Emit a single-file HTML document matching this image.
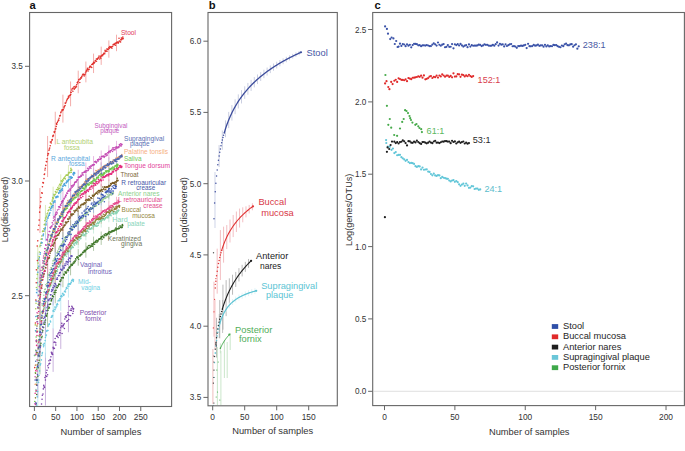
<!DOCTYPE html>
<html><head><meta charset="utf-8"><style>
html,body{margin:0;padding:0;background:#fff;width:685px;height:451px;overflow:hidden}
svg{display:block;font-family:"Liberation Sans",sans-serif}
</style></head><body><svg width="685" height="451" viewBox="0 0 685 451" font-family='"Liberation Sans", sans-serif'><rect width="685" height="451" fill="#fff"/><line x1="39.93" y1="329.31" x2="39.93" y2="374.31" stroke="#9eba94" stroke-width="0.8"/><line x1="47.59" y1="297.1" x2="47.59" y2="327.27" stroke="#9eba94" stroke-width="0.8"/><line x1="55.25" y1="279.31" x2="55.25" y2="303.31" stroke="#9eba94" stroke-width="0.8"/><line x1="62.91" y1="266.78" x2="62.91" y2="287.3" stroke="#9eba94" stroke-width="0.8"/><line x1="70.57" y1="257.08" x2="70.57" y2="275.3" stroke="#9eba94" stroke-width="0.8"/><line x1="78.23" y1="249.15" x2="78.23" y2="265.71" stroke="#9eba94" stroke-width="0.8"/><line x1="85.89" y1="242.45" x2="85.89" y2="257.72" stroke="#9eba94" stroke-width="0.8"/><line x1="93.54" y1="236.64" x2="93.54" y2="250.89" stroke="#9eba94" stroke-width="0.8"/><line x1="101.2" y1="231.5" x2="101.2" y2="244.91" stroke="#9eba94" stroke-width="0.8"/><line x1="108.86" y1="226.91" x2="108.86" y2="239.61" stroke="#9eba94" stroke-width="0.8"/><line x1="116.52" y1="222.75" x2="116.52" y2="234.84" stroke="#9eba94" stroke-width="0.8"/><line x1="45.46" y1="352.57" x2="45.46" y2="405.5" stroke="#bc9fd4" stroke-width="0.8"/><line x1="53.12" y1="328.42" x2="53.12" y2="371.87" stroke="#bc9fd4" stroke-width="0.8"/><line x1="60.78" y1="312.33" x2="60.78" y2="348.93" stroke="#bc9fd4" stroke-width="0.8"/><line x1="68.44" y1="300.02" x2="68.44" y2="332.24" stroke="#bc9fd4" stroke-width="0.8"/><line x1="37.8" y1="363.37" x2="37.8" y2="405.5" stroke="#b6e5f0" stroke-width="0.8"/><line x1="45.46" y1="316.53" x2="45.46" y2="357.72" stroke="#b6e5f0" stroke-width="0.8"/><line x1="53.12" y1="297.31" x2="53.12" y2="328.97" stroke="#b6e5f0" stroke-width="0.8"/><line x1="60.78" y1="284.16" x2="60.78" y2="310.83" stroke="#b6e5f0" stroke-width="0.8"/><line x1="68.44" y1="274.14" x2="68.44" y2="297.61" stroke="#b6e5f0" stroke-width="0.8"/><line x1="37.8" y1="342.71" x2="37.8" y2="397.71" stroke="#b4aadc" stroke-width="0.8"/><line x1="45.46" y1="292.33" x2="45.46" y2="335.47" stroke="#b4aadc" stroke-width="0.8"/><line x1="53.12" y1="272.18" x2="53.12" y2="305.35" stroke="#b4aadc" stroke-width="0.8"/><line x1="60.78" y1="258.41" x2="60.78" y2="286.35" stroke="#b4aadc" stroke-width="0.8"/><line x1="68.44" y1="247.91" x2="68.44" y2="272.51" stroke="#b4aadc" stroke-width="0.8"/><line x1="39.93" y1="311.99" x2="39.93" y2="356.99" stroke="#c2e8d8" stroke-width="0.8"/><line x1="47.59" y1="279.77" x2="47.59" y2="309.94" stroke="#c2e8d8" stroke-width="0.8"/><line x1="55.25" y1="261.98" x2="55.25" y2="285.98" stroke="#c2e8d8" stroke-width="0.8"/><line x1="62.91" y1="249.45" x2="62.91" y2="269.97" stroke="#c2e8d8" stroke-width="0.8"/><line x1="70.57" y1="239.75" x2="70.57" y2="257.97" stroke="#c2e8d8" stroke-width="0.8"/><line x1="78.23" y1="231.83" x2="78.23" y2="248.38" stroke="#c2e8d8" stroke-width="0.8"/><line x1="85.89" y1="225.12" x2="85.89" y2="240.39" stroke="#c2e8d8" stroke-width="0.8"/><line x1="93.54" y1="219.31" x2="93.54" y2="233.56" stroke="#c2e8d8" stroke-width="0.8"/><line x1="101.2" y1="214.18" x2="101.2" y2="227.58" stroke="#c2e8d8" stroke-width="0.8"/><line x1="108.86" y1="209.58" x2="108.86" y2="222.28" stroke="#c2e8d8" stroke-width="0.8"/><line x1="116.52" y1="205.42" x2="116.52" y2="217.51" stroke="#c2e8d8" stroke-width="0.8"/><line x1="39.93" y1="310.19" x2="39.93" y2="355.19" stroke="#c6be9a" stroke-width="0.8"/><line x1="47.59" y1="276.93" x2="47.59" y2="307.68" stroke="#c6be9a" stroke-width="0.8"/><line x1="55.25" y1="258.8" x2="55.25" y2="283.25" stroke="#c6be9a" stroke-width="0.8"/><line x1="62.91" y1="246.03" x2="62.91" y2="266.94" stroke="#c6be9a" stroke-width="0.8"/><line x1="70.57" y1="236.14" x2="70.57" y2="254.71" stroke="#c6be9a" stroke-width="0.8"/><line x1="78.23" y1="228.07" x2="78.23" y2="244.94" stroke="#c6be9a" stroke-width="0.8"/><line x1="85.89" y1="221.24" x2="85.89" y2="236.8" stroke="#c6be9a" stroke-width="0.8"/><line x1="93.54" y1="215.31" x2="93.54" y2="229.84" stroke="#c6be9a" stroke-width="0.8"/><line x1="101.2" y1="210.08" x2="101.2" y2="223.75" stroke="#c6be9a" stroke-width="0.8"/><line x1="108.86" y1="205.4" x2="108.86" y2="218.34" stroke="#c6be9a" stroke-width="0.8"/><line x1="116.52" y1="201.16" x2="116.52" y2="213.48" stroke="#c6be9a" stroke-width="0.8"/><line x1="39.93" y1="309.5" x2="39.93" y2="354.5" stroke="#f2a2c4" stroke-width="0.8"/><line x1="47.59" y1="274.68" x2="47.59" y2="306.29" stroke="#f2a2c4" stroke-width="0.8"/><line x1="55.25" y1="256.04" x2="55.25" y2="281.18" stroke="#f2a2c4" stroke-width="0.8"/><line x1="62.91" y1="242.91" x2="62.91" y2="264.42" stroke="#f2a2c4" stroke-width="0.8"/><line x1="70.57" y1="232.75" x2="70.57" y2="251.84" stroke="#f2a2c4" stroke-width="0.8"/><line x1="78.23" y1="224.45" x2="78.23" y2="241.79" stroke="#f2a2c4" stroke-width="0.8"/><line x1="85.89" y1="217.43" x2="85.89" y2="233.43" stroke="#f2a2c4" stroke-width="0.8"/><line x1="93.54" y1="211.34" x2="93.54" y2="226.27" stroke="#f2a2c4" stroke-width="0.8"/><line x1="101.2" y1="205.96" x2="101.2" y2="220.01" stroke="#f2a2c4" stroke-width="0.8"/><line x1="108.86" y1="201.15" x2="108.86" y2="214.45" stroke="#f2a2c4" stroke-width="0.8"/><line x1="116.52" y1="196.79" x2="116.52" y2="209.46" stroke="#f2a2c4" stroke-width="0.8"/><line x1="39.93" y1="299.66" x2="39.93" y2="344.66" stroke="#cee6cc" stroke-width="0.8"/><line x1="47.59" y1="263.8" x2="47.59" y2="295.98" stroke="#cee6cc" stroke-width="0.8"/><line x1="55.25" y1="244.82" x2="55.25" y2="270.42" stroke="#cee6cc" stroke-width="0.8"/><line x1="62.91" y1="231.46" x2="62.91" y2="253.35" stroke="#cee6cc" stroke-width="0.8"/><line x1="70.57" y1="221.11" x2="70.57" y2="240.55" stroke="#cee6cc" stroke-width="0.8"/><line x1="78.23" y1="212.66" x2="78.23" y2="230.31" stroke="#cee6cc" stroke-width="0.8"/><line x1="85.89" y1="205.51" x2="85.89" y2="221.8" stroke="#cee6cc" stroke-width="0.8"/><line x1="93.54" y1="199.31" x2="93.54" y2="214.51" stroke="#cee6cc" stroke-width="0.8"/><line x1="101.2" y1="193.83" x2="101.2" y2="208.13" stroke="#cee6cc" stroke-width="0.8"/><line x1="108.86" y1="188.93" x2="108.86" y2="202.48" stroke="#cee6cc" stroke-width="0.8"/><line x1="39.93" y1="311.44" x2="39.93" y2="356.44" stroke="#9cacda" stroke-width="0.8"/><line x1="47.59" y1="268.28" x2="47.59" y2="304.49" stroke="#9cacda" stroke-width="0.8"/><line x1="55.25" y1="246.93" x2="55.25" y2="275.73" stroke="#9cacda" stroke-width="0.8"/><line x1="62.91" y1="231.9" x2="62.91" y2="256.53" stroke="#9cacda" stroke-width="0.8"/><line x1="70.57" y1="220.26" x2="70.57" y2="242.12" stroke="#9cacda" stroke-width="0.8"/><line x1="78.23" y1="210.75" x2="78.23" y2="230.61" stroke="#9cacda" stroke-width="0.8"/><line x1="85.89" y1="202.7" x2="85.89" y2="221.03" stroke="#9cacda" stroke-width="0.8"/><line x1="93.54" y1="195.73" x2="93.54" y2="212.83" stroke="#9cacda" stroke-width="0.8"/><line x1="101.2" y1="189.57" x2="101.2" y2="205.66" stroke="#9cacda" stroke-width="0.8"/><line x1="108.86" y1="184.05" x2="108.86" y2="199.29" stroke="#9cacda" stroke-width="0.8"/><line x1="39.93" y1="276.24" x2="39.93" y2="320.62" stroke="#bcae92" stroke-width="0.8"/><line x1="47.59" y1="246.32" x2="47.59" y2="275.06" stroke="#bcae92" stroke-width="0.8"/><line x1="55.25" y1="229.38" x2="55.25" y2="252.23" stroke="#bcae92" stroke-width="0.8"/><line x1="62.91" y1="217.44" x2="62.91" y2="236.99" stroke="#bcae92" stroke-width="0.8"/><line x1="70.57" y1="208.21" x2="70.57" y2="225.56" stroke="#bcae92" stroke-width="0.8"/><line x1="78.23" y1="200.66" x2="78.23" y2="216.42" stroke="#bcae92" stroke-width="0.8"/><line x1="85.89" y1="194.27" x2="85.89" y2="208.82" stroke="#bcae92" stroke-width="0.8"/><line x1="93.54" y1="188.74" x2="93.54" y2="202.31" stroke="#bcae92" stroke-width="0.8"/><line x1="101.2" y1="183.85" x2="101.2" y2="196.62" stroke="#bcae92" stroke-width="0.8"/><line x1="108.86" y1="179.47" x2="108.86" y2="191.57" stroke="#bcae92" stroke-width="0.8"/><line x1="116.52" y1="175.51" x2="116.52" y2="187.03" stroke="#bcae92" stroke-width="0.8"/><line x1="39.93" y1="277.06" x2="39.93" y2="322.06" stroke="#f294be" stroke-width="0.8"/><line x1="47.59" y1="241.71" x2="47.59" y2="273.61" stroke="#f294be" stroke-width="0.8"/><line x1="55.25" y1="222.91" x2="55.25" y2="248.28" stroke="#f294be" stroke-width="0.8"/><line x1="62.91" y1="209.66" x2="62.91" y2="231.36" stroke="#f294be" stroke-width="0.8"/><line x1="70.57" y1="199.41" x2="70.57" y2="218.67" stroke="#f294be" stroke-width="0.8"/><line x1="78.23" y1="191.03" x2="78.23" y2="208.53" stroke="#f294be" stroke-width="0.8"/><line x1="85.89" y1="183.94" x2="85.89" y2="200.09" stroke="#f294be" stroke-width="0.8"/><line x1="93.54" y1="177.8" x2="93.54" y2="192.86" stroke="#f294be" stroke-width="0.8"/><line x1="101.2" y1="172.37" x2="101.2" y2="186.55" stroke="#f294be" stroke-width="0.8"/><line x1="108.86" y1="167.51" x2="108.86" y2="180.94" stroke="#f294be" stroke-width="0.8"/><line x1="116.52" y1="163.12" x2="116.52" y2="175.9" stroke="#f294be" stroke-width="0.8"/><line x1="39.93" y1="263.97" x2="39.93" y2="308.97" stroke="#b6e2a4" stroke-width="0.8"/><line x1="47.59" y1="232.79" x2="47.59" y2="262.39" stroke="#b6e2a4" stroke-width="0.8"/><line x1="55.25" y1="215.34" x2="55.25" y2="238.88" stroke="#b6e2a4" stroke-width="0.8"/><line x1="62.91" y1="203.05" x2="62.91" y2="223.18" stroke="#b6e2a4" stroke-width="0.8"/><line x1="70.57" y1="193.53" x2="70.57" y2="211.41" stroke="#b6e2a4" stroke-width="0.8"/><line x1="78.23" y1="185.76" x2="78.23" y2="202" stroke="#b6e2a4" stroke-width="0.8"/><line x1="85.89" y1="179.18" x2="85.89" y2="194.17" stroke="#b6e2a4" stroke-width="0.8"/><line x1="93.54" y1="173.48" x2="93.54" y2="187.46" stroke="#b6e2a4" stroke-width="0.8"/><line x1="101.2" y1="168.45" x2="101.2" y2="181.6" stroke="#b6e2a4" stroke-width="0.8"/><line x1="108.86" y1="163.94" x2="108.86" y2="176.4" stroke="#b6e2a4" stroke-width="0.8"/><line x1="116.52" y1="159.86" x2="116.52" y2="171.72" stroke="#b6e2a4" stroke-width="0.8"/><line x1="39.93" y1="269.05" x2="39.93" y2="314.05" stroke="#fad4bc" stroke-width="0.8"/><line x1="47.59" y1="232.67" x2="47.59" y2="265.14" stroke="#fad4bc" stroke-width="0.8"/><line x1="55.25" y1="213.52" x2="55.25" y2="239.35" stroke="#fad4bc" stroke-width="0.8"/><line x1="62.91" y1="200.04" x2="62.91" y2="222.13" stroke="#fad4bc" stroke-width="0.8"/><line x1="70.57" y1="189.6" x2="70.57" y2="209.21" stroke="#fad4bc" stroke-width="0.8"/><line x1="78.23" y1="181.07" x2="78.23" y2="198.88" stroke="#fad4bc" stroke-width="0.8"/><line x1="85.89" y1="173.86" x2="85.89" y2="190.29" stroke="#fad4bc" stroke-width="0.8"/><line x1="93.54" y1="167.6" x2="93.54" y2="182.94" stroke="#fad4bc" stroke-width="0.8"/><line x1="101.2" y1="162.08" x2="101.2" y2="176.51" stroke="#fad4bc" stroke-width="0.8"/><line x1="108.86" y1="157.13" x2="108.86" y2="170.8" stroke="#fad4bc" stroke-width="0.8"/><line x1="116.52" y1="152.65" x2="116.52" y2="165.67" stroke="#fad4bc" stroke-width="0.8"/><line x1="39.93" y1="269.45" x2="39.93" y2="314.45" stroke="#a6b2d8" stroke-width="0.8"/><line x1="47.59" y1="233.07" x2="47.59" y2="265.54" stroke="#a6b2d8" stroke-width="0.8"/><line x1="55.25" y1="213.92" x2="55.25" y2="239.75" stroke="#a6b2d8" stroke-width="0.8"/><line x1="62.91" y1="200.44" x2="62.91" y2="222.53" stroke="#a6b2d8" stroke-width="0.8"/><line x1="70.57" y1="190" x2="70.57" y2="209.61" stroke="#a6b2d8" stroke-width="0.8"/><line x1="78.23" y1="181.47" x2="78.23" y2="199.28" stroke="#a6b2d8" stroke-width="0.8"/><line x1="85.89" y1="174.26" x2="85.89" y2="190.69" stroke="#a6b2d8" stroke-width="0.8"/><line x1="93.54" y1="168" x2="93.54" y2="183.34" stroke="#a6b2d8" stroke-width="0.8"/><line x1="101.2" y1="162.48" x2="101.2" y2="176.91" stroke="#a6b2d8" stroke-width="0.8"/><line x1="108.86" y1="157.53" x2="108.86" y2="171.2" stroke="#a6b2d8" stroke-width="0.8"/><line x1="116.52" y1="153.05" x2="116.52" y2="166.07" stroke="#a6b2d8" stroke-width="0.8"/><line x1="39.93" y1="259.75" x2="39.93" y2="304.75" stroke="#e2a6da" stroke-width="0.8"/><line x1="47.59" y1="222.32" x2="47.59" y2="255.37" stroke="#e2a6da" stroke-width="0.8"/><line x1="55.25" y1="202.84" x2="55.25" y2="229.12" stroke="#e2a6da" stroke-width="0.8"/><line x1="62.91" y1="189.11" x2="62.91" y2="211.59" stroke="#e2a6da" stroke-width="0.8"/><line x1="70.57" y1="178.49" x2="70.57" y2="198.45" stroke="#e2a6da" stroke-width="0.8"/><line x1="78.23" y1="169.81" x2="78.23" y2="187.94" stroke="#e2a6da" stroke-width="0.8"/><line x1="85.89" y1="162.47" x2="85.89" y2="179.2" stroke="#e2a6da" stroke-width="0.8"/><line x1="93.54" y1="156.1" x2="93.54" y2="171.71" stroke="#e2a6da" stroke-width="0.8"/><line x1="101.2" y1="150.48" x2="101.2" y2="165.17" stroke="#e2a6da" stroke-width="0.8"/><line x1="108.86" y1="145.45" x2="108.86" y2="159.36" stroke="#e2a6da" stroke-width="0.8"/><line x1="116.52" y1="140.89" x2="116.52" y2="154.13" stroke="#e2a6da" stroke-width="0.8"/><line x1="37.8" y1="252.45" x2="37.8" y2="297.45" stroke="#a4d0ee" stroke-width="0.8"/><line x1="45.46" y1="211.42" x2="45.46" y2="241.23" stroke="#a4d0ee" stroke-width="0.8"/><line x1="53.12" y1="193.16" x2="53.12" y2="216.08" stroke="#a4d0ee" stroke-width="0.8"/><line x1="60.78" y1="180.82" x2="60.78" y2="200.12" stroke="#a4d0ee" stroke-width="0.8"/><line x1="68.44" y1="171.46" x2="68.44" y2="188.45" stroke="#a4d0ee" stroke-width="0.8"/><line x1="37.8" y1="245.96" x2="37.8" y2="290.96" stroke="#d4e6aa" stroke-width="0.8"/><line x1="45.46" y1="204.93" x2="45.46" y2="234.74" stroke="#d4e6aa" stroke-width="0.8"/><line x1="53.12" y1="186.67" x2="53.12" y2="209.58" stroke="#d4e6aa" stroke-width="0.8"/><line x1="60.78" y1="174.33" x2="60.78" y2="193.63" stroke="#d4e6aa" stroke-width="0.8"/><line x1="68.44" y1="164.96" x2="68.44" y2="181.96" stroke="#d4e6aa" stroke-width="0.8"/><line x1="39.93" y1="187.99" x2="39.93" y2="232.99" stroke="#f09896" stroke-width="0.8"/><line x1="47.59" y1="135.97" x2="47.59" y2="177.07" stroke="#f09896" stroke-width="0.8"/><line x1="55.25" y1="111.74" x2="55.25" y2="144.43" stroke="#f09896" stroke-width="0.8"/><line x1="62.91" y1="94.68" x2="62.91" y2="122.63" stroke="#f09896" stroke-width="0.8"/><line x1="70.57" y1="81.47" x2="70.57" y2="106.29" stroke="#f09896" stroke-width="0.8"/><line x1="78.23" y1="70.68" x2="78.23" y2="93.22" stroke="#f09896" stroke-width="0.8"/><line x1="85.89" y1="61.55" x2="85.89" y2="82.35" stroke="#f09896" stroke-width="0.8"/><line x1="93.54" y1="53.63" x2="93.54" y2="73.04" stroke="#f09896" stroke-width="0.8"/><line x1="101.2" y1="46.64" x2="101.2" y2="64.9" stroke="#f09896" stroke-width="0.8"/><line x1="108.86" y1="40.38" x2="108.86" y2="57.68" stroke="#f09896" stroke-width="0.8"/><line x1="116.52" y1="34.71" x2="116.52" y2="51.18" stroke="#f09896" stroke-width="0.8"/><line x1="219.1" y1="145.04" x2="219.1" y2="167.04" stroke="#b4bad4" stroke-width="0.7"/><line x1="222.3" y1="130.51" x2="222.3" y2="149.73" stroke="#b4bad4" stroke-width="0.7"/><line x1="225.5" y1="120.37" x2="225.5" y2="137.24" stroke="#b4bad4" stroke-width="0.7"/><line x1="228.7" y1="111.91" x2="228.7" y2="128.11" stroke="#b4bad4" stroke-width="0.7"/><line x1="231.9" y1="105.05" x2="231.9" y2="120.58" stroke="#b4bad4" stroke-width="0.7"/><line x1="235.1" y1="99.3" x2="235.1" y2="114.15" stroke="#b4bad4" stroke-width="0.7"/><line x1="238.3" y1="94.39" x2="238.3" y2="108.49" stroke="#b4bad4" stroke-width="0.7"/><line x1="241.5" y1="90.11" x2="241.5" y2="103.46" stroke="#b4bad4" stroke-width="0.7"/><line x1="244.7" y1="86.31" x2="244.7" y2="98.91" stroke="#b4bad4" stroke-width="0.7"/><line x1="247.9" y1="82.91" x2="247.9" y2="94.76" stroke="#b4bad4" stroke-width="0.7"/><line x1="251.1" y1="79.83" x2="251.1" y2="90.93" stroke="#b4bad4" stroke-width="0.7"/><line x1="254.3" y1="77.03" x2="254.3" y2="87.38" stroke="#b4bad4" stroke-width="0.7"/><line x1="257.5" y1="74.47" x2="257.5" y2="84.07" stroke="#b4bad4" stroke-width="0.7"/><line x1="260.7" y1="72.07" x2="260.7" y2="80.98" stroke="#b4bad4" stroke-width="0.7"/><line x1="263.9" y1="69.73" x2="263.9" y2="78.2" stroke="#b4bad4" stroke-width="0.7"/><line x1="267.1" y1="67.53" x2="267.1" y2="75.58" stroke="#b4bad4" stroke-width="0.7"/><line x1="270.3" y1="65.48" x2="270.3" y2="73.09" stroke="#b4bad4" stroke-width="0.7"/><line x1="273.5" y1="63.55" x2="273.5" y2="70.72" stroke="#b4bad4" stroke-width="0.7"/><line x1="276.7" y1="61.72" x2="276.7" y2="68.46" stroke="#b4bad4" stroke-width="0.7"/><line x1="279.9" y1="60" x2="279.9" y2="66.3" stroke="#b4bad4" stroke-width="0.7"/><line x1="283.1" y1="58.36" x2="283.1" y2="64.23" stroke="#b4bad4" stroke-width="0.7"/><line x1="286.3" y1="56.81" x2="286.3" y2="62.25" stroke="#b4bad4" stroke-width="0.7"/><line x1="289.5" y1="55.33" x2="289.5" y2="60.33" stroke="#b4bad4" stroke-width="0.7"/><line x1="292.7" y1="53.85" x2="292.7" y2="58.57" stroke="#b4bad4" stroke-width="0.7"/><line x1="295.9" y1="52.42" x2="295.9" y2="56.87" stroke="#b4bad4" stroke-width="0.7"/><line x1="299.1" y1="51.06" x2="299.1" y2="55.22" stroke="#b4bad4" stroke-width="0.7"/><line x1="215" y1="172" x2="215" y2="228" stroke="#b9c2de" stroke-width="0.7"/><line x1="213.98" y1="281.68" x2="213.98" y2="336.68" stroke="#eea2a8" stroke-width="0.7"/><line x1="217.18" y1="248.65" x2="217.18" y2="293.65" stroke="#eea2a8" stroke-width="0.7"/><line x1="220.38" y1="230.02" x2="220.38" y2="280.02" stroke="#eea2a8" stroke-width="0.7"/><line x1="223.58" y1="226.67" x2="223.58" y2="262.67" stroke="#eea2a8" stroke-width="0.7"/><line x1="226.78" y1="225.05" x2="226.78" y2="249.05" stroke="#eea2a8" stroke-width="0.7"/><line x1="229.98" y1="219.52" x2="229.98" y2="242.52" stroke="#eea2a8" stroke-width="0.7"/><line x1="233.18" y1="215.04" x2="233.18" y2="237.04" stroke="#eea2a8" stroke-width="0.7"/><line x1="236.38" y1="211.53" x2="236.38" y2="232.03" stroke="#eea2a8" stroke-width="0.7"/><line x1="239.58" y1="208.58" x2="239.58" y2="227.58" stroke="#eea2a8" stroke-width="0.7"/><line x1="242.78" y1="207.3" x2="242.78" y2="222.3" stroke="#eea2a8" stroke-width="0.7"/><line x1="245.98" y1="206.36" x2="245.98" y2="217.36" stroke="#eea2a8" stroke-width="0.7"/><line x1="249.18" y1="204.94" x2="249.18" y2="213.44" stroke="#eea2a8" stroke-width="0.7"/><line x1="252.38" y1="203.26" x2="252.38" y2="210.26" stroke="#eea2a8" stroke-width="0.7"/><line x1="216.54" y1="317.82" x2="216.54" y2="357.54" stroke="#9c9c9c" stroke-width="0.7"/><line x1="219.74" y1="300.07" x2="219.74" y2="338.36" stroke="#9c9c9c" stroke-width="0.7"/><line x1="222.94" y1="284.67" x2="222.94" y2="329.67" stroke="#9c9c9c" stroke-width="0.7"/><line x1="226.14" y1="280.12" x2="226.14" y2="316.12" stroke="#9c9c9c" stroke-width="0.7"/><line x1="229.34" y1="278.34" x2="229.34" y2="303.34" stroke="#9c9c9c" stroke-width="0.7"/><line x1="232.54" y1="274.73" x2="232.54" y2="294.73" stroke="#9c9c9c" stroke-width="0.7"/><line x1="235.74" y1="271.95" x2="235.74" y2="286.95" stroke="#9c9c9c" stroke-width="0.7"/><line x1="238.94" y1="268.13" x2="238.94" y2="281.46" stroke="#9c9c9c" stroke-width="0.7"/><line x1="242.14" y1="264.8" x2="242.14" y2="276.46" stroke="#9c9c9c" stroke-width="0.7"/><line x1="245.34" y1="261.86" x2="245.34" y2="271.86" stroke="#9c9c9c" stroke-width="0.7"/><line x1="248.54" y1="258.96" x2="248.54" y2="267.85" stroke="#9c9c9c" stroke-width="0.7"/><line x1="216.54" y1="337.4" x2="216.54" y2="343.4" stroke="#d2eef4" stroke-width="0.7"/><line x1="219.74" y1="320.88" x2="219.74" y2="326.88" stroke="#d2eef4" stroke-width="0.7"/><line x1="222.94" y1="312.04" x2="222.94" y2="318.04" stroke="#d2eef4" stroke-width="0.7"/><line x1="226.14" y1="306.29" x2="226.14" y2="312.29" stroke="#d2eef4" stroke-width="0.7"/><line x1="229.34" y1="302.16" x2="229.34" y2="308.16" stroke="#d2eef4" stroke-width="0.7"/><line x1="232.54" y1="299.01" x2="232.54" y2="305.01" stroke="#d2eef4" stroke-width="0.7"/><line x1="235.74" y1="296.52" x2="235.74" y2="302.52" stroke="#d2eef4" stroke-width="0.7"/><line x1="238.94" y1="294.48" x2="238.94" y2="300.48" stroke="#d2eef4" stroke-width="0.7"/><line x1="242.14" y1="292.79" x2="242.14" y2="298.79" stroke="#d2eef4" stroke-width="0.7"/><line x1="245.34" y1="291.36" x2="245.34" y2="297.36" stroke="#d2eef4" stroke-width="0.7"/><line x1="248.54" y1="290.13" x2="248.54" y2="296.13" stroke="#d2eef4" stroke-width="0.7"/><line x1="251.74" y1="289.06" x2="251.74" y2="295.06" stroke="#d2eef4" stroke-width="0.7"/><line x1="254.94" y1="288.13" x2="254.94" y2="294.13" stroke="#d2eef4" stroke-width="0.7"/><line x1="220.38" y1="343.32" x2="220.38" y2="353.32" stroke="#bde0bd" stroke-width="0.7"/><line x1="217.4" y1="347" x2="217.4" y2="405" stroke="#bde0bd" stroke-width="0.8"/><line x1="220.9" y1="351" x2="220.9" y2="405" stroke="#bde0bd" stroke-width="0.8"/><line x1="224.4" y1="340" x2="224.4" y2="378" stroke="#bde0bd" stroke-width="0.8"/><line x1="227.2" y1="342" x2="227.2" y2="378" stroke="#bde0bd" stroke-width="0.8"/><line x1="230.2" y1="333" x2="230.2" y2="350" stroke="#bde0bd" stroke-width="0.8"/><line x1="215" y1="300" x2="215" y2="349" stroke="#f3b0b0" stroke-width="0.7"/><line x1="212.9" y1="349" x2="212.9" y2="404" stroke="#e8a0a0" stroke-width="0.7"/><line x1="219.3" y1="314" x2="219.3" y2="338" stroke="#a8a8a8" stroke-width="0.7"/><line x1="222.6" y1="300" x2="222.6" y2="333" stroke="#a8a8a8" stroke-width="0.7"/><line x1="373.7" y1="391.3" x2="682.9" y2="391.3" stroke="#d8d8d8" stroke-width="0.8"/><circle cx="36.1" cy="403.78" r="0.78" fill="#3e7628"/><circle cx="36.65" cy="394.54" r="0.78" fill="#3e7628"/><circle cx="36.71" cy="385.32" r="0.78" fill="#3e7628"/><circle cx="37.06" cy="380.14" r="0.78" fill="#3e7628"/><circle cx="37.84" cy="376.14" r="0.78" fill="#3e7628"/><circle cx="38.24" cy="367.8" r="0.78" fill="#3e7628"/><circle cx="38.62" cy="362.82" r="0.78" fill="#3e7628"/><circle cx="39.09" cy="360.17" r="0.78" fill="#3e7628"/><circle cx="39.38" cy="355.99" r="0.78" fill="#3e7628"/><circle cx="39.7" cy="351.96" r="0.78" fill="#3e7628"/><circle cx="40.33" cy="347.11" r="0.78" fill="#3e7628"/><circle cx="40.64" cy="345.25" r="0.78" fill="#3e7628"/><circle cx="40.96" cy="343.3" r="0.78" fill="#3e7628"/><circle cx="41.71" cy="337.76" r="0.78" fill="#3e7628"/><circle cx="42.05" cy="336.36" r="0.78" fill="#3e7628"/><circle cx="42.55" cy="331.99" r="0.78" fill="#3e7628"/><circle cx="42.76" cy="330.48" r="0.78" fill="#3e7628"/><circle cx="43.24" cy="327.56" r="0.78" fill="#3e7628"/><circle cx="43.61" cy="327.52" r="0.78" fill="#3e7628"/><circle cx="44.05" cy="324.18" r="0.78" fill="#3e7628"/><circle cx="44.64" cy="324.2" r="0.78" fill="#3e7628"/><circle cx="44.92" cy="322.19" r="0.78" fill="#3e7628"/><circle cx="45.52" cy="319.97" r="0.78" fill="#3e7628"/><circle cx="45.94" cy="315.39" r="0.78" fill="#3e7628"/><circle cx="46.62" cy="316.17" r="0.78" fill="#3e7628"/><circle cx="46.53" cy="315.17" r="0.78" fill="#3e7628"/><circle cx="47.3" cy="313.82" r="0.78" fill="#3e7628"/><circle cx="47.58" cy="310.35" r="0.78" fill="#3e7628"/><circle cx="48.01" cy="310.17" r="0.78" fill="#3e7628"/><circle cx="48.22" cy="308.17" r="0.78" fill="#3e7628"/><circle cx="48.8" cy="307.02" r="0.78" fill="#3e7628"/><circle cx="49.4" cy="307.89" r="0.78" fill="#3e7628"/><circle cx="49.71" cy="304.42" r="0.78" fill="#3e7628"/><circle cx="50.16" cy="304.08" r="0.78" fill="#3e7628"/><circle cx="50.53" cy="303.92" r="0.78" fill="#3e7628"/><circle cx="51.17" cy="301.04" r="0.78" fill="#3e7628"/><circle cx="51.42" cy="300.43" r="0.78" fill="#3e7628"/><circle cx="51.52" cy="299.56" r="0.78" fill="#3e7628"/><circle cx="52.17" cy="298.41" r="0.78" fill="#3e7628"/><circle cx="52.4" cy="295.88" r="0.78" fill="#3e7628"/><circle cx="52.63" cy="296.3" r="0.78" fill="#3e7628"/><circle cx="53.47" cy="296.72" r="0.78" fill="#3e7628"/><circle cx="54.17" cy="292.46" r="0.78" fill="#3e7628"/><circle cx="54.41" cy="294.16" r="0.78" fill="#3e7628"/><circle cx="54.65" cy="292.38" r="0.78" fill="#3e7628"/><circle cx="55.11" cy="290.6" r="0.78" fill="#3e7628"/><circle cx="55.84" cy="292.59" r="0.78" fill="#3e7628"/><circle cx="56.12" cy="290.32" r="0.78" fill="#3e7628"/><circle cx="56.53" cy="287.28" r="0.78" fill="#3e7628"/><circle cx="56.94" cy="287.81" r="0.78" fill="#3e7628"/><circle cx="57.38" cy="287.5" r="0.78" fill="#3e7628"/><circle cx="57.92" cy="285.83" r="0.78" fill="#3e7628"/><circle cx="58.31" cy="285.96" r="0.78" fill="#3e7628"/><circle cx="58.69" cy="284.34" r="0.78" fill="#3e7628"/><circle cx="58.92" cy="284.34" r="0.78" fill="#3e7628"/><circle cx="59.58" cy="284.38" r="0.78" fill="#3e7628"/><circle cx="59.83" cy="281.35" r="0.78" fill="#3e7628"/><circle cx="60.52" cy="281.53" r="0.78" fill="#3e7628"/><circle cx="60.59" cy="280.08" r="0.78" fill="#3e7628"/><circle cx="61.19" cy="279.98" r="0.78" fill="#3e7628"/><circle cx="61.63" cy="277.87" r="0.78" fill="#3e7628"/><circle cx="61.86" cy="277.81" r="0.78" fill="#3e7628"/><circle cx="62.74" cy="277.52" r="0.78" fill="#3e7628"/><circle cx="63.13" cy="277.99" r="0.78" fill="#3e7628"/><circle cx="63.26" cy="277.57" r="0.78" fill="#3e7628"/><circle cx="63.88" cy="274.31" r="0.78" fill="#3e7628"/><circle cx="64.24" cy="274.21" r="0.78" fill="#3e7628"/><circle cx="64.22" cy="275.07" r="0.78" fill="#3e7628"/><circle cx="65.07" cy="271.68" r="0.78" fill="#3e7628"/><circle cx="65.45" cy="272.65" r="0.78" fill="#3e7628"/><circle cx="65.9" cy="272.41" r="0.78" fill="#3e7628"/><circle cx="66.15" cy="273.2" r="0.78" fill="#3e7628"/><circle cx="66.7" cy="272.01" r="0.78" fill="#3e7628"/><circle cx="67.14" cy="270.36" r="0.78" fill="#3e7628"/><circle cx="67.77" cy="269.73" r="0.78" fill="#3e7628"/><circle cx="68.06" cy="269.27" r="0.78" fill="#3e7628"/><circle cx="68.44" cy="270.52" r="0.78" fill="#3e7628"/><circle cx="69.09" cy="267.95" r="0.78" fill="#3e7628"/><circle cx="69.21" cy="267.51" r="0.78" fill="#3e7628"/><circle cx="69.66" cy="267.63" r="0.78" fill="#3e7628"/><circle cx="69.87" cy="266.6" r="0.78" fill="#3e7628"/><circle cx="70.8" cy="265.99" r="0.78" fill="#3e7628"/><circle cx="71.14" cy="264.52" r="0.78" fill="#3e7628"/><circle cx="71.56" cy="265.12" r="0.78" fill="#3e7628"/><circle cx="71.94" cy="264.16" r="0.78" fill="#3e7628"/><circle cx="72.29" cy="265.27" r="0.78" fill="#3e7628"/><circle cx="72.73" cy="264.24" r="0.78" fill="#3e7628"/><circle cx="73.08" cy="263.05" r="0.78" fill="#3e7628"/><circle cx="73.52" cy="263.25" r="0.78" fill="#3e7628"/><circle cx="73.98" cy="261.74" r="0.78" fill="#3e7628"/><circle cx="74.62" cy="262.66" r="0.78" fill="#3e7628"/><circle cx="74.91" cy="261.11" r="0.78" fill="#3e7628"/><circle cx="75.24" cy="261.22" r="0.78" fill="#3e7628"/><circle cx="75.59" cy="258.87" r="0.78" fill="#3e7628"/><circle cx="76" cy="260.05" r="0.78" fill="#3e7628"/><circle cx="76.76" cy="257.54" r="0.78" fill="#3e7628"/><circle cx="77.03" cy="256.74" r="0.78" fill="#3e7628"/><circle cx="77.39" cy="258.02" r="0.78" fill="#3e7628"/><circle cx="77.75" cy="256.98" r="0.78" fill="#3e7628"/><circle cx="78.06" cy="257.59" r="0.78" fill="#3e7628"/><circle cx="78.64" cy="259.22" r="0.78" fill="#3e7628"/><circle cx="79.21" cy="255.73" r="0.78" fill="#3e7628"/><circle cx="79.44" cy="255.5" r="0.78" fill="#3e7628"/><circle cx="79.89" cy="255.9" r="0.78" fill="#3e7628"/><circle cx="80.32" cy="255.76" r="0.78" fill="#3e7628"/><circle cx="80.8" cy="254.67" r="0.78" fill="#3e7628"/><circle cx="80.97" cy="254.23" r="0.78" fill="#3e7628"/><circle cx="81.6" cy="254.71" r="0.78" fill="#3e7628"/><circle cx="81.93" cy="254.12" r="0.78" fill="#3e7628"/><circle cx="82.61" cy="252.19" r="0.78" fill="#3e7628"/><circle cx="82.79" cy="252.72" r="0.78" fill="#3e7628"/><circle cx="83.42" cy="252.44" r="0.78" fill="#3e7628"/><circle cx="83.99" cy="250.97" r="0.78" fill="#3e7628"/><circle cx="84.14" cy="251.87" r="0.78" fill="#3e7628"/><circle cx="84.52" cy="250.39" r="0.78" fill="#3e7628"/><circle cx="85.06" cy="251.8" r="0.78" fill="#3e7628"/><circle cx="85.46" cy="250.65" r="0.78" fill="#3e7628"/><circle cx="85.74" cy="250.17" r="0.78" fill="#3e7628"/><circle cx="86.38" cy="249.13" r="0.78" fill="#3e7628"/><circle cx="87.04" cy="249.22" r="0.78" fill="#3e7628"/><circle cx="87.12" cy="247.02" r="0.78" fill="#3e7628"/><circle cx="87.56" cy="247.5" r="0.78" fill="#3e7628"/><circle cx="87.86" cy="248.59" r="0.78" fill="#3e7628"/><circle cx="88.49" cy="245.81" r="0.78" fill="#3e7628"/><circle cx="88.68" cy="248.34" r="0.78" fill="#3e7628"/><circle cx="89.12" cy="245.47" r="0.78" fill="#3e7628"/><circle cx="89.91" cy="247.55" r="0.78" fill="#3e7628"/><circle cx="90" cy="245.64" r="0.78" fill="#3e7628"/><circle cx="90.73" cy="246.87" r="0.78" fill="#3e7628"/><circle cx="91.22" cy="245.9" r="0.78" fill="#3e7628"/><circle cx="91.46" cy="243.95" r="0.78" fill="#3e7628"/><circle cx="91.93" cy="246.3" r="0.78" fill="#3e7628"/><circle cx="92.56" cy="246.15" r="0.78" fill="#3e7628"/><circle cx="92.66" cy="244.36" r="0.78" fill="#3e7628"/><circle cx="93.03" cy="243.83" r="0.78" fill="#3e7628"/><circle cx="93.34" cy="243.61" r="0.78" fill="#3e7628"/><circle cx="93.98" cy="242.5" r="0.78" fill="#3e7628"/><circle cx="94.62" cy="244.16" r="0.78" fill="#3e7628"/><circle cx="94.96" cy="242.27" r="0.78" fill="#3e7628"/><circle cx="95.11" cy="242.42" r="0.78" fill="#3e7628"/><circle cx="95.54" cy="241.39" r="0.78" fill="#3e7628"/><circle cx="96.02" cy="241.23" r="0.78" fill="#3e7628"/><circle cx="96.57" cy="240.3" r="0.78" fill="#3e7628"/><circle cx="96.92" cy="242.41" r="0.78" fill="#3e7628"/><circle cx="97.41" cy="240.75" r="0.78" fill="#3e7628"/><circle cx="97.84" cy="241.51" r="0.78" fill="#3e7628"/><circle cx="98.18" cy="240.3" r="0.78" fill="#3e7628"/><circle cx="98.64" cy="239.32" r="0.78" fill="#3e7628"/><circle cx="99.11" cy="239.37" r="0.78" fill="#3e7628"/><circle cx="99.49" cy="238.85" r="0.78" fill="#3e7628"/><circle cx="100" cy="239.09" r="0.78" fill="#3e7628"/><circle cx="100.63" cy="238.44" r="0.78" fill="#3e7628"/><circle cx="100.87" cy="238.21" r="0.78" fill="#3e7628"/><circle cx="101.21" cy="236.9" r="0.78" fill="#3e7628"/><circle cx="101.38" cy="237.15" r="0.78" fill="#3e7628"/><circle cx="102.11" cy="239.2" r="0.78" fill="#3e7628"/><circle cx="102.19" cy="236.71" r="0.78" fill="#3e7628"/><circle cx="102.69" cy="236.06" r="0.78" fill="#3e7628"/><circle cx="103.46" cy="237.1" r="0.78" fill="#3e7628"/><circle cx="103.86" cy="237.83" r="0.78" fill="#3e7628"/><circle cx="104.16" cy="234.84" r="0.78" fill="#3e7628"/><circle cx="104.35" cy="235.74" r="0.78" fill="#3e7628"/><circle cx="104.98" cy="235.07" r="0.78" fill="#3e7628"/><circle cx="105.36" cy="233.73" r="0.78" fill="#3e7628"/><circle cx="105.98" cy="235.81" r="0.78" fill="#3e7628"/><circle cx="106.65" cy="234.83" r="0.78" fill="#3e7628"/><circle cx="106.77" cy="234.65" r="0.78" fill="#3e7628"/><circle cx="107.04" cy="233.6" r="0.78" fill="#3e7628"/><circle cx="107.41" cy="234.47" r="0.78" fill="#3e7628"/><circle cx="108" cy="233.28" r="0.78" fill="#3e7628"/><circle cx="108.41" cy="233.38" r="0.78" fill="#3e7628"/><circle cx="108.69" cy="232.22" r="0.78" fill="#3e7628"/><circle cx="109.31" cy="231.86" r="0.78" fill="#3e7628"/><circle cx="109.54" cy="233.99" r="0.78" fill="#3e7628"/><circle cx="110.31" cy="232.01" r="0.78" fill="#3e7628"/><circle cx="110.72" cy="232.5" r="0.78" fill="#3e7628"/><circle cx="111.15" cy="231.94" r="0.78" fill="#3e7628"/><circle cx="111.34" cy="231.31" r="0.78" fill="#3e7628"/><circle cx="111.92" cy="230.99" r="0.78" fill="#3e7628"/><circle cx="112.25" cy="231.81" r="0.78" fill="#3e7628"/><circle cx="112.63" cy="230.69" r="0.78" fill="#3e7628"/><circle cx="113.07" cy="230.58" r="0.78" fill="#3e7628"/><circle cx="113.35" cy="230.5" r="0.78" fill="#3e7628"/><circle cx="113.75" cy="231.33" r="0.78" fill="#3e7628"/><circle cx="114.51" cy="230.62" r="0.78" fill="#3e7628"/><circle cx="114.79" cy="230.1" r="0.78" fill="#3e7628"/><circle cx="115.28" cy="228.98" r="0.78" fill="#3e7628"/><circle cx="115.82" cy="227.98" r="0.78" fill="#3e7628"/><circle cx="115.84" cy="229.91" r="0.78" fill="#3e7628"/><circle cx="116.4" cy="229.69" r="0.78" fill="#3e7628"/><circle cx="116.97" cy="228.43" r="0.78" fill="#3e7628"/><circle cx="117.43" cy="228.83" r="0.78" fill="#3e7628"/><circle cx="117.74" cy="228.82" r="0.78" fill="#3e7628"/><circle cx="118.38" cy="228.63" r="0.78" fill="#3e7628"/><circle cx="118.68" cy="228.48" r="0.78" fill="#3e7628"/><circle cx="118.89" cy="226.97" r="0.78" fill="#3e7628"/><circle cx="119.36" cy="228.57" r="0.78" fill="#3e7628"/><circle cx="120.05" cy="225.79" r="0.78" fill="#3e7628"/><circle cx="120.42" cy="227.51" r="0.78" fill="#3e7628"/><circle cx="120.49" cy="226.95" r="0.78" fill="#3e7628"/><circle cx="121.4" cy="227.07" r="0.78" fill="#3e7628"/><circle cx="121.72" cy="227.78" r="0.78" fill="#3e7628"/><circle cx="122.25" cy="227.19" r="0.78" fill="#3e7628"/><circle cx="122.42" cy="224.54" r="0.78" fill="#3e7628"/><circle cx="122.42" cy="225.6" r="1.1" fill="#3e7628"/><circle cx="41.52" cy="404.08" r="0.78" fill="#7a3fa8"/><circle cx="42.05" cy="399.22" r="0.78" fill="#7a3fa8"/><circle cx="42.33" cy="395.2" r="0.78" fill="#7a3fa8"/><circle cx="43" cy="394" r="0.78" fill="#7a3fa8"/><circle cx="43.32" cy="388.88" r="0.78" fill="#7a3fa8"/><circle cx="43.8" cy="385.4" r="0.78" fill="#7a3fa8"/><circle cx="44.16" cy="386.89" r="0.78" fill="#7a3fa8"/><circle cx="44.5" cy="387.46" r="0.78" fill="#7a3fa8"/><circle cx="44.9" cy="377.41" r="0.78" fill="#7a3fa8"/><circle cx="45.43" cy="380.08" r="0.78" fill="#7a3fa8"/><circle cx="45.81" cy="375.86" r="0.78" fill="#7a3fa8"/><circle cx="46.35" cy="372.76" r="0.78" fill="#7a3fa8"/><circle cx="46.74" cy="376.55" r="0.78" fill="#7a3fa8"/><circle cx="46.96" cy="370.3" r="0.78" fill="#7a3fa8"/><circle cx="47.6" cy="374.77" r="0.78" fill="#7a3fa8"/><circle cx="47.81" cy="365.82" r="0.78" fill="#7a3fa8"/><circle cx="48.35" cy="367.72" r="0.78" fill="#7a3fa8"/><circle cx="48.82" cy="364.1" r="0.78" fill="#7a3fa8"/><circle cx="48.98" cy="360.82" r="0.78" fill="#7a3fa8"/><circle cx="49.73" cy="363.38" r="0.78" fill="#7a3fa8"/><circle cx="50.17" cy="359.52" r="0.78" fill="#7a3fa8"/><circle cx="50.55" cy="360.34" r="0.78" fill="#7a3fa8"/><circle cx="50.93" cy="356.86" r="0.78" fill="#7a3fa8"/><circle cx="51.36" cy="352.23" r="0.78" fill="#7a3fa8"/><circle cx="51.7" cy="353.85" r="0.78" fill="#7a3fa8"/><circle cx="52.23" cy="352.95" r="0.78" fill="#7a3fa8"/><circle cx="52.61" cy="354.38" r="0.78" fill="#7a3fa8"/><circle cx="53.14" cy="347.38" r="0.78" fill="#7a3fa8"/><circle cx="53.37" cy="348.74" r="0.78" fill="#7a3fa8"/><circle cx="54.01" cy="342.37" r="0.78" fill="#7a3fa8"/><circle cx="54.42" cy="348.37" r="0.78" fill="#7a3fa8"/><circle cx="54.8" cy="341.91" r="0.78" fill="#7a3fa8"/><circle cx="55.18" cy="338.55" r="0.78" fill="#7a3fa8"/><circle cx="55.76" cy="342.69" r="0.78" fill="#7a3fa8"/><circle cx="55.85" cy="345.08" r="0.78" fill="#7a3fa8"/><circle cx="56.6" cy="336.04" r="0.78" fill="#7a3fa8"/><circle cx="56.99" cy="336.28" r="0.78" fill="#7a3fa8"/><circle cx="57.42" cy="336.25" r="0.78" fill="#7a3fa8"/><circle cx="57.86" cy="334.05" r="0.78" fill="#7a3fa8"/><circle cx="58.13" cy="337.56" r="0.78" fill="#7a3fa8"/><circle cx="58.61" cy="332.99" r="0.78" fill="#7a3fa8"/><circle cx="59.17" cy="332.27" r="0.78" fill="#7a3fa8"/><circle cx="59.57" cy="335.2" r="0.78" fill="#7a3fa8"/><circle cx="59.96" cy="330.24" r="0.78" fill="#7a3fa8"/><circle cx="60.13" cy="332.85" r="0.78" fill="#7a3fa8"/><circle cx="60.86" cy="327.74" r="0.78" fill="#7a3fa8"/><circle cx="61.38" cy="326.11" r="0.78" fill="#7a3fa8"/><circle cx="61.78" cy="323.36" r="0.78" fill="#7a3fa8"/><circle cx="62.09" cy="333.47" r="0.78" fill="#7a3fa8"/><circle cx="62.25" cy="326.12" r="0.78" fill="#7a3fa8"/><circle cx="63.05" cy="326.94" r="0.78" fill="#7a3fa8"/><circle cx="63.31" cy="325.28" r="0.78" fill="#7a3fa8"/><circle cx="63.38" cy="325.02" r="0.78" fill="#7a3fa8"/><circle cx="64.24" cy="323.87" r="0.78" fill="#7a3fa8"/><circle cx="64.39" cy="328.56" r="0.78" fill="#7a3fa8"/><circle cx="64.84" cy="319.06" r="0.78" fill="#7a3fa8"/><circle cx="65.37" cy="316.74" r="0.78" fill="#7a3fa8"/><circle cx="66.08" cy="317.58" r="0.78" fill="#7a3fa8"/><circle cx="66.26" cy="315.87" r="0.78" fill="#7a3fa8"/><circle cx="66.78" cy="321.25" r="0.78" fill="#7a3fa8"/><circle cx="67.43" cy="320.72" r="0.78" fill="#7a3fa8"/><circle cx="67.83" cy="314.74" r="0.78" fill="#7a3fa8"/><circle cx="68" cy="312.76" r="0.78" fill="#7a3fa8"/><circle cx="68.4" cy="315.09" r="0.78" fill="#7a3fa8"/><circle cx="68.68" cy="319.5" r="0.78" fill="#7a3fa8"/><circle cx="69.19" cy="306.46" r="0.78" fill="#7a3fa8"/><circle cx="69.78" cy="315.58" r="0.78" fill="#7a3fa8"/><circle cx="70.2" cy="310.2" r="0.78" fill="#7a3fa8"/><circle cx="70.58" cy="315.72" r="0.78" fill="#7a3fa8"/><circle cx="71.14" cy="308.86" r="0.78" fill="#7a3fa8"/><circle cx="71.3" cy="310.52" r="0.78" fill="#7a3fa8"/><circle cx="71.84" cy="306.31" r="0.78" fill="#7a3fa8"/><circle cx="72.38" cy="307.21" r="0.78" fill="#7a3fa8"/><circle cx="72.78" cy="313.47" r="0.78" fill="#7a3fa8"/><circle cx="73.28" cy="311.19" r="0.78" fill="#7a3fa8"/><circle cx="73.28" cy="308.8" r="1.1" fill="#7a3fa8"/><circle cx="36.71" cy="405.17" r="0.78" fill="#6ccbe0"/><circle cx="37.22" cy="396.86" r="0.78" fill="#6ccbe0"/><circle cx="37.75" cy="391.46" r="0.78" fill="#6ccbe0"/><circle cx="38.61" cy="382.39" r="0.78" fill="#6ccbe0"/><circle cx="38.8" cy="380.05" r="0.78" fill="#6ccbe0"/><circle cx="39.06" cy="375.3" r="0.78" fill="#6ccbe0"/><circle cx="39.61" cy="370.9" r="0.78" fill="#6ccbe0"/><circle cx="40.24" cy="364.92" r="0.78" fill="#6ccbe0"/><circle cx="40.32" cy="364.8" r="0.78" fill="#6ccbe0"/><circle cx="40.73" cy="363.69" r="0.78" fill="#6ccbe0"/><circle cx="41.39" cy="359.89" r="0.78" fill="#6ccbe0"/><circle cx="41.71" cy="355.54" r="0.78" fill="#6ccbe0"/><circle cx="42.16" cy="353.87" r="0.78" fill="#6ccbe0"/><circle cx="42.41" cy="352.62" r="0.78" fill="#6ccbe0"/><circle cx="43.2" cy="344.79" r="0.78" fill="#6ccbe0"/><circle cx="43.59" cy="346.67" r="0.78" fill="#6ccbe0"/><circle cx="43.85" cy="345.58" r="0.78" fill="#6ccbe0"/><circle cx="44.29" cy="343.76" r="0.78" fill="#6ccbe0"/><circle cx="44.31" cy="343.35" r="0.78" fill="#6ccbe0"/><circle cx="45.13" cy="340.62" r="0.78" fill="#6ccbe0"/><circle cx="45.43" cy="337.59" r="0.78" fill="#6ccbe0"/><circle cx="45.95" cy="335.85" r="0.78" fill="#6ccbe0"/><circle cx="46.42" cy="334.91" r="0.78" fill="#6ccbe0"/><circle cx="46.69" cy="331.36" r="0.78" fill="#6ccbe0"/><circle cx="46.91" cy="330.54" r="0.78" fill="#6ccbe0"/><circle cx="47.65" cy="330.42" r="0.78" fill="#6ccbe0"/><circle cx="47.9" cy="330.48" r="0.78" fill="#6ccbe0"/><circle cx="48.39" cy="326.03" r="0.78" fill="#6ccbe0"/><circle cx="48.78" cy="324.82" r="0.78" fill="#6ccbe0"/><circle cx="49.24" cy="323.85" r="0.78" fill="#6ccbe0"/><circle cx="49.37" cy="324.19" r="0.78" fill="#6ccbe0"/><circle cx="50.33" cy="321" r="0.78" fill="#6ccbe0"/><circle cx="50.61" cy="321.89" r="0.78" fill="#6ccbe0"/><circle cx="51.16" cy="317.28" r="0.78" fill="#6ccbe0"/><circle cx="51.72" cy="317.22" r="0.78" fill="#6ccbe0"/><circle cx="51.85" cy="316.08" r="0.78" fill="#6ccbe0"/><circle cx="52" cy="316.35" r="0.78" fill="#6ccbe0"/><circle cx="52.56" cy="315.63" r="0.78" fill="#6ccbe0"/><circle cx="52.94" cy="311.06" r="0.78" fill="#6ccbe0"/><circle cx="53.47" cy="310.86" r="0.78" fill="#6ccbe0"/><circle cx="53.98" cy="311.57" r="0.78" fill="#6ccbe0"/><circle cx="54.1" cy="309.23" r="0.78" fill="#6ccbe0"/><circle cx="54.88" cy="307.1" r="0.78" fill="#6ccbe0"/><circle cx="55.02" cy="309.64" r="0.78" fill="#6ccbe0"/><circle cx="55.72" cy="307.98" r="0.78" fill="#6ccbe0"/><circle cx="56.08" cy="307.07" r="0.78" fill="#6ccbe0"/><circle cx="56.48" cy="304.88" r="0.78" fill="#6ccbe0"/><circle cx="56.94" cy="306.03" r="0.78" fill="#6ccbe0"/><circle cx="57.3" cy="303.48" r="0.78" fill="#6ccbe0"/><circle cx="57.71" cy="304.43" r="0.78" fill="#6ccbe0"/><circle cx="57.98" cy="300.92" r="0.78" fill="#6ccbe0"/><circle cx="58.65" cy="300.2" r="0.78" fill="#6ccbe0"/><circle cx="59.36" cy="300.81" r="0.78" fill="#6ccbe0"/><circle cx="59.8" cy="298.83" r="0.78" fill="#6ccbe0"/><circle cx="60.13" cy="299.89" r="0.78" fill="#6ccbe0"/><circle cx="60.46" cy="298.58" r="0.78" fill="#6ccbe0"/><circle cx="60.68" cy="296.28" r="0.78" fill="#6ccbe0"/><circle cx="61.42" cy="296.86" r="0.78" fill="#6ccbe0"/><circle cx="61.62" cy="295.59" r="0.78" fill="#6ccbe0"/><circle cx="62.05" cy="296.54" r="0.78" fill="#6ccbe0"/><circle cx="62.44" cy="293.82" r="0.78" fill="#6ccbe0"/><circle cx="62.92" cy="293.39" r="0.78" fill="#6ccbe0"/><circle cx="63.27" cy="294.86" r="0.78" fill="#6ccbe0"/><circle cx="63.75" cy="295.53" r="0.78" fill="#6ccbe0"/><circle cx="64.02" cy="294.56" r="0.78" fill="#6ccbe0"/><circle cx="64.55" cy="291.4" r="0.78" fill="#6ccbe0"/><circle cx="65.38" cy="290.96" r="0.78" fill="#6ccbe0"/><circle cx="65.45" cy="292.03" r="0.78" fill="#6ccbe0"/><circle cx="65.85" cy="289.27" r="0.78" fill="#6ccbe0"/><circle cx="66.39" cy="287.56" r="0.78" fill="#6ccbe0"/><circle cx="66.84" cy="288.36" r="0.78" fill="#6ccbe0"/><circle cx="67" cy="288.2" r="0.78" fill="#6ccbe0"/><circle cx="67.56" cy="285.97" r="0.78" fill="#6ccbe0"/><circle cx="68.15" cy="284.34" r="0.78" fill="#6ccbe0"/><circle cx="68.48" cy="284.04" r="0.78" fill="#6ccbe0"/><circle cx="68.88" cy="286.16" r="0.78" fill="#6ccbe0"/><circle cx="69.52" cy="283.78" r="0.78" fill="#6ccbe0"/><circle cx="69.61" cy="284.02" r="0.78" fill="#6ccbe0"/><circle cx="70.15" cy="283.92" r="0.78" fill="#6ccbe0"/><circle cx="70.49" cy="283.9" r="0.78" fill="#6ccbe0"/><circle cx="71.22" cy="282.15" r="0.78" fill="#6ccbe0"/><circle cx="71.13" cy="282.68" r="0.78" fill="#6ccbe0"/><circle cx="71.74" cy="280.4" r="0.78" fill="#6ccbe0"/><circle cx="72.19" cy="280.56" r="0.78" fill="#6ccbe0"/><circle cx="72.79" cy="279.21" r="0.78" fill="#6ccbe0"/><circle cx="73.21" cy="281.43" r="0.78" fill="#6ccbe0"/><circle cx="73.21" cy="280" r="1.1" fill="#6ccbe0"/><circle cx="35.84" cy="402.6" r="0.78" fill="#6a55b8"/><circle cx="36.49" cy="391.12" r="0.78" fill="#6a55b8"/><circle cx="36.96" cy="385.15" r="0.78" fill="#6a55b8"/><circle cx="37.39" cy="374.61" r="0.78" fill="#6a55b8"/><circle cx="38" cy="365.88" r="0.78" fill="#6a55b8"/><circle cx="38.28" cy="363.83" r="0.78" fill="#6a55b8"/><circle cx="38.78" cy="356.57" r="0.78" fill="#6a55b8"/><circle cx="38.92" cy="353.73" r="0.78" fill="#6a55b8"/><circle cx="39.64" cy="351.55" r="0.78" fill="#6a55b8"/><circle cx="40.25" cy="347.6" r="0.78" fill="#6a55b8"/><circle cx="40.47" cy="346.44" r="0.78" fill="#6a55b8"/><circle cx="40.82" cy="339.81" r="0.78" fill="#6a55b8"/><circle cx="41.23" cy="334.3" r="0.78" fill="#6a55b8"/><circle cx="41.9" cy="332.83" r="0.78" fill="#6a55b8"/><circle cx="41.92" cy="329.82" r="0.78" fill="#6a55b8"/><circle cx="42.47" cy="326.72" r="0.78" fill="#6a55b8"/><circle cx="42.98" cy="327.2" r="0.78" fill="#6a55b8"/><circle cx="43.45" cy="322.98" r="0.78" fill="#6a55b8"/><circle cx="43.7" cy="318.45" r="0.78" fill="#6a55b8"/><circle cx="44.23" cy="320.96" r="0.78" fill="#6a55b8"/><circle cx="44.57" cy="317.53" r="0.78" fill="#6a55b8"/><circle cx="45.06" cy="316.38" r="0.78" fill="#6a55b8"/><circle cx="45.44" cy="314.08" r="0.78" fill="#6a55b8"/><circle cx="45.72" cy="313.16" r="0.78" fill="#6a55b8"/><circle cx="46.31" cy="310.42" r="0.78" fill="#6a55b8"/><circle cx="46.87" cy="310.74" r="0.78" fill="#6a55b8"/><circle cx="47.02" cy="307.77" r="0.78" fill="#6a55b8"/><circle cx="47.55" cy="306.14" r="0.78" fill="#6a55b8"/><circle cx="48.12" cy="304.65" r="0.78" fill="#6a55b8"/><circle cx="48.28" cy="300.13" r="0.78" fill="#6a55b8"/><circle cx="48.89" cy="300.82" r="0.78" fill="#6a55b8"/><circle cx="49.13" cy="299.28" r="0.78" fill="#6a55b8"/><circle cx="49.89" cy="298.69" r="0.78" fill="#6a55b8"/><circle cx="50.49" cy="294.86" r="0.78" fill="#6a55b8"/><circle cx="50.87" cy="298.39" r="0.78" fill="#6a55b8"/><circle cx="50.96" cy="294.7" r="0.78" fill="#6a55b8"/><circle cx="51.53" cy="291.39" r="0.78" fill="#6a55b8"/><circle cx="51.86" cy="289.42" r="0.78" fill="#6a55b8"/><circle cx="52.29" cy="290.54" r="0.78" fill="#6a55b8"/><circle cx="52.93" cy="289.72" r="0.78" fill="#6a55b8"/><circle cx="52.92" cy="287.63" r="0.78" fill="#6a55b8"/><circle cx="53.71" cy="287.84" r="0.78" fill="#6a55b8"/><circle cx="53.97" cy="285.64" r="0.78" fill="#6a55b8"/><circle cx="54.61" cy="286.48" r="0.78" fill="#6a55b8"/><circle cx="54.85" cy="283.48" r="0.78" fill="#6a55b8"/><circle cx="55.15" cy="283.57" r="0.78" fill="#6a55b8"/><circle cx="55.72" cy="284.18" r="0.78" fill="#6a55b8"/><circle cx="56.21" cy="285.7" r="0.78" fill="#6a55b8"/><circle cx="56.53" cy="279.23" r="0.78" fill="#6a55b8"/><circle cx="57.02" cy="279.16" r="0.78" fill="#6a55b8"/><circle cx="57.3" cy="277.69" r="0.78" fill="#6a55b8"/><circle cx="57.48" cy="279.31" r="0.78" fill="#6a55b8"/><circle cx="58.36" cy="275.49" r="0.78" fill="#6a55b8"/><circle cx="58.76" cy="275.66" r="0.78" fill="#6a55b8"/><circle cx="59.1" cy="275.52" r="0.78" fill="#6a55b8"/><circle cx="59.51" cy="273.26" r="0.78" fill="#6a55b8"/><circle cx="60.09" cy="272.49" r="0.78" fill="#6a55b8"/><circle cx="60.29" cy="272.44" r="0.78" fill="#6a55b8"/><circle cx="60.68" cy="269.2" r="0.78" fill="#6a55b8"/><circle cx="61.18" cy="269.43" r="0.78" fill="#6a55b8"/><circle cx="61.81" cy="270.24" r="0.78" fill="#6a55b8"/><circle cx="61.85" cy="270.35" r="0.78" fill="#6a55b8"/><circle cx="62.66" cy="269.12" r="0.78" fill="#6a55b8"/><circle cx="62.81" cy="266.01" r="0.78" fill="#6a55b8"/><circle cx="63.17" cy="267.27" r="0.78" fill="#6a55b8"/><circle cx="63.95" cy="268.47" r="0.78" fill="#6a55b8"/><circle cx="64.17" cy="267.42" r="0.78" fill="#6a55b8"/><circle cx="64.42" cy="265.79" r="0.78" fill="#6a55b8"/><circle cx="64.98" cy="263.91" r="0.78" fill="#6a55b8"/><circle cx="65.6" cy="265.52" r="0.78" fill="#6a55b8"/><circle cx="66.07" cy="263.07" r="0.78" fill="#6a55b8"/><circle cx="66.25" cy="261.55" r="0.78" fill="#6a55b8"/><circle cx="66.8" cy="261.46" r="0.78" fill="#6a55b8"/><circle cx="67.27" cy="264.18" r="0.78" fill="#6a55b8"/><circle cx="67.49" cy="261.74" r="0.78" fill="#6a55b8"/><circle cx="68.07" cy="262.53" r="0.78" fill="#6a55b8"/><circle cx="68.44" cy="259.5" r="0.78" fill="#6a55b8"/><circle cx="68.79" cy="261" r="0.78" fill="#6a55b8"/><circle cx="69.22" cy="258.14" r="0.78" fill="#6a55b8"/><circle cx="69.73" cy="258.22" r="0.78" fill="#6a55b8"/><circle cx="70.15" cy="261.54" r="0.78" fill="#6a55b8"/><circle cx="70.48" cy="258.44" r="0.78" fill="#6a55b8"/><circle cx="70.93" cy="256.02" r="0.78" fill="#6a55b8"/><circle cx="71.59" cy="256.08" r="0.78" fill="#6a55b8"/><circle cx="71.59" cy="256.2" r="1.1" fill="#6a55b8"/><circle cx="35.68" cy="403.99" r="0.78" fill="#86d2b0"/><circle cx="35.96" cy="389.41" r="0.78" fill="#86d2b0"/><circle cx="36.52" cy="382.3" r="0.78" fill="#86d2b0"/><circle cx="36.97" cy="368.28" r="0.78" fill="#86d2b0"/><circle cx="37.73" cy="364.08" r="0.78" fill="#86d2b0"/><circle cx="37.68" cy="356.11" r="0.78" fill="#86d2b0"/><circle cx="38.21" cy="354.19" r="0.78" fill="#86d2b0"/><circle cx="38.63" cy="349.07" r="0.78" fill="#86d2b0"/><circle cx="39.15" cy="339.16" r="0.78" fill="#86d2b0"/><circle cx="39.66" cy="336.71" r="0.78" fill="#86d2b0"/><circle cx="39.86" cy="335.44" r="0.78" fill="#86d2b0"/><circle cx="40.23" cy="332.23" r="0.78" fill="#86d2b0"/><circle cx="40.54" cy="328.99" r="0.78" fill="#86d2b0"/><circle cx="41.07" cy="324.92" r="0.78" fill="#86d2b0"/><circle cx="41.71" cy="322.87" r="0.78" fill="#86d2b0"/><circle cx="42.07" cy="320.52" r="0.78" fill="#86d2b0"/><circle cx="42.33" cy="317.08" r="0.78" fill="#86d2b0"/><circle cx="42.85" cy="316.19" r="0.78" fill="#86d2b0"/><circle cx="43.34" cy="309.69" r="0.78" fill="#86d2b0"/><circle cx="43.84" cy="311.31" r="0.78" fill="#86d2b0"/><circle cx="44.1" cy="307.15" r="0.78" fill="#86d2b0"/><circle cx="44.57" cy="307.74" r="0.78" fill="#86d2b0"/><circle cx="44.76" cy="304.38" r="0.78" fill="#86d2b0"/><circle cx="45.29" cy="301.78" r="0.78" fill="#86d2b0"/><circle cx="46.13" cy="301.62" r="0.78" fill="#86d2b0"/><circle cx="45.99" cy="298.38" r="0.78" fill="#86d2b0"/><circle cx="46.69" cy="296.79" r="0.78" fill="#86d2b0"/><circle cx="47.2" cy="294.46" r="0.78" fill="#86d2b0"/><circle cx="47.53" cy="294.82" r="0.78" fill="#86d2b0"/><circle cx="47.89" cy="294" r="0.78" fill="#86d2b0"/><circle cx="48.43" cy="293.22" r="0.78" fill="#86d2b0"/><circle cx="48.87" cy="290.48" r="0.78" fill="#86d2b0"/><circle cx="49.28" cy="290.55" r="0.78" fill="#86d2b0"/><circle cx="49.44" cy="288.06" r="0.78" fill="#86d2b0"/><circle cx="50.12" cy="286.68" r="0.78" fill="#86d2b0"/><circle cx="50.44" cy="286.24" r="0.78" fill="#86d2b0"/><circle cx="50.91" cy="285.61" r="0.78" fill="#86d2b0"/><circle cx="51.45" cy="282.84" r="0.78" fill="#86d2b0"/><circle cx="51.94" cy="281.83" r="0.78" fill="#86d2b0"/><circle cx="52.41" cy="280.83" r="0.78" fill="#86d2b0"/><circle cx="52.62" cy="280.03" r="0.78" fill="#86d2b0"/><circle cx="53.26" cy="277.87" r="0.78" fill="#86d2b0"/><circle cx="53.72" cy="279.02" r="0.78" fill="#86d2b0"/><circle cx="54.14" cy="276.41" r="0.78" fill="#86d2b0"/><circle cx="54.61" cy="276.4" r="0.78" fill="#86d2b0"/><circle cx="54.8" cy="274" r="0.78" fill="#86d2b0"/><circle cx="55.22" cy="274.38" r="0.78" fill="#86d2b0"/><circle cx="55.8" cy="273.49" r="0.78" fill="#86d2b0"/><circle cx="55.9" cy="271.69" r="0.78" fill="#86d2b0"/><circle cx="56.56" cy="273.49" r="0.78" fill="#86d2b0"/><circle cx="56.87" cy="270.81" r="0.78" fill="#86d2b0"/><circle cx="57.32" cy="271.49" r="0.78" fill="#86d2b0"/><circle cx="57.54" cy="269.75" r="0.78" fill="#86d2b0"/><circle cx="58.09" cy="267.17" r="0.78" fill="#86d2b0"/><circle cx="58.65" cy="266.67" r="0.78" fill="#86d2b0"/><circle cx="59.21" cy="266.76" r="0.78" fill="#86d2b0"/><circle cx="59.65" cy="265.58" r="0.78" fill="#86d2b0"/><circle cx="59.92" cy="264.8" r="0.78" fill="#86d2b0"/><circle cx="60.33" cy="263.68" r="0.78" fill="#86d2b0"/><circle cx="60.66" cy="261.32" r="0.78" fill="#86d2b0"/><circle cx="61.27" cy="262.28" r="0.78" fill="#86d2b0"/><circle cx="61.59" cy="259.44" r="0.78" fill="#86d2b0"/><circle cx="62.15" cy="261.49" r="0.78" fill="#86d2b0"/><circle cx="62.75" cy="259.63" r="0.78" fill="#86d2b0"/><circle cx="62.9" cy="258.96" r="0.78" fill="#86d2b0"/><circle cx="63.11" cy="258.81" r="0.78" fill="#86d2b0"/><circle cx="63.63" cy="258.66" r="0.78" fill="#86d2b0"/><circle cx="63.97" cy="256.21" r="0.78" fill="#86d2b0"/><circle cx="64.43" cy="255.24" r="0.78" fill="#86d2b0"/><circle cx="65.23" cy="255.32" r="0.78" fill="#86d2b0"/><circle cx="65.5" cy="253.67" r="0.78" fill="#86d2b0"/><circle cx="65.66" cy="254.17" r="0.78" fill="#86d2b0"/><circle cx="66.41" cy="256.22" r="0.78" fill="#86d2b0"/><circle cx="66.93" cy="252.87" r="0.78" fill="#86d2b0"/><circle cx="67.11" cy="254.04" r="0.78" fill="#86d2b0"/><circle cx="67.49" cy="251.36" r="0.78" fill="#86d2b0"/><circle cx="67.96" cy="252.51" r="0.78" fill="#86d2b0"/><circle cx="68.48" cy="251.3" r="0.78" fill="#86d2b0"/><circle cx="68.96" cy="251" r="0.78" fill="#86d2b0"/><circle cx="69.47" cy="251.08" r="0.78" fill="#86d2b0"/><circle cx="69.9" cy="251.75" r="0.78" fill="#86d2b0"/><circle cx="70.32" cy="249.6" r="0.78" fill="#86d2b0"/><circle cx="70.77" cy="248.99" r="0.78" fill="#86d2b0"/><circle cx="71.09" cy="247.34" r="0.78" fill="#86d2b0"/><circle cx="71.19" cy="248.39" r="0.78" fill="#86d2b0"/><circle cx="71.82" cy="247.03" r="0.78" fill="#86d2b0"/><circle cx="72.32" cy="247.61" r="0.78" fill="#86d2b0"/><circle cx="72.64" cy="246.21" r="0.78" fill="#86d2b0"/><circle cx="73.26" cy="247.51" r="0.78" fill="#86d2b0"/><circle cx="73.49" cy="243.25" r="0.78" fill="#86d2b0"/><circle cx="73.83" cy="244.46" r="0.78" fill="#86d2b0"/><circle cx="74.61" cy="245.16" r="0.78" fill="#86d2b0"/><circle cx="74.92" cy="243.44" r="0.78" fill="#86d2b0"/><circle cx="75.28" cy="242.52" r="0.78" fill="#86d2b0"/><circle cx="75.81" cy="242.57" r="0.78" fill="#86d2b0"/><circle cx="76.26" cy="240.99" r="0.78" fill="#86d2b0"/><circle cx="76.58" cy="242.03" r="0.78" fill="#86d2b0"/><circle cx="76.58" cy="243.89" r="0.78" fill="#86d2b0"/><circle cx="77.27" cy="242.14" r="0.78" fill="#86d2b0"/><circle cx="77.73" cy="239.44" r="0.78" fill="#86d2b0"/><circle cx="78.08" cy="239.23" r="0.78" fill="#86d2b0"/><circle cx="78.68" cy="239.26" r="0.78" fill="#86d2b0"/><circle cx="79.26" cy="240.22" r="0.78" fill="#86d2b0"/><circle cx="79.43" cy="237.98" r="0.78" fill="#86d2b0"/><circle cx="79.76" cy="237.68" r="0.78" fill="#86d2b0"/><circle cx="80.66" cy="238.82" r="0.78" fill="#86d2b0"/><circle cx="80.71" cy="238.38" r="0.78" fill="#86d2b0"/><circle cx="81.02" cy="236.73" r="0.78" fill="#86d2b0"/><circle cx="81.67" cy="235.59" r="0.78" fill="#86d2b0"/><circle cx="82.12" cy="234.75" r="0.78" fill="#86d2b0"/><circle cx="82.38" cy="235.19" r="0.78" fill="#86d2b0"/><circle cx="83.03" cy="233.28" r="0.78" fill="#86d2b0"/><circle cx="83.26" cy="235.81" r="0.78" fill="#86d2b0"/><circle cx="83.62" cy="234.06" r="0.78" fill="#86d2b0"/><circle cx="84.21" cy="234.76" r="0.78" fill="#86d2b0"/><circle cx="84.72" cy="235.73" r="0.78" fill="#86d2b0"/><circle cx="84.94" cy="234.67" r="0.78" fill="#86d2b0"/><circle cx="85.51" cy="232.01" r="0.78" fill="#86d2b0"/><circle cx="85.87" cy="233.61" r="0.78" fill="#86d2b0"/><circle cx="86.73" cy="233.51" r="0.78" fill="#86d2b0"/><circle cx="86.63" cy="231.28" r="0.78" fill="#86d2b0"/><circle cx="87.37" cy="230.71" r="0.78" fill="#86d2b0"/><circle cx="87.58" cy="231.17" r="0.78" fill="#86d2b0"/><circle cx="87.99" cy="229.35" r="0.78" fill="#86d2b0"/><circle cx="88.55" cy="231.98" r="0.78" fill="#86d2b0"/><circle cx="89" cy="227.86" r="0.78" fill="#86d2b0"/><circle cx="89.48" cy="228.76" r="0.78" fill="#86d2b0"/><circle cx="89.76" cy="229.22" r="0.78" fill="#86d2b0"/><circle cx="90.05" cy="228.92" r="0.78" fill="#86d2b0"/><circle cx="90.49" cy="228.95" r="0.78" fill="#86d2b0"/><circle cx="91.07" cy="228.71" r="0.78" fill="#86d2b0"/><circle cx="91.5" cy="227.9" r="0.78" fill="#86d2b0"/><circle cx="92.05" cy="228.86" r="0.78" fill="#86d2b0"/><circle cx="92.33" cy="225.37" r="0.78" fill="#86d2b0"/><circle cx="92.85" cy="227.09" r="0.78" fill="#86d2b0"/><circle cx="93.35" cy="226.07" r="0.78" fill="#86d2b0"/><circle cx="93.57" cy="226.56" r="0.78" fill="#86d2b0"/><circle cx="93.75" cy="226.32" r="0.78" fill="#86d2b0"/><circle cx="94.22" cy="224.91" r="0.78" fill="#86d2b0"/><circle cx="94.61" cy="224.84" r="0.78" fill="#86d2b0"/><circle cx="95.49" cy="225.9" r="0.78" fill="#86d2b0"/><circle cx="95.54" cy="225.16" r="0.78" fill="#86d2b0"/><circle cx="96.28" cy="223.85" r="0.78" fill="#86d2b0"/><circle cx="96.61" cy="226.14" r="0.78" fill="#86d2b0"/><circle cx="97.21" cy="226.09" r="0.78" fill="#86d2b0"/><circle cx="97.52" cy="222.17" r="0.78" fill="#86d2b0"/><circle cx="97.78" cy="223.55" r="0.78" fill="#86d2b0"/><circle cx="98.19" cy="225.35" r="0.78" fill="#86d2b0"/><circle cx="98.66" cy="223.4" r="0.78" fill="#86d2b0"/><circle cx="99.1" cy="222.57" r="0.78" fill="#86d2b0"/><circle cx="99.42" cy="221.86" r="0.78" fill="#86d2b0"/><circle cx="99.92" cy="221.25" r="0.78" fill="#86d2b0"/><circle cx="100.59" cy="221.26" r="0.78" fill="#86d2b0"/><circle cx="100.52" cy="220.65" r="0.78" fill="#86d2b0"/><circle cx="101.24" cy="221.59" r="0.78" fill="#86d2b0"/><circle cx="101.49" cy="220.21" r="0.78" fill="#86d2b0"/><circle cx="102.08" cy="219.88" r="0.78" fill="#86d2b0"/><circle cx="102.61" cy="218.88" r="0.78" fill="#86d2b0"/><circle cx="102.9" cy="219.69" r="0.78" fill="#86d2b0"/><circle cx="103.45" cy="218.6" r="0.78" fill="#86d2b0"/><circle cx="103.52" cy="219" r="0.78" fill="#86d2b0"/><circle cx="104.35" cy="219.88" r="0.78" fill="#86d2b0"/><circle cx="104.52" cy="218.96" r="0.78" fill="#86d2b0"/><circle cx="105.13" cy="218.81" r="0.78" fill="#86d2b0"/><circle cx="105.49" cy="218.4" r="0.78" fill="#86d2b0"/><circle cx="105.5" cy="217.85" r="0.78" fill="#86d2b0"/><circle cx="106.2" cy="217.4" r="0.78" fill="#86d2b0"/><circle cx="106.77" cy="216.96" r="0.78" fill="#86d2b0"/><circle cx="107.39" cy="217.7" r="0.78" fill="#86d2b0"/><circle cx="107.63" cy="215.7" r="0.78" fill="#86d2b0"/><circle cx="108.05" cy="217.72" r="0.78" fill="#86d2b0"/><circle cx="108.23" cy="216.22" r="0.78" fill="#86d2b0"/><circle cx="109.08" cy="215.23" r="0.78" fill="#86d2b0"/><circle cx="109.56" cy="215.21" r="0.78" fill="#86d2b0"/><circle cx="109.72" cy="214.78" r="0.78" fill="#86d2b0"/><circle cx="110.11" cy="215.31" r="0.78" fill="#86d2b0"/><circle cx="110.32" cy="214.23" r="0.78" fill="#86d2b0"/><circle cx="111.12" cy="215.72" r="0.78" fill="#86d2b0"/><circle cx="111.82" cy="213.66" r="0.78" fill="#86d2b0"/><circle cx="111.95" cy="212.02" r="0.78" fill="#86d2b0"/><circle cx="112.46" cy="213.21" r="0.78" fill="#86d2b0"/><circle cx="112.77" cy="211.77" r="0.78" fill="#86d2b0"/><circle cx="112.97" cy="213.36" r="0.78" fill="#86d2b0"/><circle cx="113.74" cy="214.14" r="0.78" fill="#86d2b0"/><circle cx="113.78" cy="213.51" r="0.78" fill="#86d2b0"/><circle cx="114.36" cy="211.42" r="0.78" fill="#86d2b0"/><circle cx="114.86" cy="211.71" r="0.78" fill="#86d2b0"/><circle cx="115.38" cy="213.84" r="0.78" fill="#86d2b0"/><circle cx="115.73" cy="212.24" r="0.78" fill="#86d2b0"/><circle cx="116.15" cy="211.71" r="0.78" fill="#86d2b0"/><circle cx="116.41" cy="212.45" r="0.78" fill="#86d2b0"/><circle cx="116.75" cy="213.51" r="0.78" fill="#86d2b0"/><circle cx="117.38" cy="212.2" r="0.78" fill="#86d2b0"/><circle cx="117.69" cy="210.89" r="0.78" fill="#86d2b0"/><circle cx="118.03" cy="210.86" r="0.78" fill="#86d2b0"/><circle cx="118.46" cy="210.87" r="0.78" fill="#86d2b0"/><circle cx="118.46" cy="210.3" r="1.1" fill="#86d2b0"/><circle cx="35.48" cy="397.87" r="0.78" fill="#8c7e34"/><circle cx="36.21" cy="384.19" r="0.78" fill="#8c7e34"/><circle cx="36.51" cy="377.43" r="0.78" fill="#8c7e34"/><circle cx="36.55" cy="369.34" r="0.78" fill="#8c7e34"/><circle cx="37.38" cy="364.85" r="0.78" fill="#8c7e34"/><circle cx="37.64" cy="352.8" r="0.78" fill="#8c7e34"/><circle cx="38.16" cy="348.7" r="0.78" fill="#8c7e34"/><circle cx="38.89" cy="346.28" r="0.78" fill="#8c7e34"/><circle cx="38.91" cy="340.12" r="0.78" fill="#8c7e34"/><circle cx="39.34" cy="335.92" r="0.78" fill="#8c7e34"/><circle cx="40.15" cy="335.15" r="0.78" fill="#8c7e34"/><circle cx="40.37" cy="328.76" r="0.78" fill="#8c7e34"/><circle cx="41.02" cy="324.42" r="0.78" fill="#8c7e34"/><circle cx="41.26" cy="321.23" r="0.78" fill="#8c7e34"/><circle cx="41.5" cy="320.67" r="0.78" fill="#8c7e34"/><circle cx="42.05" cy="317.97" r="0.78" fill="#8c7e34"/><circle cx="42.67" cy="313.24" r="0.78" fill="#8c7e34"/><circle cx="43.06" cy="311.38" r="0.78" fill="#8c7e34"/><circle cx="43.34" cy="311.09" r="0.78" fill="#8c7e34"/><circle cx="43.77" cy="308.98" r="0.78" fill="#8c7e34"/><circle cx="44.17" cy="305.35" r="0.78" fill="#8c7e34"/><circle cx="44.52" cy="304.98" r="0.78" fill="#8c7e34"/><circle cx="45.34" cy="303.01" r="0.78" fill="#8c7e34"/><circle cx="45.46" cy="298.26" r="0.78" fill="#8c7e34"/><circle cx="45.71" cy="298.34" r="0.78" fill="#8c7e34"/><circle cx="46.24" cy="297.54" r="0.78" fill="#8c7e34"/><circle cx="46.85" cy="294.7" r="0.78" fill="#8c7e34"/><circle cx="47.26" cy="291.24" r="0.78" fill="#8c7e34"/><circle cx="47.57" cy="291.96" r="0.78" fill="#8c7e34"/><circle cx="47.91" cy="291.72" r="0.78" fill="#8c7e34"/><circle cx="48.45" cy="291.27" r="0.78" fill="#8c7e34"/><circle cx="48.61" cy="285.43" r="0.78" fill="#8c7e34"/><circle cx="49.09" cy="289.73" r="0.78" fill="#8c7e34"/><circle cx="49.84" cy="284.04" r="0.78" fill="#8c7e34"/><circle cx="50.07" cy="285.19" r="0.78" fill="#8c7e34"/><circle cx="50.63" cy="284.27" r="0.78" fill="#8c7e34"/><circle cx="51.18" cy="282.76" r="0.78" fill="#8c7e34"/><circle cx="51.52" cy="280.63" r="0.78" fill="#8c7e34"/><circle cx="51.85" cy="277.98" r="0.78" fill="#8c7e34"/><circle cx="52.6" cy="278.9" r="0.78" fill="#8c7e34"/><circle cx="52.8" cy="276.29" r="0.78" fill="#8c7e34"/><circle cx="53.07" cy="273.19" r="0.78" fill="#8c7e34"/><circle cx="53.66" cy="278.16" r="0.78" fill="#8c7e34"/><circle cx="54.04" cy="274.75" r="0.78" fill="#8c7e34"/><circle cx="54.27" cy="274.99" r="0.78" fill="#8c7e34"/><circle cx="54.84" cy="270.97" r="0.78" fill="#8c7e34"/><circle cx="55.22" cy="272.65" r="0.78" fill="#8c7e34"/><circle cx="55.37" cy="271.84" r="0.78" fill="#8c7e34"/><circle cx="56.07" cy="270.88" r="0.78" fill="#8c7e34"/><circle cx="56.48" cy="268.24" r="0.78" fill="#8c7e34"/><circle cx="56.88" cy="266.06" r="0.78" fill="#8c7e34"/><circle cx="57.12" cy="266.32" r="0.78" fill="#8c7e34"/><circle cx="57.75" cy="263.26" r="0.78" fill="#8c7e34"/><circle cx="58.22" cy="262.98" r="0.78" fill="#8c7e34"/><circle cx="58.67" cy="264.1" r="0.78" fill="#8c7e34"/><circle cx="58.9" cy="262.12" r="0.78" fill="#8c7e34"/><circle cx="59.6" cy="262.22" r="0.78" fill="#8c7e34"/><circle cx="59.74" cy="261.5" r="0.78" fill="#8c7e34"/><circle cx="60.32" cy="262.91" r="0.78" fill="#8c7e34"/><circle cx="60.98" cy="261.48" r="0.78" fill="#8c7e34"/><circle cx="61.1" cy="259.3" r="0.78" fill="#8c7e34"/><circle cx="61.55" cy="259.9" r="0.78" fill="#8c7e34"/><circle cx="62.22" cy="257.07" r="0.78" fill="#8c7e34"/><circle cx="62.42" cy="256.83" r="0.78" fill="#8c7e34"/><circle cx="62.86" cy="257.45" r="0.78" fill="#8c7e34"/><circle cx="63.37" cy="254.49" r="0.78" fill="#8c7e34"/><circle cx="63.92" cy="254.83" r="0.78" fill="#8c7e34"/><circle cx="63.85" cy="253.07" r="0.78" fill="#8c7e34"/><circle cx="64.48" cy="253.92" r="0.78" fill="#8c7e34"/><circle cx="64.88" cy="254.85" r="0.78" fill="#8c7e34"/><circle cx="65.29" cy="251.72" r="0.78" fill="#8c7e34"/><circle cx="65.76" cy="252.1" r="0.78" fill="#8c7e34"/><circle cx="66.18" cy="250.31" r="0.78" fill="#8c7e34"/><circle cx="66.78" cy="249.44" r="0.78" fill="#8c7e34"/><circle cx="67.03" cy="248.74" r="0.78" fill="#8c7e34"/><circle cx="67.61" cy="250.93" r="0.78" fill="#8c7e34"/><circle cx="68.08" cy="251.27" r="0.78" fill="#8c7e34"/><circle cx="68.33" cy="248.74" r="0.78" fill="#8c7e34"/><circle cx="68.89" cy="246.93" r="0.78" fill="#8c7e34"/><circle cx="69.54" cy="247.82" r="0.78" fill="#8c7e34"/><circle cx="69.77" cy="246.19" r="0.78" fill="#8c7e34"/><circle cx="70.04" cy="246.8" r="0.78" fill="#8c7e34"/><circle cx="70.56" cy="245.73" r="0.78" fill="#8c7e34"/><circle cx="70.85" cy="245.17" r="0.78" fill="#8c7e34"/><circle cx="71.46" cy="244.97" r="0.78" fill="#8c7e34"/><circle cx="71.98" cy="243.23" r="0.78" fill="#8c7e34"/><circle cx="72.14" cy="242.88" r="0.78" fill="#8c7e34"/><circle cx="72.66" cy="241.03" r="0.78" fill="#8c7e34"/><circle cx="73.29" cy="241.81" r="0.78" fill="#8c7e34"/><circle cx="73.47" cy="240.31" r="0.78" fill="#8c7e34"/><circle cx="74" cy="241.1" r="0.78" fill="#8c7e34"/><circle cx="74.24" cy="239.79" r="0.78" fill="#8c7e34"/><circle cx="74.7" cy="240.36" r="0.78" fill="#8c7e34"/><circle cx="75.17" cy="240.23" r="0.78" fill="#8c7e34"/><circle cx="76" cy="237.87" r="0.78" fill="#8c7e34"/><circle cx="76.04" cy="238" r="0.78" fill="#8c7e34"/><circle cx="76.45" cy="237.4" r="0.78" fill="#8c7e34"/><circle cx="76.87" cy="238.62" r="0.78" fill="#8c7e34"/><circle cx="77.35" cy="239.12" r="0.78" fill="#8c7e34"/><circle cx="77.9" cy="237.81" r="0.78" fill="#8c7e34"/><circle cx="78.25" cy="236.16" r="0.78" fill="#8c7e34"/><circle cx="78.96" cy="237.51" r="0.78" fill="#8c7e34"/><circle cx="79.11" cy="234.11" r="0.78" fill="#8c7e34"/><circle cx="79.72" cy="236.66" r="0.78" fill="#8c7e34"/><circle cx="79.97" cy="234.08" r="0.78" fill="#8c7e34"/><circle cx="80.44" cy="231.55" r="0.78" fill="#8c7e34"/><circle cx="80.56" cy="236.5" r="0.78" fill="#8c7e34"/><circle cx="81.19" cy="235.01" r="0.78" fill="#8c7e34"/><circle cx="81.62" cy="232.01" r="0.78" fill="#8c7e34"/><circle cx="82.02" cy="232.78" r="0.78" fill="#8c7e34"/><circle cx="82.16" cy="231.99" r="0.78" fill="#8c7e34"/><circle cx="83.04" cy="231.89" r="0.78" fill="#8c7e34"/><circle cx="83.27" cy="229.92" r="0.78" fill="#8c7e34"/><circle cx="83.69" cy="230.31" r="0.78" fill="#8c7e34"/><circle cx="84.15" cy="231.04" r="0.78" fill="#8c7e34"/><circle cx="84.57" cy="230.4" r="0.78" fill="#8c7e34"/><circle cx="85.1" cy="230.97" r="0.78" fill="#8c7e34"/><circle cx="85.27" cy="229.48" r="0.78" fill="#8c7e34"/><circle cx="85.75" cy="231.32" r="0.78" fill="#8c7e34"/><circle cx="86.35" cy="227.94" r="0.78" fill="#8c7e34"/><circle cx="86.76" cy="228.51" r="0.78" fill="#8c7e34"/><circle cx="87.11" cy="226.01" r="0.78" fill="#8c7e34"/><circle cx="87.5" cy="226.29" r="0.78" fill="#8c7e34"/><circle cx="87.89" cy="228.43" r="0.78" fill="#8c7e34"/><circle cx="88.43" cy="225.85" r="0.78" fill="#8c7e34"/><circle cx="89.04" cy="226.92" r="0.78" fill="#8c7e34"/><circle cx="89.13" cy="225.98" r="0.78" fill="#8c7e34"/><circle cx="89.94" cy="224.67" r="0.78" fill="#8c7e34"/><circle cx="90.27" cy="224.99" r="0.78" fill="#8c7e34"/><circle cx="90.5" cy="224.48" r="0.78" fill="#8c7e34"/><circle cx="91.11" cy="224.15" r="0.78" fill="#8c7e34"/><circle cx="91.2" cy="225.01" r="0.78" fill="#8c7e34"/><circle cx="91.58" cy="224.56" r="0.78" fill="#8c7e34"/><circle cx="92.07" cy="223.03" r="0.78" fill="#8c7e34"/><circle cx="92.63" cy="222.37" r="0.78" fill="#8c7e34"/><circle cx="93.07" cy="223.18" r="0.78" fill="#8c7e34"/><circle cx="93.47" cy="222.48" r="0.78" fill="#8c7e34"/><circle cx="93.98" cy="223.23" r="0.78" fill="#8c7e34"/><circle cx="94.08" cy="224.46" r="0.78" fill="#8c7e34"/><circle cx="94.9" cy="222.39" r="0.78" fill="#8c7e34"/><circle cx="95.03" cy="221.22" r="0.78" fill="#8c7e34"/><circle cx="95.57" cy="220.77" r="0.78" fill="#8c7e34"/><circle cx="96.04" cy="219.79" r="0.78" fill="#8c7e34"/><circle cx="96.35" cy="219.42" r="0.78" fill="#8c7e34"/><circle cx="96.74" cy="219.01" r="0.78" fill="#8c7e34"/><circle cx="97.22" cy="219.28" r="0.78" fill="#8c7e34"/><circle cx="97.8" cy="218.94" r="0.78" fill="#8c7e34"/><circle cx="98.31" cy="219.75" r="0.78" fill="#8c7e34"/><circle cx="98.74" cy="218.35" r="0.78" fill="#8c7e34"/><circle cx="98.93" cy="218.23" r="0.78" fill="#8c7e34"/><circle cx="99.38" cy="216.96" r="0.78" fill="#8c7e34"/><circle cx="99.79" cy="219.38" r="0.78" fill="#8c7e34"/><circle cx="100.42" cy="217.99" r="0.78" fill="#8c7e34"/><circle cx="100.47" cy="218.91" r="0.78" fill="#8c7e34"/><circle cx="101.39" cy="217.67" r="0.78" fill="#8c7e34"/><circle cx="101.56" cy="218.03" r="0.78" fill="#8c7e34"/><circle cx="101.94" cy="216.09" r="0.78" fill="#8c7e34"/><circle cx="102.53" cy="216.72" r="0.78" fill="#8c7e34"/><circle cx="103.06" cy="218.31" r="0.78" fill="#8c7e34"/><circle cx="103.38" cy="214.3" r="0.78" fill="#8c7e34"/><circle cx="103.91" cy="216.29" r="0.78" fill="#8c7e34"/><circle cx="104.2" cy="216.49" r="0.78" fill="#8c7e34"/><circle cx="104.79" cy="215" r="0.78" fill="#8c7e34"/><circle cx="105.22" cy="215.05" r="0.78" fill="#8c7e34"/><circle cx="105.44" cy="215.25" r="0.78" fill="#8c7e34"/><circle cx="106.1" cy="213.14" r="0.78" fill="#8c7e34"/><circle cx="106.33" cy="213.89" r="0.78" fill="#8c7e34"/><circle cx="106.75" cy="212.38" r="0.78" fill="#8c7e34"/><circle cx="107.02" cy="212.3" r="0.78" fill="#8c7e34"/><circle cx="107.54" cy="212.08" r="0.78" fill="#8c7e34"/><circle cx="108.13" cy="212.27" r="0.78" fill="#8c7e34"/><circle cx="108.24" cy="212.28" r="0.78" fill="#8c7e34"/><circle cx="108.96" cy="212.31" r="0.78" fill="#8c7e34"/><circle cx="109.34" cy="210.25" r="0.78" fill="#8c7e34"/><circle cx="109.76" cy="213.25" r="0.78" fill="#8c7e34"/><circle cx="109.81" cy="212.19" r="0.78" fill="#8c7e34"/><circle cx="110.55" cy="211.52" r="0.78" fill="#8c7e34"/><circle cx="111.09" cy="210.22" r="0.78" fill="#8c7e34"/><circle cx="111.3" cy="210.22" r="0.78" fill="#8c7e34"/><circle cx="111.85" cy="210.57" r="0.78" fill="#8c7e34"/><circle cx="111.91" cy="210.19" r="0.78" fill="#8c7e34"/><circle cx="112.79" cy="207.93" r="0.78" fill="#8c7e34"/><circle cx="113.02" cy="210" r="0.78" fill="#8c7e34"/><circle cx="113.67" cy="211.83" r="0.78" fill="#8c7e34"/><circle cx="113.69" cy="207.02" r="0.78" fill="#8c7e34"/><circle cx="114.5" cy="209.49" r="0.78" fill="#8c7e34"/><circle cx="114.78" cy="208.65" r="0.78" fill="#8c7e34"/><circle cx="115.37" cy="207.94" r="0.78" fill="#8c7e34"/><circle cx="115.53" cy="209.12" r="0.78" fill="#8c7e34"/><circle cx="116" cy="206.43" r="0.78" fill="#8c7e34"/><circle cx="116.86" cy="207.48" r="0.78" fill="#8c7e34"/><circle cx="116.82" cy="208.48" r="0.78" fill="#8c7e34"/><circle cx="117.27" cy="206.66" r="0.78" fill="#8c7e34"/><circle cx="117.76" cy="206.21" r="0.78" fill="#8c7e34"/><circle cx="118.07" cy="206.48" r="0.78" fill="#8c7e34"/><circle cx="118.83" cy="205.71" r="0.78" fill="#8c7e34"/><circle cx="119.33" cy="207.37" r="0.78" fill="#8c7e34"/><circle cx="119.33" cy="205.9" r="1.1" fill="#8c7e34"/><circle cx="35.53" cy="404.62" r="0.78" fill="#e4468a"/><circle cx="36.08" cy="390.52" r="0.78" fill="#e4468a"/><circle cx="36.37" cy="379.18" r="0.78" fill="#e4468a"/><circle cx="37.06" cy="370.98" r="0.78" fill="#e4468a"/><circle cx="37.39" cy="360.1" r="0.78" fill="#e4468a"/><circle cx="37.78" cy="354.92" r="0.78" fill="#e4468a"/><circle cx="38.29" cy="347.37" r="0.78" fill="#e4468a"/><circle cx="38.62" cy="342.35" r="0.78" fill="#e4468a"/><circle cx="38.85" cy="341.46" r="0.78" fill="#e4468a"/><circle cx="39.6" cy="334.83" r="0.78" fill="#e4468a"/><circle cx="39.97" cy="335.29" r="0.78" fill="#e4468a"/><circle cx="40.33" cy="328.56" r="0.78" fill="#e4468a"/><circle cx="40.93" cy="324.27" r="0.78" fill="#e4468a"/><circle cx="41.39" cy="323.18" r="0.78" fill="#e4468a"/><circle cx="41.47" cy="321.63" r="0.78" fill="#e4468a"/><circle cx="41.94" cy="317.1" r="0.78" fill="#e4468a"/><circle cx="42.72" cy="312.26" r="0.78" fill="#e4468a"/><circle cx="43.12" cy="311.91" r="0.78" fill="#e4468a"/><circle cx="43.22" cy="310.87" r="0.78" fill="#e4468a"/><circle cx="43.58" cy="306.23" r="0.78" fill="#e4468a"/><circle cx="44.09" cy="303.76" r="0.78" fill="#e4468a"/><circle cx="44.54" cy="303.99" r="0.78" fill="#e4468a"/><circle cx="44.8" cy="300.93" r="0.78" fill="#e4468a"/><circle cx="45.47" cy="297.52" r="0.78" fill="#e4468a"/><circle cx="45.7" cy="296.62" r="0.78" fill="#e4468a"/><circle cx="46.13" cy="294.42" r="0.78" fill="#e4468a"/><circle cx="46.88" cy="294.03" r="0.78" fill="#e4468a"/><circle cx="47.06" cy="292.18" r="0.78" fill="#e4468a"/><circle cx="47.58" cy="291.86" r="0.78" fill="#e4468a"/><circle cx="48.11" cy="289.81" r="0.78" fill="#e4468a"/><circle cx="48.56" cy="285.64" r="0.78" fill="#e4468a"/><circle cx="48.82" cy="286.55" r="0.78" fill="#e4468a"/><circle cx="49.3" cy="285.74" r="0.78" fill="#e4468a"/><circle cx="49.59" cy="283.87" r="0.78" fill="#e4468a"/><circle cx="50.41" cy="283.23" r="0.78" fill="#e4468a"/><circle cx="50.67" cy="280.12" r="0.78" fill="#e4468a"/><circle cx="50.83" cy="278.42" r="0.78" fill="#e4468a"/><circle cx="51.42" cy="279.37" r="0.78" fill="#e4468a"/><circle cx="51.95" cy="275.91" r="0.78" fill="#e4468a"/><circle cx="52.34" cy="273.52" r="0.78" fill="#e4468a"/><circle cx="52.97" cy="276.01" r="0.78" fill="#e4468a"/><circle cx="53.33" cy="272.94" r="0.78" fill="#e4468a"/><circle cx="53.47" cy="272.34" r="0.78" fill="#e4468a"/><circle cx="53.96" cy="270.07" r="0.78" fill="#e4468a"/><circle cx="54.21" cy="269.12" r="0.78" fill="#e4468a"/><circle cx="54.86" cy="268.31" r="0.78" fill="#e4468a"/><circle cx="55.27" cy="268.21" r="0.78" fill="#e4468a"/><circle cx="56.08" cy="268.05" r="0.78" fill="#e4468a"/><circle cx="56.12" cy="264.17" r="0.78" fill="#e4468a"/><circle cx="56.21" cy="266.6" r="0.78" fill="#e4468a"/><circle cx="56.85" cy="263.57" r="0.78" fill="#e4468a"/><circle cx="57.39" cy="262.81" r="0.78" fill="#e4468a"/><circle cx="57.61" cy="263.83" r="0.78" fill="#e4468a"/><circle cx="58.1" cy="262.15" r="0.78" fill="#e4468a"/><circle cx="58.6" cy="259.73" r="0.78" fill="#e4468a"/><circle cx="59.13" cy="262.55" r="0.78" fill="#e4468a"/><circle cx="59.48" cy="258.81" r="0.78" fill="#e4468a"/><circle cx="59.8" cy="259.2" r="0.78" fill="#e4468a"/><circle cx="60.47" cy="258.36" r="0.78" fill="#e4468a"/><circle cx="60.7" cy="258.88" r="0.78" fill="#e4468a"/><circle cx="61.13" cy="256.12" r="0.78" fill="#e4468a"/><circle cx="61.43" cy="256.92" r="0.78" fill="#e4468a"/><circle cx="61.94" cy="254.33" r="0.78" fill="#e4468a"/><circle cx="62.58" cy="255.57" r="0.78" fill="#e4468a"/><circle cx="62.67" cy="252.86" r="0.78" fill="#e4468a"/><circle cx="63.32" cy="252.58" r="0.78" fill="#e4468a"/><circle cx="63.87" cy="254.25" r="0.78" fill="#e4468a"/><circle cx="64.13" cy="251.9" r="0.78" fill="#e4468a"/><circle cx="64.65" cy="251.01" r="0.78" fill="#e4468a"/><circle cx="64.87" cy="252.57" r="0.78" fill="#e4468a"/><circle cx="65.66" cy="249.94" r="0.78" fill="#e4468a"/><circle cx="66.05" cy="248.07" r="0.78" fill="#e4468a"/><circle cx="66.35" cy="249.04" r="0.78" fill="#e4468a"/><circle cx="66.47" cy="246.42" r="0.78" fill="#e4468a"/><circle cx="67.01" cy="248.19" r="0.78" fill="#e4468a"/><circle cx="67.74" cy="247.65" r="0.78" fill="#e4468a"/><circle cx="68.27" cy="245.2" r="0.78" fill="#e4468a"/><circle cx="68.48" cy="244.55" r="0.78" fill="#e4468a"/><circle cx="69.05" cy="244.78" r="0.78" fill="#e4468a"/><circle cx="69.2" cy="244.03" r="0.78" fill="#e4468a"/><circle cx="69.69" cy="242.43" r="0.78" fill="#e4468a"/><circle cx="70.14" cy="243.44" r="0.78" fill="#e4468a"/><circle cx="70.63" cy="240.21" r="0.78" fill="#e4468a"/><circle cx="70.76" cy="241.3" r="0.78" fill="#e4468a"/><circle cx="71.56" cy="240.77" r="0.78" fill="#e4468a"/><circle cx="72.04" cy="240.36" r="0.78" fill="#e4468a"/><circle cx="72.1" cy="240.41" r="0.78" fill="#e4468a"/><circle cx="72.49" cy="238.32" r="0.78" fill="#e4468a"/><circle cx="73.17" cy="239.63" r="0.78" fill="#e4468a"/><circle cx="73.45" cy="238.33" r="0.78" fill="#e4468a"/><circle cx="73.62" cy="237.34" r="0.78" fill="#e4468a"/><circle cx="74.52" cy="236.11" r="0.78" fill="#e4468a"/><circle cx="74.85" cy="235.79" r="0.78" fill="#e4468a"/><circle cx="75.18" cy="236.85" r="0.78" fill="#e4468a"/><circle cx="75.99" cy="235.02" r="0.78" fill="#e4468a"/><circle cx="76.12" cy="235.56" r="0.78" fill="#e4468a"/><circle cx="76.41" cy="236.08" r="0.78" fill="#e4468a"/><circle cx="76.97" cy="235.57" r="0.78" fill="#e4468a"/><circle cx="77.22" cy="235.62" r="0.78" fill="#e4468a"/><circle cx="77.69" cy="233.29" r="0.78" fill="#e4468a"/><circle cx="78.28" cy="232.04" r="0.78" fill="#e4468a"/><circle cx="78.57" cy="233.68" r="0.78" fill="#e4468a"/><circle cx="79.01" cy="232.51" r="0.78" fill="#e4468a"/><circle cx="79.75" cy="232.87" r="0.78" fill="#e4468a"/><circle cx="80.06" cy="231.31" r="0.78" fill="#e4468a"/><circle cx="80.47" cy="232.04" r="0.78" fill="#e4468a"/><circle cx="80.86" cy="231.25" r="0.78" fill="#e4468a"/><circle cx="81.28" cy="230.69" r="0.78" fill="#e4468a"/><circle cx="81.85" cy="230.04" r="0.78" fill="#e4468a"/><circle cx="82.05" cy="229.51" r="0.78" fill="#e4468a"/><circle cx="82.76" cy="228.92" r="0.78" fill="#e4468a"/><circle cx="82.76" cy="228.5" r="0.78" fill="#e4468a"/><circle cx="83.29" cy="228.83" r="0.78" fill="#e4468a"/><circle cx="83.55" cy="226.94" r="0.78" fill="#e4468a"/><circle cx="84.13" cy="228.74" r="0.78" fill="#e4468a"/><circle cx="84.69" cy="226.52" r="0.78" fill="#e4468a"/><circle cx="85.25" cy="227.19" r="0.78" fill="#e4468a"/><circle cx="85.36" cy="225.73" r="0.78" fill="#e4468a"/><circle cx="85.89" cy="225.19" r="0.78" fill="#e4468a"/><circle cx="86.26" cy="227.02" r="0.78" fill="#e4468a"/><circle cx="86.63" cy="224.34" r="0.78" fill="#e4468a"/><circle cx="86.98" cy="223.01" r="0.78" fill="#e4468a"/><circle cx="87.6" cy="223.18" r="0.78" fill="#e4468a"/><circle cx="87.75" cy="223.18" r="0.78" fill="#e4468a"/><circle cx="88.46" cy="225.21" r="0.78" fill="#e4468a"/><circle cx="88.87" cy="222.94" r="0.78" fill="#e4468a"/><circle cx="89.19" cy="223.28" r="0.78" fill="#e4468a"/><circle cx="89.56" cy="221.03" r="0.78" fill="#e4468a"/><circle cx="89.93" cy="221.97" r="0.78" fill="#e4468a"/><circle cx="90.85" cy="221.92" r="0.78" fill="#e4468a"/><circle cx="90.79" cy="222.65" r="0.78" fill="#e4468a"/><circle cx="91.65" cy="219.88" r="0.78" fill="#e4468a"/><circle cx="91.93" cy="220.78" r="0.78" fill="#e4468a"/><circle cx="92.21" cy="220.14" r="0.78" fill="#e4468a"/><circle cx="92.52" cy="218.51" r="0.78" fill="#e4468a"/><circle cx="93.28" cy="219.13" r="0.78" fill="#e4468a"/><circle cx="93.8" cy="218.55" r="0.78" fill="#e4468a"/><circle cx="93.83" cy="216.22" r="0.78" fill="#e4468a"/><circle cx="94.35" cy="218.69" r="0.78" fill="#e4468a"/><circle cx="94.98" cy="218.3" r="0.78" fill="#e4468a"/><circle cx="95.3" cy="217.03" r="0.78" fill="#e4468a"/><circle cx="95.97" cy="215.83" r="0.78" fill="#e4468a"/><circle cx="96.01" cy="218.2" r="0.78" fill="#e4468a"/><circle cx="96.6" cy="216.71" r="0.78" fill="#e4468a"/><circle cx="96.76" cy="217.1" r="0.78" fill="#e4468a"/><circle cx="97.69" cy="217.15" r="0.78" fill="#e4468a"/><circle cx="97.69" cy="214.99" r="0.78" fill="#e4468a"/><circle cx="97.89" cy="215.94" r="0.78" fill="#e4468a"/><circle cx="98.63" cy="214.62" r="0.78" fill="#e4468a"/><circle cx="99.06" cy="214.47" r="0.78" fill="#e4468a"/><circle cx="99.79" cy="214.14" r="0.78" fill="#e4468a"/><circle cx="99.88" cy="213.9" r="0.78" fill="#e4468a"/><circle cx="100.35" cy="214.66" r="0.78" fill="#e4468a"/><circle cx="100.87" cy="213.41" r="0.78" fill="#e4468a"/><circle cx="101.44" cy="212.84" r="0.78" fill="#e4468a"/><circle cx="101.62" cy="212.42" r="0.78" fill="#e4468a"/><circle cx="102.21" cy="212.7" r="0.78" fill="#e4468a"/><circle cx="102.56" cy="211.23" r="0.78" fill="#e4468a"/><circle cx="102.86" cy="211.31" r="0.78" fill="#e4468a"/><circle cx="103.34" cy="211.44" r="0.78" fill="#e4468a"/><circle cx="103.76" cy="210.66" r="0.78" fill="#e4468a"/><circle cx="104.04" cy="210.79" r="0.78" fill="#e4468a"/><circle cx="104.79" cy="210.03" r="0.78" fill="#e4468a"/><circle cx="104.83" cy="212.21" r="0.78" fill="#e4468a"/><circle cx="105.63" cy="211.29" r="0.78" fill="#e4468a"/><circle cx="106.03" cy="210.17" r="0.78" fill="#e4468a"/><circle cx="106.3" cy="209.42" r="0.78" fill="#e4468a"/><circle cx="106.62" cy="211.25" r="0.78" fill="#e4468a"/><circle cx="107.13" cy="209.21" r="0.78" fill="#e4468a"/><circle cx="107.66" cy="208.54" r="0.78" fill="#e4468a"/><circle cx="108.12" cy="208.63" r="0.78" fill="#e4468a"/><circle cx="108.48" cy="208.36" r="0.78" fill="#e4468a"/><circle cx="109.01" cy="209.12" r="0.78" fill="#e4468a"/><circle cx="109.2" cy="207.51" r="0.78" fill="#e4468a"/><circle cx="109.75" cy="209.23" r="0.78" fill="#e4468a"/><circle cx="109.9" cy="206.16" r="0.78" fill="#e4468a"/><circle cx="110.68" cy="207.37" r="0.78" fill="#e4468a"/><circle cx="111.01" cy="205.52" r="0.78" fill="#e4468a"/><circle cx="111.35" cy="207.89" r="0.78" fill="#e4468a"/><circle cx="112.02" cy="205.62" r="0.78" fill="#e4468a"/><circle cx="112.37" cy="205.61" r="0.78" fill="#e4468a"/><circle cx="112.27" cy="206.27" r="0.78" fill="#e4468a"/><circle cx="113.12" cy="206.32" r="0.78" fill="#e4468a"/><circle cx="113.32" cy="203.85" r="0.78" fill="#e4468a"/><circle cx="114.13" cy="204.31" r="0.78" fill="#e4468a"/><circle cx="114.77" cy="203.08" r="0.78" fill="#e4468a"/><circle cx="114.74" cy="204.25" r="0.78" fill="#e4468a"/><circle cx="115.26" cy="203.78" r="0.78" fill="#e4468a"/><circle cx="115.63" cy="203.29" r="0.78" fill="#e4468a"/><circle cx="116.15" cy="202.73" r="0.78" fill="#e4468a"/><circle cx="116.62" cy="202.76" r="0.78" fill="#e4468a"/><circle cx="117.14" cy="202.18" r="0.78" fill="#e4468a"/><circle cx="117.22" cy="203.12" r="0.78" fill="#e4468a"/><circle cx="118.03" cy="203.79" r="0.78" fill="#e4468a"/><circle cx="118.08" cy="200.35" r="0.78" fill="#e4468a"/><circle cx="118.69" cy="201.79" r="0.78" fill="#e4468a"/><circle cx="118.69" cy="201.9" r="1.1" fill="#e4468a"/><circle cx="35.75" cy="391.43" r="0.78" fill="#9ccc98"/><circle cx="36.23" cy="378.09" r="0.78" fill="#9ccc98"/><circle cx="36.56" cy="367.77" r="0.78" fill="#9ccc98"/><circle cx="36.85" cy="359.68" r="0.78" fill="#9ccc98"/><circle cx="37.26" cy="354.22" r="0.78" fill="#9ccc98"/><circle cx="38.05" cy="343.67" r="0.78" fill="#9ccc98"/><circle cx="38.19" cy="340.79" r="0.78" fill="#9ccc98"/><circle cx="38.61" cy="335.86" r="0.78" fill="#9ccc98"/><circle cx="39.3" cy="331.13" r="0.78" fill="#9ccc98"/><circle cx="39.67" cy="326.74" r="0.78" fill="#9ccc98"/><circle cx="40.01" cy="324.35" r="0.78" fill="#9ccc98"/><circle cx="40.3" cy="319.25" r="0.78" fill="#9ccc98"/><circle cx="41.14" cy="316.4" r="0.78" fill="#9ccc98"/><circle cx="41.27" cy="312.84" r="0.78" fill="#9ccc98"/><circle cx="41.72" cy="311.55" r="0.78" fill="#9ccc98"/><circle cx="42.03" cy="303.79" r="0.78" fill="#9ccc98"/><circle cx="42.27" cy="305.4" r="0.78" fill="#9ccc98"/><circle cx="42.71" cy="300.87" r="0.78" fill="#9ccc98"/><circle cx="43.4" cy="298.47" r="0.78" fill="#9ccc98"/><circle cx="43.82" cy="295.33" r="0.78" fill="#9ccc98"/><circle cx="44.15" cy="292.03" r="0.78" fill="#9ccc98"/><circle cx="44.44" cy="291.86" r="0.78" fill="#9ccc98"/><circle cx="44.82" cy="289.49" r="0.78" fill="#9ccc98"/><circle cx="45.41" cy="289.06" r="0.78" fill="#9ccc98"/><circle cx="45.67" cy="284.8" r="0.78" fill="#9ccc98"/><circle cx="46.45" cy="286.59" r="0.78" fill="#9ccc98"/><circle cx="46.91" cy="283.46" r="0.78" fill="#9ccc98"/><circle cx="47.59" cy="281.19" r="0.78" fill="#9ccc98"/><circle cx="47.72" cy="279.04" r="0.78" fill="#9ccc98"/><circle cx="47.93" cy="277.41" r="0.78" fill="#9ccc98"/><circle cx="48.31" cy="275.51" r="0.78" fill="#9ccc98"/><circle cx="48.35" cy="274.76" r="0.78" fill="#9ccc98"/><circle cx="49.2" cy="273.99" r="0.78" fill="#9ccc98"/><circle cx="49.69" cy="272.41" r="0.78" fill="#9ccc98"/><circle cx="50.29" cy="269.64" r="0.78" fill="#9ccc98"/><circle cx="50.66" cy="269.68" r="0.78" fill="#9ccc98"/><circle cx="51.08" cy="267.7" r="0.78" fill="#9ccc98"/><circle cx="51.45" cy="267.68" r="0.78" fill="#9ccc98"/><circle cx="51.94" cy="268.42" r="0.78" fill="#9ccc98"/><circle cx="52.49" cy="265.83" r="0.78" fill="#9ccc98"/><circle cx="52.54" cy="263.62" r="0.78" fill="#9ccc98"/><circle cx="53.05" cy="261.03" r="0.78" fill="#9ccc98"/><circle cx="53.34" cy="260.18" r="0.78" fill="#9ccc98"/><circle cx="54.22" cy="258.81" r="0.78" fill="#9ccc98"/><circle cx="54.59" cy="260.46" r="0.78" fill="#9ccc98"/><circle cx="54.94" cy="257.77" r="0.78" fill="#9ccc98"/><circle cx="55.07" cy="257.69" r="0.78" fill="#9ccc98"/><circle cx="55.7" cy="255.95" r="0.78" fill="#9ccc98"/><circle cx="56.07" cy="255.78" r="0.78" fill="#9ccc98"/><circle cx="56.54" cy="256.27" r="0.78" fill="#9ccc98"/><circle cx="56.92" cy="253.06" r="0.78" fill="#9ccc98"/><circle cx="57.45" cy="252.52" r="0.78" fill="#9ccc98"/><circle cx="57.74" cy="251.13" r="0.78" fill="#9ccc98"/><circle cx="58.36" cy="252.07" r="0.78" fill="#9ccc98"/><circle cx="58.69" cy="249.16" r="0.78" fill="#9ccc98"/><circle cx="59.04" cy="248.2" r="0.78" fill="#9ccc98"/><circle cx="59.49" cy="247.1" r="0.78" fill="#9ccc98"/><circle cx="59.86" cy="246.26" r="0.78" fill="#9ccc98"/><circle cx="60.48" cy="247.47" r="0.78" fill="#9ccc98"/><circle cx="60.74" cy="248.92" r="0.78" fill="#9ccc98"/><circle cx="61.25" cy="244.34" r="0.78" fill="#9ccc98"/><circle cx="61.57" cy="245.64" r="0.78" fill="#9ccc98"/><circle cx="61.83" cy="244.14" r="0.78" fill="#9ccc98"/><circle cx="62.62" cy="241.97" r="0.78" fill="#9ccc98"/><circle cx="62.75" cy="242.11" r="0.78" fill="#9ccc98"/><circle cx="63.44" cy="241.44" r="0.78" fill="#9ccc98"/><circle cx="63.82" cy="240.25" r="0.78" fill="#9ccc98"/><circle cx="63.94" cy="242.3" r="0.78" fill="#9ccc98"/><circle cx="64.47" cy="237.59" r="0.78" fill="#9ccc98"/><circle cx="64.96" cy="239.3" r="0.78" fill="#9ccc98"/><circle cx="65.34" cy="238.58" r="0.78" fill="#9ccc98"/><circle cx="65.71" cy="236.97" r="0.78" fill="#9ccc98"/><circle cx="66.42" cy="237.07" r="0.78" fill="#9ccc98"/><circle cx="66.7" cy="237.18" r="0.78" fill="#9ccc98"/><circle cx="67.22" cy="235.79" r="0.78" fill="#9ccc98"/><circle cx="67.52" cy="235.44" r="0.78" fill="#9ccc98"/><circle cx="68.06" cy="235.1" r="0.78" fill="#9ccc98"/><circle cx="68.33" cy="231.69" r="0.78" fill="#9ccc98"/><circle cx="68.86" cy="234.69" r="0.78" fill="#9ccc98"/><circle cx="69.38" cy="234.91" r="0.78" fill="#9ccc98"/><circle cx="69.72" cy="232.99" r="0.78" fill="#9ccc98"/><circle cx="70.07" cy="232.44" r="0.78" fill="#9ccc98"/><circle cx="70.4" cy="229.39" r="0.78" fill="#9ccc98"/><circle cx="71.02" cy="230.14" r="0.78" fill="#9ccc98"/><circle cx="71.47" cy="228.87" r="0.78" fill="#9ccc98"/><circle cx="71.81" cy="228.54" r="0.78" fill="#9ccc98"/><circle cx="72.15" cy="229.57" r="0.78" fill="#9ccc98"/><circle cx="72.78" cy="227.23" r="0.78" fill="#9ccc98"/><circle cx="73.49" cy="227.38" r="0.78" fill="#9ccc98"/><circle cx="73.5" cy="225.05" r="0.78" fill="#9ccc98"/><circle cx="74.02" cy="226.29" r="0.78" fill="#9ccc98"/><circle cx="74.45" cy="226.02" r="0.78" fill="#9ccc98"/><circle cx="74.44" cy="224.71" r="0.78" fill="#9ccc98"/><circle cx="75.27" cy="224.19" r="0.78" fill="#9ccc98"/><circle cx="75.57" cy="226.3" r="0.78" fill="#9ccc98"/><circle cx="76.31" cy="222.69" r="0.78" fill="#9ccc98"/><circle cx="76.49" cy="222.36" r="0.78" fill="#9ccc98"/><circle cx="76.83" cy="222.11" r="0.78" fill="#9ccc98"/><circle cx="77.34" cy="223.64" r="0.78" fill="#9ccc98"/><circle cx="77.83" cy="224.06" r="0.78" fill="#9ccc98"/><circle cx="78.14" cy="221.82" r="0.78" fill="#9ccc98"/><circle cx="78.64" cy="220.3" r="0.78" fill="#9ccc98"/><circle cx="78.87" cy="220.12" r="0.78" fill="#9ccc98"/><circle cx="79.47" cy="221.15" r="0.78" fill="#9ccc98"/><circle cx="80.04" cy="218.73" r="0.78" fill="#9ccc98"/><circle cx="80.65" cy="220.62" r="0.78" fill="#9ccc98"/><circle cx="80.89" cy="220.13" r="0.78" fill="#9ccc98"/><circle cx="81.25" cy="218.36" r="0.78" fill="#9ccc98"/><circle cx="81.81" cy="218.48" r="0.78" fill="#9ccc98"/><circle cx="82.21" cy="218.15" r="0.78" fill="#9ccc98"/><circle cx="82.73" cy="218.51" r="0.78" fill="#9ccc98"/><circle cx="83.07" cy="215.52" r="0.78" fill="#9ccc98"/><circle cx="83.31" cy="217.29" r="0.78" fill="#9ccc98"/><circle cx="83.8" cy="215.34" r="0.78" fill="#9ccc98"/><circle cx="84.21" cy="214.53" r="0.78" fill="#9ccc98"/><circle cx="84.65" cy="214.97" r="0.78" fill="#9ccc98"/><circle cx="85.06" cy="214.25" r="0.78" fill="#9ccc98"/><circle cx="85.34" cy="213.09" r="0.78" fill="#9ccc98"/><circle cx="85.57" cy="212.09" r="0.78" fill="#9ccc98"/><circle cx="86.21" cy="212.33" r="0.78" fill="#9ccc98"/><circle cx="86.43" cy="214.27" r="0.78" fill="#9ccc98"/><circle cx="87.17" cy="214.37" r="0.78" fill="#9ccc98"/><circle cx="87.59" cy="212.7" r="0.78" fill="#9ccc98"/><circle cx="87.76" cy="212.84" r="0.78" fill="#9ccc98"/><circle cx="88.54" cy="210.79" r="0.78" fill="#9ccc98"/><circle cx="88.99" cy="210.84" r="0.78" fill="#9ccc98"/><circle cx="89.3" cy="210.81" r="0.78" fill="#9ccc98"/><circle cx="89.97" cy="209.11" r="0.78" fill="#9ccc98"/><circle cx="90.42" cy="208.83" r="0.78" fill="#9ccc98"/><circle cx="90.39" cy="209.51" r="0.78" fill="#9ccc98"/><circle cx="91.15" cy="208.74" r="0.78" fill="#9ccc98"/><circle cx="91.48" cy="207.66" r="0.78" fill="#9ccc98"/><circle cx="91.91" cy="208.7" r="0.78" fill="#9ccc98"/><circle cx="92.41" cy="207.71" r="0.78" fill="#9ccc98"/><circle cx="92.59" cy="208.59" r="0.78" fill="#9ccc98"/><circle cx="93.03" cy="207.25" r="0.78" fill="#9ccc98"/><circle cx="93.42" cy="206.62" r="0.78" fill="#9ccc98"/><circle cx="93.86" cy="206.68" r="0.78" fill="#9ccc98"/><circle cx="94.38" cy="206.05" r="0.78" fill="#9ccc98"/><circle cx="94.6" cy="205.23" r="0.78" fill="#9ccc98"/><circle cx="95.09" cy="205.14" r="0.78" fill="#9ccc98"/><circle cx="95.76" cy="205.9" r="0.78" fill="#9ccc98"/><circle cx="96.09" cy="205.47" r="0.78" fill="#9ccc98"/><circle cx="96.58" cy="205.75" r="0.78" fill="#9ccc98"/><circle cx="96.67" cy="202.56" r="0.78" fill="#9ccc98"/><circle cx="97.26" cy="203.48" r="0.78" fill="#9ccc98"/><circle cx="97.72" cy="203.13" r="0.78" fill="#9ccc98"/><circle cx="98.23" cy="203.36" r="0.78" fill="#9ccc98"/><circle cx="98.56" cy="202.45" r="0.78" fill="#9ccc98"/><circle cx="99.22" cy="202.07" r="0.78" fill="#9ccc98"/><circle cx="99.49" cy="202.98" r="0.78" fill="#9ccc98"/><circle cx="99.93" cy="202.09" r="0.78" fill="#9ccc98"/><circle cx="100.35" cy="200.5" r="0.78" fill="#9ccc98"/><circle cx="100.88" cy="202.56" r="0.78" fill="#9ccc98"/><circle cx="101.13" cy="201.93" r="0.78" fill="#9ccc98"/><circle cx="101.8" cy="200.13" r="0.78" fill="#9ccc98"/><circle cx="102.12" cy="201.16" r="0.78" fill="#9ccc98"/><circle cx="102.5" cy="199.37" r="0.78" fill="#9ccc98"/><circle cx="102.91" cy="200.82" r="0.78" fill="#9ccc98"/><circle cx="103.41" cy="199.25" r="0.78" fill="#9ccc98"/><circle cx="103.91" cy="198.4" r="0.78" fill="#9ccc98"/><circle cx="104.32" cy="198.51" r="0.78" fill="#9ccc98"/><circle cx="104.66" cy="197.84" r="0.78" fill="#9ccc98"/><circle cx="105.16" cy="198.45" r="0.78" fill="#9ccc98"/><circle cx="105.48" cy="198.14" r="0.78" fill="#9ccc98"/><circle cx="106.07" cy="197.72" r="0.78" fill="#9ccc98"/><circle cx="106.31" cy="196.88" r="0.78" fill="#9ccc98"/><circle cx="106.42" cy="193.67" r="0.78" fill="#9ccc98"/><circle cx="107.36" cy="196.92" r="0.78" fill="#9ccc98"/><circle cx="107.6" cy="194.76" r="0.78" fill="#9ccc98"/><circle cx="107.84" cy="196.49" r="0.78" fill="#9ccc98"/><circle cx="108.41" cy="197.04" r="0.78" fill="#9ccc98"/><circle cx="108.73" cy="195.96" r="0.78" fill="#9ccc98"/><circle cx="109.6" cy="195.06" r="0.78" fill="#9ccc98"/><circle cx="109.79" cy="194.98" r="0.78" fill="#9ccc98"/><circle cx="109.9" cy="194.75" r="0.78" fill="#9ccc98"/><circle cx="110.65" cy="194.09" r="0.78" fill="#9ccc98"/><circle cx="110.93" cy="193.79" r="0.78" fill="#9ccc98"/><circle cx="111.7" cy="193.2" r="0.78" fill="#9ccc98"/><circle cx="111.68" cy="194.91" r="0.78" fill="#9ccc98"/><circle cx="111.93" cy="193.51" r="0.78" fill="#9ccc98"/><circle cx="112.7" cy="194.16" r="0.78" fill="#9ccc98"/><circle cx="113.07" cy="192.77" r="0.78" fill="#9ccc98"/><circle cx="113.07" cy="193" r="1.1" fill="#9ccc98"/><circle cx="36.14" cy="403.71" r="0.78" fill="#3a58b4"/><circle cx="36.45" cy="380.46" r="0.78" fill="#3a58b4"/><circle cx="36.83" cy="379.67" r="0.78" fill="#3a58b4"/><circle cx="37.45" cy="366.2" r="0.78" fill="#3a58b4"/><circle cx="37.66" cy="367.05" r="0.78" fill="#3a58b4"/><circle cx="38.51" cy="355.25" r="0.78" fill="#3a58b4"/><circle cx="38.57" cy="347.79" r="0.78" fill="#3a58b4"/><circle cx="39.38" cy="346.01" r="0.78" fill="#3a58b4"/><circle cx="39.34" cy="339.7" r="0.78" fill="#3a58b4"/><circle cx="40.02" cy="332.4" r="0.78" fill="#3a58b4"/><circle cx="40.18" cy="331.71" r="0.78" fill="#3a58b4"/><circle cx="40.58" cy="324.81" r="0.78" fill="#3a58b4"/><circle cx="41.23" cy="318.06" r="0.78" fill="#3a58b4"/><circle cx="41.74" cy="324.35" r="0.78" fill="#3a58b4"/><circle cx="41.87" cy="315.26" r="0.78" fill="#3a58b4"/><circle cx="42.66" cy="311.67" r="0.78" fill="#3a58b4"/><circle cx="42.79" cy="311.2" r="0.78" fill="#3a58b4"/><circle cx="43.36" cy="303.88" r="0.78" fill="#3a58b4"/><circle cx="43.82" cy="301.86" r="0.78" fill="#3a58b4"/><circle cx="44.28" cy="301.51" r="0.78" fill="#3a58b4"/><circle cx="44.34" cy="299.14" r="0.78" fill="#3a58b4"/><circle cx="45.28" cy="298.33" r="0.78" fill="#3a58b4"/><circle cx="45.55" cy="298.69" r="0.78" fill="#3a58b4"/><circle cx="45.82" cy="292.82" r="0.78" fill="#3a58b4"/><circle cx="46.16" cy="293.12" r="0.78" fill="#3a58b4"/><circle cx="46.49" cy="291.46" r="0.78" fill="#3a58b4"/><circle cx="46.96" cy="285.62" r="0.78" fill="#3a58b4"/><circle cx="47.67" cy="286.92" r="0.78" fill="#3a58b4"/><circle cx="47.96" cy="282.44" r="0.78" fill="#3a58b4"/><circle cx="48.27" cy="285.45" r="0.78" fill="#3a58b4"/><circle cx="48.79" cy="282.39" r="0.78" fill="#3a58b4"/><circle cx="49.53" cy="279.78" r="0.78" fill="#3a58b4"/><circle cx="49.67" cy="275.1" r="0.78" fill="#3a58b4"/><circle cx="50.06" cy="276.97" r="0.78" fill="#3a58b4"/><circle cx="50.77" cy="273.47" r="0.78" fill="#3a58b4"/><circle cx="51.06" cy="275.45" r="0.78" fill="#3a58b4"/><circle cx="51.43" cy="272.16" r="0.78" fill="#3a58b4"/><circle cx="51.75" cy="269.22" r="0.78" fill="#3a58b4"/><circle cx="52.04" cy="271.88" r="0.78" fill="#3a58b4"/><circle cx="52.52" cy="270.12" r="0.78" fill="#3a58b4"/><circle cx="53.05" cy="265.87" r="0.78" fill="#3a58b4"/><circle cx="53.51" cy="268.63" r="0.78" fill="#3a58b4"/><circle cx="54.03" cy="264.11" r="0.78" fill="#3a58b4"/><circle cx="54.48" cy="262.91" r="0.78" fill="#3a58b4"/><circle cx="54.86" cy="262.74" r="0.78" fill="#3a58b4"/><circle cx="55.28" cy="259.63" r="0.78" fill="#3a58b4"/><circle cx="55.52" cy="259.23" r="0.78" fill="#3a58b4"/><circle cx="55.78" cy="258.78" r="0.78" fill="#3a58b4"/><circle cx="56.45" cy="261.52" r="0.78" fill="#3a58b4"/><circle cx="56.81" cy="260.4" r="0.78" fill="#3a58b4"/><circle cx="57.28" cy="255.43" r="0.78" fill="#3a58b4"/><circle cx="57.76" cy="258.61" r="0.78" fill="#3a58b4"/><circle cx="58.04" cy="253.93" r="0.78" fill="#3a58b4"/><circle cx="58.49" cy="253.9" r="0.78" fill="#3a58b4"/><circle cx="59.06" cy="254.07" r="0.78" fill="#3a58b4"/><circle cx="59.52" cy="251.82" r="0.78" fill="#3a58b4"/><circle cx="59.83" cy="255.62" r="0.78" fill="#3a58b4"/><circle cx="60.43" cy="249.88" r="0.78" fill="#3a58b4"/><circle cx="60.75" cy="245.8" r="0.78" fill="#3a58b4"/><circle cx="61.05" cy="250.47" r="0.78" fill="#3a58b4"/><circle cx="61.64" cy="245.81" r="0.78" fill="#3a58b4"/><circle cx="62.34" cy="245.2" r="0.78" fill="#3a58b4"/><circle cx="62.38" cy="238.43" r="0.78" fill="#3a58b4"/><circle cx="63.08" cy="246.42" r="0.78" fill="#3a58b4"/><circle cx="63.54" cy="245.2" r="0.78" fill="#3a58b4"/><circle cx="63.98" cy="244.36" r="0.78" fill="#3a58b4"/><circle cx="64.06" cy="243.96" r="0.78" fill="#3a58b4"/><circle cx="64.91" cy="244.75" r="0.78" fill="#3a58b4"/><circle cx="65.05" cy="240.17" r="0.78" fill="#3a58b4"/><circle cx="65.42" cy="241.57" r="0.78" fill="#3a58b4"/><circle cx="65.85" cy="237.14" r="0.78" fill="#3a58b4"/><circle cx="66.4" cy="237.26" r="0.78" fill="#3a58b4"/><circle cx="66.75" cy="239.62" r="0.78" fill="#3a58b4"/><circle cx="67.14" cy="237.45" r="0.78" fill="#3a58b4"/><circle cx="67.78" cy="232.98" r="0.78" fill="#3a58b4"/><circle cx="67.91" cy="235.98" r="0.78" fill="#3a58b4"/><circle cx="68.28" cy="234.11" r="0.78" fill="#3a58b4"/><circle cx="68.98" cy="232.04" r="0.78" fill="#3a58b4"/><circle cx="69.4" cy="234.1" r="0.78" fill="#3a58b4"/><circle cx="69.88" cy="231.61" r="0.78" fill="#3a58b4"/><circle cx="69.98" cy="228.42" r="0.78" fill="#3a58b4"/><circle cx="70.73" cy="228.78" r="0.78" fill="#3a58b4"/><circle cx="71.07" cy="234.39" r="0.78" fill="#3a58b4"/><circle cx="71.68" cy="226.63" r="0.78" fill="#3a58b4"/><circle cx="71.66" cy="229.77" r="0.78" fill="#3a58b4"/><circle cx="72.3" cy="229.99" r="0.78" fill="#3a58b4"/><circle cx="72.65" cy="229.44" r="0.78" fill="#3a58b4"/><circle cx="72.88" cy="224.81" r="0.78" fill="#3a58b4"/><circle cx="73.44" cy="226.16" r="0.78" fill="#3a58b4"/><circle cx="74.14" cy="226.57" r="0.78" fill="#3a58b4"/><circle cx="74.33" cy="227.41" r="0.78" fill="#3a58b4"/><circle cx="74.71" cy="223.71" r="0.78" fill="#3a58b4"/><circle cx="75.38" cy="222.02" r="0.78" fill="#3a58b4"/><circle cx="75.82" cy="226.12" r="0.78" fill="#3a58b4"/><circle cx="76.25" cy="225.78" r="0.78" fill="#3a58b4"/><circle cx="76.41" cy="223.64" r="0.78" fill="#3a58b4"/><circle cx="76.94" cy="220.99" r="0.78" fill="#3a58b4"/><circle cx="77.53" cy="222.63" r="0.78" fill="#3a58b4"/><circle cx="77.7" cy="221.45" r="0.78" fill="#3a58b4"/><circle cx="78.11" cy="222.48" r="0.78" fill="#3a58b4"/><circle cx="78.78" cy="217.47" r="0.78" fill="#3a58b4"/><circle cx="79.31" cy="219.88" r="0.78" fill="#3a58b4"/><circle cx="79.33" cy="218.77" r="0.78" fill="#3a58b4"/><circle cx="79.54" cy="216.22" r="0.78" fill="#3a58b4"/><circle cx="80.14" cy="218.55" r="0.78" fill="#3a58b4"/><circle cx="80.63" cy="217.65" r="0.78" fill="#3a58b4"/><circle cx="81.18" cy="216.2" r="0.78" fill="#3a58b4"/><circle cx="81.72" cy="217.43" r="0.78" fill="#3a58b4"/><circle cx="82.03" cy="213.06" r="0.78" fill="#3a58b4"/><circle cx="82.38" cy="215.49" r="0.78" fill="#3a58b4"/><circle cx="82.93" cy="216.05" r="0.78" fill="#3a58b4"/><circle cx="83.19" cy="215.25" r="0.78" fill="#3a58b4"/><circle cx="83.75" cy="216.47" r="0.78" fill="#3a58b4"/><circle cx="84.09" cy="211.14" r="0.78" fill="#3a58b4"/><circle cx="85.01" cy="210.03" r="0.78" fill="#3a58b4"/><circle cx="85.16" cy="213.29" r="0.78" fill="#3a58b4"/><circle cx="85.33" cy="213.29" r="0.78" fill="#3a58b4"/><circle cx="85.74" cy="216.37" r="0.78" fill="#3a58b4"/><circle cx="86.25" cy="212.73" r="0.78" fill="#3a58b4"/><circle cx="86.49" cy="209.11" r="0.78" fill="#3a58b4"/><circle cx="87.05" cy="212.24" r="0.78" fill="#3a58b4"/><circle cx="87.48" cy="208.29" r="0.78" fill="#3a58b4"/><circle cx="88.15" cy="206.5" r="0.78" fill="#3a58b4"/><circle cx="88.37" cy="214.75" r="0.78" fill="#3a58b4"/><circle cx="88.75" cy="209.48" r="0.78" fill="#3a58b4"/><circle cx="89.09" cy="209.88" r="0.78" fill="#3a58b4"/><circle cx="89.54" cy="209.13" r="0.78" fill="#3a58b4"/><circle cx="90.13" cy="211.36" r="0.78" fill="#3a58b4"/><circle cx="90.53" cy="207.71" r="0.78" fill="#3a58b4"/><circle cx="91.16" cy="209.27" r="0.78" fill="#3a58b4"/><circle cx="91.32" cy="204.11" r="0.78" fill="#3a58b4"/><circle cx="92" cy="202.93" r="0.78" fill="#3a58b4"/><circle cx="92.31" cy="208.49" r="0.78" fill="#3a58b4"/><circle cx="92.69" cy="208.19" r="0.78" fill="#3a58b4"/><circle cx="92.82" cy="205.75" r="0.78" fill="#3a58b4"/><circle cx="93.35" cy="204.75" r="0.78" fill="#3a58b4"/><circle cx="94.08" cy="204.23" r="0.78" fill="#3a58b4"/><circle cx="94.61" cy="202.04" r="0.78" fill="#3a58b4"/><circle cx="94.85" cy="206.35" r="0.78" fill="#3a58b4"/><circle cx="95.36" cy="204.11" r="0.78" fill="#3a58b4"/><circle cx="95.61" cy="203.41" r="0.78" fill="#3a58b4"/><circle cx="96.04" cy="202.76" r="0.78" fill="#3a58b4"/><circle cx="96.42" cy="203.8" r="0.78" fill="#3a58b4"/><circle cx="97.09" cy="202.28" r="0.78" fill="#3a58b4"/><circle cx="97.43" cy="202.41" r="0.78" fill="#3a58b4"/><circle cx="97.76" cy="198.01" r="0.78" fill="#3a58b4"/><circle cx="98.18" cy="201.18" r="0.78" fill="#3a58b4"/><circle cx="98.73" cy="204.35" r="0.78" fill="#3a58b4"/><circle cx="99.12" cy="198.29" r="0.78" fill="#3a58b4"/><circle cx="99.38" cy="198.75" r="0.78" fill="#3a58b4"/><circle cx="100.18" cy="200.54" r="0.78" fill="#3a58b4"/><circle cx="100.39" cy="200.33" r="0.78" fill="#3a58b4"/><circle cx="100.78" cy="199.27" r="0.78" fill="#3a58b4"/><circle cx="101.43" cy="194.22" r="0.78" fill="#3a58b4"/><circle cx="101.78" cy="198.32" r="0.78" fill="#3a58b4"/><circle cx="102.04" cy="194.44" r="0.78" fill="#3a58b4"/><circle cx="102.56" cy="194.85" r="0.78" fill="#3a58b4"/><circle cx="102.75" cy="197.39" r="0.78" fill="#3a58b4"/><circle cx="103.23" cy="195.28" r="0.78" fill="#3a58b4"/><circle cx="103.42" cy="197.26" r="0.78" fill="#3a58b4"/><circle cx="104.37" cy="201.82" r="0.78" fill="#3a58b4"/><circle cx="104.32" cy="196.52" r="0.78" fill="#3a58b4"/><circle cx="105.14" cy="196.08" r="0.78" fill="#3a58b4"/><circle cx="105.33" cy="192.36" r="0.78" fill="#3a58b4"/><circle cx="105.74" cy="192.56" r="0.78" fill="#3a58b4"/><circle cx="106.28" cy="191.36" r="0.78" fill="#3a58b4"/><circle cx="106.77" cy="192.15" r="0.78" fill="#3a58b4"/><circle cx="107.25" cy="190.66" r="0.78" fill="#3a58b4"/><circle cx="107.85" cy="191.24" r="0.78" fill="#3a58b4"/><circle cx="108.07" cy="191.87" r="0.78" fill="#3a58b4"/><circle cx="108.57" cy="189.9" r="0.78" fill="#3a58b4"/><circle cx="108.77" cy="188.71" r="0.78" fill="#3a58b4"/><circle cx="109.4" cy="188.52" r="0.78" fill="#3a58b4"/><circle cx="109.74" cy="192" r="0.78" fill="#3a58b4"/><circle cx="110.07" cy="190.87" r="0.78" fill="#3a58b4"/><circle cx="110.55" cy="192.58" r="0.78" fill="#3a58b4"/><circle cx="110.98" cy="192.31" r="0.78" fill="#3a58b4"/><circle cx="111.44" cy="189.12" r="0.78" fill="#3a58b4"/><circle cx="111.9" cy="190.92" r="0.78" fill="#3a58b4"/><circle cx="112.19" cy="186.22" r="0.78" fill="#3a58b4"/><circle cx="112.58" cy="193.69" r="0.78" fill="#3a58b4"/><circle cx="113.23" cy="191.12" r="0.78" fill="#3a58b4"/><circle cx="113.29" cy="187.89" r="0.78" fill="#3a58b4"/><circle cx="113.88" cy="185.62" r="0.78" fill="#3a58b4"/><circle cx="114.63" cy="188.54" r="0.78" fill="#3a58b4"/><circle cx="114.41" cy="183.57" r="0.78" fill="#3a58b4"/><circle cx="115.14" cy="185.55" r="0.78" fill="#3a58b4"/><circle cx="115.77" cy="188.44" r="0.78" fill="#3a58b4"/><circle cx="115.85" cy="186.76" r="0.78" fill="#3a58b4"/><circle cx="115.85" cy="186.6" r="1.1" fill="#3a58b4"/><circle cx="35.54" cy="373.21" r="0.78" fill="#7a5c24"/><circle cx="35.47" cy="365.26" r="0.78" fill="#7a5c24"/><circle cx="36.39" cy="352.73" r="0.78" fill="#7a5c24"/><circle cx="36.49" cy="341.64" r="0.78" fill="#7a5c24"/><circle cx="37.06" cy="331.62" r="0.78" fill="#7a5c24"/><circle cx="37" cy="325.92" r="0.78" fill="#7a5c24"/><circle cx="37.82" cy="318.05" r="0.78" fill="#7a5c24"/><circle cx="38.18" cy="315.68" r="0.78" fill="#7a5c24"/><circle cx="38.76" cy="308.1" r="0.78" fill="#7a5c24"/><circle cx="39.09" cy="305.27" r="0.78" fill="#7a5c24"/><circle cx="39.33" cy="303.37" r="0.78" fill="#7a5c24"/><circle cx="40.07" cy="296.82" r="0.78" fill="#7a5c24"/><circle cx="40.46" cy="294.7" r="0.78" fill="#7a5c24"/><circle cx="40.87" cy="292.45" r="0.78" fill="#7a5c24"/><circle cx="41.36" cy="287.57" r="0.78" fill="#7a5c24"/><circle cx="41.8" cy="288.36" r="0.78" fill="#7a5c24"/><circle cx="42.06" cy="284.75" r="0.78" fill="#7a5c24"/><circle cx="42.28" cy="279.94" r="0.78" fill="#7a5c24"/><circle cx="42.7" cy="279.66" r="0.78" fill="#7a5c24"/><circle cx="43.54" cy="276.6" r="0.78" fill="#7a5c24"/><circle cx="43.87" cy="274.74" r="0.78" fill="#7a5c24"/><circle cx="44.2" cy="273.75" r="0.78" fill="#7a5c24"/><circle cx="44.55" cy="270.91" r="0.78" fill="#7a5c24"/><circle cx="45.04" cy="271.24" r="0.78" fill="#7a5c24"/><circle cx="45.47" cy="267.45" r="0.78" fill="#7a5c24"/><circle cx="45.84" cy="267.9" r="0.78" fill="#7a5c24"/><circle cx="46.21" cy="265.06" r="0.78" fill="#7a5c24"/><circle cx="47.06" cy="264.62" r="0.78" fill="#7a5c24"/><circle cx="47.2" cy="261.46" r="0.78" fill="#7a5c24"/><circle cx="47.5" cy="260.08" r="0.78" fill="#7a5c24"/><circle cx="47.82" cy="257.94" r="0.78" fill="#7a5c24"/><circle cx="48.33" cy="258.66" r="0.78" fill="#7a5c24"/><circle cx="48.97" cy="257.78" r="0.78" fill="#7a5c24"/><circle cx="49.41" cy="257.9" r="0.78" fill="#7a5c24"/><circle cx="49.69" cy="255.7" r="0.78" fill="#7a5c24"/><circle cx="50.15" cy="253.3" r="0.78" fill="#7a5c24"/><circle cx="50.52" cy="251.6" r="0.78" fill="#7a5c24"/><circle cx="50.83" cy="251.17" r="0.78" fill="#7a5c24"/><circle cx="51.62" cy="249.59" r="0.78" fill="#7a5c24"/><circle cx="51.9" cy="250.22" r="0.78" fill="#7a5c24"/><circle cx="52.64" cy="248.57" r="0.78" fill="#7a5c24"/><circle cx="52.58" cy="245.53" r="0.78" fill="#7a5c24"/><circle cx="53.1" cy="244.71" r="0.78" fill="#7a5c24"/><circle cx="53.68" cy="246.04" r="0.78" fill="#7a5c24"/><circle cx="53.94" cy="243.89" r="0.78" fill="#7a5c24"/><circle cx="54.19" cy="242.36" r="0.78" fill="#7a5c24"/><circle cx="54.68" cy="243.02" r="0.78" fill="#7a5c24"/><circle cx="55.26" cy="240.38" r="0.78" fill="#7a5c24"/><circle cx="55.73" cy="239.62" r="0.78" fill="#7a5c24"/><circle cx="56.09" cy="238.56" r="0.78" fill="#7a5c24"/><circle cx="56.68" cy="236.07" r="0.78" fill="#7a5c24"/><circle cx="57.1" cy="238.34" r="0.78" fill="#7a5c24"/><circle cx="57.43" cy="235.27" r="0.78" fill="#7a5c24"/><circle cx="57.81" cy="235.17" r="0.78" fill="#7a5c24"/><circle cx="58.19" cy="234.2" r="0.78" fill="#7a5c24"/><circle cx="58.74" cy="235.02" r="0.78" fill="#7a5c24"/><circle cx="59.22" cy="233.41" r="0.78" fill="#7a5c24"/><circle cx="59.51" cy="232.76" r="0.78" fill="#7a5c24"/><circle cx="60" cy="230.21" r="0.78" fill="#7a5c24"/><circle cx="60.31" cy="231.2" r="0.78" fill="#7a5c24"/><circle cx="60.57" cy="229.01" r="0.78" fill="#7a5c24"/><circle cx="61.06" cy="230.22" r="0.78" fill="#7a5c24"/><circle cx="61.75" cy="229.6" r="0.78" fill="#7a5c24"/><circle cx="62.12" cy="228.52" r="0.78" fill="#7a5c24"/><circle cx="62.72" cy="230.03" r="0.78" fill="#7a5c24"/><circle cx="62.92" cy="227.78" r="0.78" fill="#7a5c24"/><circle cx="63.46" cy="227.2" r="0.78" fill="#7a5c24"/><circle cx="63.96" cy="226.09" r="0.78" fill="#7a5c24"/><circle cx="64.33" cy="225.11" r="0.78" fill="#7a5c24"/><circle cx="64.52" cy="225.71" r="0.78" fill="#7a5c24"/><circle cx="65.01" cy="225.24" r="0.78" fill="#7a5c24"/><circle cx="65.48" cy="222.14" r="0.78" fill="#7a5c24"/><circle cx="65.74" cy="224" r="0.78" fill="#7a5c24"/><circle cx="66.38" cy="222.85" r="0.78" fill="#7a5c24"/><circle cx="66.89" cy="222.74" r="0.78" fill="#7a5c24"/><circle cx="67.09" cy="221.66" r="0.78" fill="#7a5c24"/><circle cx="67.88" cy="219.33" r="0.78" fill="#7a5c24"/><circle cx="67.97" cy="218.85" r="0.78" fill="#7a5c24"/><circle cx="68.41" cy="221.4" r="0.78" fill="#7a5c24"/><circle cx="68.83" cy="219.24" r="0.78" fill="#7a5c24"/><circle cx="69.18" cy="216.99" r="0.78" fill="#7a5c24"/><circle cx="69.78" cy="218.27" r="0.78" fill="#7a5c24"/><circle cx="70.15" cy="217.03" r="0.78" fill="#7a5c24"/><circle cx="70.82" cy="215" r="0.78" fill="#7a5c24"/><circle cx="71.08" cy="214.04" r="0.78" fill="#7a5c24"/><circle cx="71.5" cy="214.24" r="0.78" fill="#7a5c24"/><circle cx="71.81" cy="215.65" r="0.78" fill="#7a5c24"/><circle cx="72.06" cy="214.84" r="0.78" fill="#7a5c24"/><circle cx="72.68" cy="214.15" r="0.78" fill="#7a5c24"/><circle cx="72.99" cy="214.21" r="0.78" fill="#7a5c24"/><circle cx="73.69" cy="214.05" r="0.78" fill="#7a5c24"/><circle cx="73.97" cy="210.86" r="0.78" fill="#7a5c24"/><circle cx="74.65" cy="212.21" r="0.78" fill="#7a5c24"/><circle cx="74.93" cy="211.22" r="0.78" fill="#7a5c24"/><circle cx="75.37" cy="210.36" r="0.78" fill="#7a5c24"/><circle cx="75.71" cy="210.6" r="0.78" fill="#7a5c24"/><circle cx="76.13" cy="210.58" r="0.78" fill="#7a5c24"/><circle cx="76.62" cy="210" r="0.78" fill="#7a5c24"/><circle cx="77.09" cy="208.37" r="0.78" fill="#7a5c24"/><circle cx="77.27" cy="208.91" r="0.78" fill="#7a5c24"/><circle cx="77.87" cy="210.98" r="0.78" fill="#7a5c24"/><circle cx="78.62" cy="207.49" r="0.78" fill="#7a5c24"/><circle cx="78.64" cy="206.44" r="0.78" fill="#7a5c24"/><circle cx="79.04" cy="207.98" r="0.78" fill="#7a5c24"/><circle cx="79.4" cy="207.89" r="0.78" fill="#7a5c24"/><circle cx="79.71" cy="207.35" r="0.78" fill="#7a5c24"/><circle cx="80.53" cy="205.37" r="0.78" fill="#7a5c24"/><circle cx="80.79" cy="207.07" r="0.78" fill="#7a5c24"/><circle cx="81.25" cy="204.91" r="0.78" fill="#7a5c24"/><circle cx="81.91" cy="204.17" r="0.78" fill="#7a5c24"/><circle cx="82.43" cy="204.3" r="0.78" fill="#7a5c24"/><circle cx="82.35" cy="204.41" r="0.78" fill="#7a5c24"/><circle cx="83.07" cy="204.84" r="0.78" fill="#7a5c24"/><circle cx="83.43" cy="204.37" r="0.78" fill="#7a5c24"/><circle cx="83.82" cy="203.36" r="0.78" fill="#7a5c24"/><circle cx="84.26" cy="203.92" r="0.78" fill="#7a5c24"/><circle cx="84.61" cy="202.72" r="0.78" fill="#7a5c24"/><circle cx="85.27" cy="203.15" r="0.78" fill="#7a5c24"/><circle cx="85.55" cy="200.53" r="0.78" fill="#7a5c24"/><circle cx="85.94" cy="200.01" r="0.78" fill="#7a5c24"/><circle cx="86.5" cy="201.95" r="0.78" fill="#7a5c24"/><circle cx="86.87" cy="199.48" r="0.78" fill="#7a5c24"/><circle cx="87.23" cy="200.19" r="0.78" fill="#7a5c24"/><circle cx="87.64" cy="200.04" r="0.78" fill="#7a5c24"/><circle cx="88.28" cy="199.31" r="0.78" fill="#7a5c24"/><circle cx="88.52" cy="199" r="0.78" fill="#7a5c24"/><circle cx="88.85" cy="200.46" r="0.78" fill="#7a5c24"/><circle cx="89.16" cy="196.31" r="0.78" fill="#7a5c24"/><circle cx="89.66" cy="199.29" r="0.78" fill="#7a5c24"/><circle cx="89.98" cy="200.32" r="0.78" fill="#7a5c24"/><circle cx="90.58" cy="197.79" r="0.78" fill="#7a5c24"/><circle cx="91.03" cy="197.42" r="0.78" fill="#7a5c24"/><circle cx="91.11" cy="197.82" r="0.78" fill="#7a5c24"/><circle cx="91.85" cy="198.56" r="0.78" fill="#7a5c24"/><circle cx="92.37" cy="195.33" r="0.78" fill="#7a5c24"/><circle cx="92.72" cy="196.24" r="0.78" fill="#7a5c24"/><circle cx="92.98" cy="195.66" r="0.78" fill="#7a5c24"/><circle cx="93.74" cy="196.06" r="0.78" fill="#7a5c24"/><circle cx="93.87" cy="195.37" r="0.78" fill="#7a5c24"/><circle cx="94.21" cy="195.54" r="0.78" fill="#7a5c24"/><circle cx="94.66" cy="194.19" r="0.78" fill="#7a5c24"/><circle cx="95.24" cy="194.34" r="0.78" fill="#7a5c24"/><circle cx="95.82" cy="193.35" r="0.78" fill="#7a5c24"/><circle cx="96.27" cy="193.05" r="0.78" fill="#7a5c24"/><circle cx="96.55" cy="193.25" r="0.78" fill="#7a5c24"/><circle cx="96.77" cy="192.96" r="0.78" fill="#7a5c24"/><circle cx="97.28" cy="191.68" r="0.78" fill="#7a5c24"/><circle cx="97.67" cy="194.01" r="0.78" fill="#7a5c24"/><circle cx="98.2" cy="192.09" r="0.78" fill="#7a5c24"/><circle cx="98.38" cy="190.61" r="0.78" fill="#7a5c24"/><circle cx="99.09" cy="192.69" r="0.78" fill="#7a5c24"/><circle cx="99.6" cy="190.64" r="0.78" fill="#7a5c24"/><circle cx="99.9" cy="191.56" r="0.78" fill="#7a5c24"/><circle cx="100.42" cy="190.78" r="0.78" fill="#7a5c24"/><circle cx="100.64" cy="190.75" r="0.78" fill="#7a5c24"/><circle cx="100.99" cy="190.4" r="0.78" fill="#7a5c24"/><circle cx="101.53" cy="189.41" r="0.78" fill="#7a5c24"/><circle cx="102.23" cy="189.72" r="0.78" fill="#7a5c24"/><circle cx="102.63" cy="191.34" r="0.78" fill="#7a5c24"/><circle cx="102.84" cy="187.02" r="0.78" fill="#7a5c24"/><circle cx="103.51" cy="188.94" r="0.78" fill="#7a5c24"/><circle cx="103.71" cy="189.02" r="0.78" fill="#7a5c24"/><circle cx="104.41" cy="187.35" r="0.78" fill="#7a5c24"/><circle cx="104.68" cy="186.78" r="0.78" fill="#7a5c24"/><circle cx="104.97" cy="189.85" r="0.78" fill="#7a5c24"/><circle cx="105.58" cy="187.2" r="0.78" fill="#7a5c24"/><circle cx="105.77" cy="189.25" r="0.78" fill="#7a5c24"/><circle cx="106.17" cy="187.54" r="0.78" fill="#7a5c24"/><circle cx="106.52" cy="186.85" r="0.78" fill="#7a5c24"/><circle cx="107.2" cy="186.97" r="0.78" fill="#7a5c24"/><circle cx="107.58" cy="186.87" r="0.78" fill="#7a5c24"/><circle cx="108" cy="187.13" r="0.78" fill="#7a5c24"/><circle cx="108.38" cy="186.18" r="0.78" fill="#7a5c24"/><circle cx="109.08" cy="185.66" r="0.78" fill="#7a5c24"/><circle cx="109.22" cy="185.44" r="0.78" fill="#7a5c24"/><circle cx="109.6" cy="186.3" r="0.78" fill="#7a5c24"/><circle cx="110.33" cy="185.55" r="0.78" fill="#7a5c24"/><circle cx="110.78" cy="183.6" r="0.78" fill="#7a5c24"/><circle cx="111.04" cy="183.7" r="0.78" fill="#7a5c24"/><circle cx="111.15" cy="184.37" r="0.78" fill="#7a5c24"/><circle cx="111.75" cy="183.24" r="0.78" fill="#7a5c24"/><circle cx="112.36" cy="183.23" r="0.78" fill="#7a5c24"/><circle cx="112.69" cy="182.45" r="0.78" fill="#7a5c24"/><circle cx="113.35" cy="182.86" r="0.78" fill="#7a5c24"/><circle cx="113.34" cy="183.27" r="0.78" fill="#7a5c24"/><circle cx="114.07" cy="183.57" r="0.78" fill="#7a5c24"/><circle cx="114.3" cy="182.42" r="0.78" fill="#7a5c24"/><circle cx="115.02" cy="184.11" r="0.78" fill="#7a5c24"/><circle cx="115.23" cy="181.88" r="0.78" fill="#7a5c24"/><circle cx="115.83" cy="184.7" r="0.78" fill="#7a5c24"/><circle cx="116" cy="182.43" r="0.78" fill="#7a5c24"/><circle cx="116.31" cy="181.73" r="0.78" fill="#7a5c24"/><circle cx="116.78" cy="180.58" r="0.78" fill="#7a5c24"/><circle cx="117.28" cy="178.2" r="0.78" fill="#7a5c24"/><circle cx="117.64" cy="180.46" r="0.78" fill="#7a5c24"/><circle cx="117.64" cy="180.6" r="1.1" fill="#7a5c24"/><circle cx="35.16" cy="393.16" r="0.78" fill="#e42a7c"/><circle cx="35.73" cy="370.84" r="0.78" fill="#e42a7c"/><circle cx="36.04" cy="354.31" r="0.78" fill="#e42a7c"/><circle cx="36.62" cy="345.4" r="0.78" fill="#e42a7c"/><circle cx="37" cy="335.62" r="0.78" fill="#e42a7c"/><circle cx="37.23" cy="331.86" r="0.78" fill="#e42a7c"/><circle cx="37.8" cy="323.48" r="0.78" fill="#e42a7c"/><circle cx="38.24" cy="318.06" r="0.78" fill="#e42a7c"/><circle cx="38.61" cy="311.59" r="0.78" fill="#e42a7c"/><circle cx="39.21" cy="304.59" r="0.78" fill="#e42a7c"/><circle cx="39.76" cy="302.28" r="0.78" fill="#e42a7c"/><circle cx="39.88" cy="297.95" r="0.78" fill="#e42a7c"/><circle cx="40.3" cy="296.51" r="0.78" fill="#e42a7c"/><circle cx="40.45" cy="292.79" r="0.78" fill="#e42a7c"/><circle cx="41.19" cy="288.45" r="0.78" fill="#e42a7c"/><circle cx="41.57" cy="286.1" r="0.78" fill="#e42a7c"/><circle cx="41.73" cy="285.97" r="0.78" fill="#e42a7c"/><circle cx="42.53" cy="279.99" r="0.78" fill="#e42a7c"/><circle cx="43" cy="277.59" r="0.78" fill="#e42a7c"/><circle cx="43.23" cy="276.14" r="0.78" fill="#e42a7c"/><circle cx="43.71" cy="273.3" r="0.78" fill="#e42a7c"/><circle cx="44.04" cy="271.51" r="0.78" fill="#e42a7c"/><circle cx="44.73" cy="270.67" r="0.78" fill="#e42a7c"/><circle cx="44.81" cy="270.2" r="0.78" fill="#e42a7c"/><circle cx="45.42" cy="263.94" r="0.78" fill="#e42a7c"/><circle cx="46.18" cy="264.3" r="0.78" fill="#e42a7c"/><circle cx="46.32" cy="262.62" r="0.78" fill="#e42a7c"/><circle cx="46.81" cy="260.78" r="0.78" fill="#e42a7c"/><circle cx="47.14" cy="259.02" r="0.78" fill="#e42a7c"/><circle cx="47.41" cy="257.26" r="0.78" fill="#e42a7c"/><circle cx="48.01" cy="257.33" r="0.78" fill="#e42a7c"/><circle cx="48.5" cy="254.1" r="0.78" fill="#e42a7c"/><circle cx="48.71" cy="253.06" r="0.78" fill="#e42a7c"/><circle cx="49.34" cy="251.81" r="0.78" fill="#e42a7c"/><circle cx="49.9" cy="250.58" r="0.78" fill="#e42a7c"/><circle cx="50.3" cy="248.94" r="0.78" fill="#e42a7c"/><circle cx="50.33" cy="249" r="0.78" fill="#e42a7c"/><circle cx="50.85" cy="246.59" r="0.78" fill="#e42a7c"/><circle cx="51.18" cy="245.58" r="0.78" fill="#e42a7c"/><circle cx="52.01" cy="244.13" r="0.78" fill="#e42a7c"/><circle cx="52.36" cy="241.88" r="0.78" fill="#e42a7c"/><circle cx="52.8" cy="240.95" r="0.78" fill="#e42a7c"/><circle cx="52.99" cy="239.6" r="0.78" fill="#e42a7c"/><circle cx="53.37" cy="239.91" r="0.78" fill="#e42a7c"/><circle cx="53.98" cy="237.84" r="0.78" fill="#e42a7c"/><circle cx="54.41" cy="236.42" r="0.78" fill="#e42a7c"/><circle cx="54.7" cy="236.85" r="0.78" fill="#e42a7c"/><circle cx="55.27" cy="236.17" r="0.78" fill="#e42a7c"/><circle cx="55.77" cy="232.68" r="0.78" fill="#e42a7c"/><circle cx="56.13" cy="235.52" r="0.78" fill="#e42a7c"/><circle cx="56.37" cy="232.76" r="0.78" fill="#e42a7c"/><circle cx="56.63" cy="231.7" r="0.78" fill="#e42a7c"/><circle cx="57.34" cy="232.07" r="0.78" fill="#e42a7c"/><circle cx="57.83" cy="230.1" r="0.78" fill="#e42a7c"/><circle cx="58.19" cy="228.5" r="0.78" fill="#e42a7c"/><circle cx="58.59" cy="230.68" r="0.78" fill="#e42a7c"/><circle cx="58.98" cy="226.31" r="0.78" fill="#e42a7c"/><circle cx="59.61" cy="226.54" r="0.78" fill="#e42a7c"/><circle cx="59.92" cy="226.74" r="0.78" fill="#e42a7c"/><circle cx="60.37" cy="223.89" r="0.78" fill="#e42a7c"/><circle cx="60.64" cy="224.14" r="0.78" fill="#e42a7c"/><circle cx="61.11" cy="223.89" r="0.78" fill="#e42a7c"/><circle cx="61.66" cy="225.27" r="0.78" fill="#e42a7c"/><circle cx="61.91" cy="221.02" r="0.78" fill="#e42a7c"/><circle cx="62.29" cy="221.18" r="0.78" fill="#e42a7c"/><circle cx="62.86" cy="221.21" r="0.78" fill="#e42a7c"/><circle cx="63.51" cy="219.88" r="0.78" fill="#e42a7c"/><circle cx="63.79" cy="217.83" r="0.78" fill="#e42a7c"/><circle cx="64.4" cy="218.83" r="0.78" fill="#e42a7c"/><circle cx="64.59" cy="217.83" r="0.78" fill="#e42a7c"/><circle cx="64.99" cy="217.51" r="0.78" fill="#e42a7c"/><circle cx="65.25" cy="217.56" r="0.78" fill="#e42a7c"/><circle cx="65.8" cy="216.77" r="0.78" fill="#e42a7c"/><circle cx="66.53" cy="215.5" r="0.78" fill="#e42a7c"/><circle cx="66.79" cy="214.76" r="0.78" fill="#e42a7c"/><circle cx="67.27" cy="212.67" r="0.78" fill="#e42a7c"/><circle cx="67.69" cy="213.04" r="0.78" fill="#e42a7c"/><circle cx="68.01" cy="212.8" r="0.78" fill="#e42a7c"/><circle cx="68.41" cy="211.55" r="0.78" fill="#e42a7c"/><circle cx="68.88" cy="211.46" r="0.78" fill="#e42a7c"/><circle cx="69.39" cy="209.92" r="0.78" fill="#e42a7c"/><circle cx="69.79" cy="211.76" r="0.78" fill="#e42a7c"/><circle cx="70.22" cy="211.81" r="0.78" fill="#e42a7c"/><circle cx="70.59" cy="208.64" r="0.78" fill="#e42a7c"/><circle cx="70.88" cy="208.88" r="0.78" fill="#e42a7c"/><circle cx="71.38" cy="207.68" r="0.78" fill="#e42a7c"/><circle cx="71.7" cy="208.65" r="0.78" fill="#e42a7c"/><circle cx="72.42" cy="207.26" r="0.78" fill="#e42a7c"/><circle cx="72.38" cy="206.36" r="0.78" fill="#e42a7c"/><circle cx="73.09" cy="205.52" r="0.78" fill="#e42a7c"/><circle cx="73.9" cy="205.35" r="0.78" fill="#e42a7c"/><circle cx="73.92" cy="203.69" r="0.78" fill="#e42a7c"/><circle cx="74.23" cy="204.87" r="0.78" fill="#e42a7c"/><circle cx="74.82" cy="202.96" r="0.78" fill="#e42a7c"/><circle cx="75.44" cy="203.71" r="0.78" fill="#e42a7c"/><circle cx="75.65" cy="202.8" r="0.78" fill="#e42a7c"/><circle cx="76.19" cy="203.28" r="0.78" fill="#e42a7c"/><circle cx="76.54" cy="201.67" r="0.78" fill="#e42a7c"/><circle cx="76.89" cy="202.23" r="0.78" fill="#e42a7c"/><circle cx="77.85" cy="199.8" r="0.78" fill="#e42a7c"/><circle cx="77.81" cy="200.86" r="0.78" fill="#e42a7c"/><circle cx="78.15" cy="199.56" r="0.78" fill="#e42a7c"/><circle cx="78.58" cy="199.51" r="0.78" fill="#e42a7c"/><circle cx="79.13" cy="198.92" r="0.78" fill="#e42a7c"/><circle cx="79.56" cy="199.33" r="0.78" fill="#e42a7c"/><circle cx="80.04" cy="195.94" r="0.78" fill="#e42a7c"/><circle cx="80.38" cy="197.81" r="0.78" fill="#e42a7c"/><circle cx="80.56" cy="195.57" r="0.78" fill="#e42a7c"/><circle cx="81.28" cy="197.8" r="0.78" fill="#e42a7c"/><circle cx="81.58" cy="194.23" r="0.78" fill="#e42a7c"/><circle cx="82.01" cy="194.75" r="0.78" fill="#e42a7c"/><circle cx="82.26" cy="193.66" r="0.78" fill="#e42a7c"/><circle cx="82.82" cy="196.5" r="0.78" fill="#e42a7c"/><circle cx="83.22" cy="193.2" r="0.78" fill="#e42a7c"/><circle cx="83.75" cy="194.16" r="0.78" fill="#e42a7c"/><circle cx="83.97" cy="193.11" r="0.78" fill="#e42a7c"/><circle cx="84.62" cy="191.46" r="0.78" fill="#e42a7c"/><circle cx="85.05" cy="192.49" r="0.78" fill="#e42a7c"/><circle cx="85.29" cy="193.06" r="0.78" fill="#e42a7c"/><circle cx="85.79" cy="191.84" r="0.78" fill="#e42a7c"/><circle cx="86.18" cy="192.54" r="0.78" fill="#e42a7c"/><circle cx="86.87" cy="190.87" r="0.78" fill="#e42a7c"/><circle cx="86.78" cy="190.84" r="0.78" fill="#e42a7c"/><circle cx="87.54" cy="190.07" r="0.78" fill="#e42a7c"/><circle cx="87.76" cy="190.4" r="0.78" fill="#e42a7c"/><circle cx="88.37" cy="191.53" r="0.78" fill="#e42a7c"/><circle cx="88.99" cy="189.66" r="0.78" fill="#e42a7c"/><circle cx="89.19" cy="189.12" r="0.78" fill="#e42a7c"/><circle cx="89.74" cy="187.96" r="0.78" fill="#e42a7c"/><circle cx="90.01" cy="187.46" r="0.78" fill="#e42a7c"/><circle cx="90.86" cy="189.24" r="0.78" fill="#e42a7c"/><circle cx="91.13" cy="186.38" r="0.78" fill="#e42a7c"/><circle cx="91.59" cy="186.21" r="0.78" fill="#e42a7c"/><circle cx="91.64" cy="186.64" r="0.78" fill="#e42a7c"/><circle cx="92.1" cy="185.97" r="0.78" fill="#e42a7c"/><circle cx="92.86" cy="187.91" r="0.78" fill="#e42a7c"/><circle cx="93.09" cy="183.4" r="0.78" fill="#e42a7c"/><circle cx="93.51" cy="185.68" r="0.78" fill="#e42a7c"/><circle cx="94.02" cy="185.67" r="0.78" fill="#e42a7c"/><circle cx="94.21" cy="183.57" r="0.78" fill="#e42a7c"/><circle cx="94.94" cy="183.68" r="0.78" fill="#e42a7c"/><circle cx="95.25" cy="184.38" r="0.78" fill="#e42a7c"/><circle cx="95.74" cy="185.19" r="0.78" fill="#e42a7c"/><circle cx="96" cy="182.41" r="0.78" fill="#e42a7c"/><circle cx="96.6" cy="181.45" r="0.78" fill="#e42a7c"/><circle cx="96.84" cy="183.56" r="0.78" fill="#e42a7c"/><circle cx="97.52" cy="183.76" r="0.78" fill="#e42a7c"/><circle cx="97.97" cy="181.66" r="0.78" fill="#e42a7c"/><circle cx="98.36" cy="179.55" r="0.78" fill="#e42a7c"/><circle cx="98.73" cy="182.72" r="0.78" fill="#e42a7c"/><circle cx="99.17" cy="180.83" r="0.78" fill="#e42a7c"/><circle cx="99.1" cy="181.77" r="0.78" fill="#e42a7c"/><circle cx="100.05" cy="180.35" r="0.78" fill="#e42a7c"/><circle cx="100.31" cy="179.72" r="0.78" fill="#e42a7c"/><circle cx="100.79" cy="179.34" r="0.78" fill="#e42a7c"/><circle cx="101.16" cy="180.86" r="0.78" fill="#e42a7c"/><circle cx="101.42" cy="180.51" r="0.78" fill="#e42a7c"/><circle cx="101.97" cy="176.82" r="0.78" fill="#e42a7c"/><circle cx="102.58" cy="177.66" r="0.78" fill="#e42a7c"/><circle cx="103.12" cy="179.93" r="0.78" fill="#e42a7c"/><circle cx="103.24" cy="177.6" r="0.78" fill="#e42a7c"/><circle cx="103.62" cy="176.37" r="0.78" fill="#e42a7c"/><circle cx="104.4" cy="177.36" r="0.78" fill="#e42a7c"/><circle cx="104.48" cy="176.96" r="0.78" fill="#e42a7c"/><circle cx="105.34" cy="176.68" r="0.78" fill="#e42a7c"/><circle cx="105.47" cy="176.03" r="0.78" fill="#e42a7c"/><circle cx="105.75" cy="175.9" r="0.78" fill="#e42a7c"/><circle cx="106.46" cy="175.48" r="0.78" fill="#e42a7c"/><circle cx="106.99" cy="175.94" r="0.78" fill="#e42a7c"/><circle cx="106.95" cy="174.58" r="0.78" fill="#e42a7c"/><circle cx="107.82" cy="174.79" r="0.78" fill="#e42a7c"/><circle cx="107.97" cy="174.65" r="0.78" fill="#e42a7c"/><circle cx="108.66" cy="175.73" r="0.78" fill="#e42a7c"/><circle cx="108.81" cy="174.58" r="0.78" fill="#e42a7c"/><circle cx="109.05" cy="173.85" r="0.78" fill="#e42a7c"/><circle cx="109.79" cy="174.18" r="0.78" fill="#e42a7c"/><circle cx="110.28" cy="173.79" r="0.78" fill="#e42a7c"/><circle cx="110.88" cy="174.16" r="0.78" fill="#e42a7c"/><circle cx="111.25" cy="173.34" r="0.78" fill="#e42a7c"/><circle cx="111.52" cy="174.28" r="0.78" fill="#e42a7c"/><circle cx="111.81" cy="173.59" r="0.78" fill="#e42a7c"/><circle cx="112.19" cy="172.03" r="0.78" fill="#e42a7c"/><circle cx="112.65" cy="171.42" r="0.78" fill="#e42a7c"/><circle cx="112.99" cy="172.37" r="0.78" fill="#e42a7c"/><circle cx="113.5" cy="171.77" r="0.78" fill="#e42a7c"/><circle cx="113.59" cy="170.94" r="0.78" fill="#e42a7c"/><circle cx="114.42" cy="169.4" r="0.78" fill="#e42a7c"/><circle cx="114.82" cy="168.81" r="0.78" fill="#e42a7c"/><circle cx="115.63" cy="170.59" r="0.78" fill="#e42a7c"/><circle cx="115.78" cy="170.73" r="0.78" fill="#e42a7c"/><circle cx="116.02" cy="170.51" r="0.78" fill="#e42a7c"/><circle cx="116.61" cy="168.31" r="0.78" fill="#e42a7c"/><circle cx="116.76" cy="170.22" r="0.78" fill="#e42a7c"/><circle cx="117.28" cy="168.51" r="0.78" fill="#e42a7c"/><circle cx="117.52" cy="169.12" r="0.78" fill="#e42a7c"/><circle cx="118.44" cy="168.91" r="0.78" fill="#e42a7c"/><circle cx="118.74" cy="167.53" r="0.78" fill="#e42a7c"/><circle cx="118.9" cy="167.48" r="0.78" fill="#e42a7c"/><circle cx="119.49" cy="165.87" r="0.78" fill="#e42a7c"/><circle cx="120.07" cy="166.7" r="0.78" fill="#e42a7c"/><circle cx="120.43" cy="165.64" r="0.78" fill="#e42a7c"/><circle cx="120.83" cy="167.48" r="0.78" fill="#e42a7c"/><circle cx="121.07" cy="166.89" r="0.78" fill="#e42a7c"/><circle cx="121.53" cy="167.45" r="0.78" fill="#e42a7c"/><circle cx="121.53" cy="166.6" r="1.1" fill="#e42a7c"/><circle cx="34.79" cy="401.51" r="0.78" fill="#6cc44a"/><circle cx="35.38" cy="372.51" r="0.78" fill="#6cc44a"/><circle cx="35.77" cy="350.24" r="0.78" fill="#6cc44a"/><circle cx="36.14" cy="336.95" r="0.78" fill="#6cc44a"/><circle cx="36.28" cy="331.35" r="0.78" fill="#6cc44a"/><circle cx="37.01" cy="319.41" r="0.78" fill="#6cc44a"/><circle cx="37.23" cy="315.98" r="0.78" fill="#6cc44a"/><circle cx="38.19" cy="308.58" r="0.78" fill="#6cc44a"/><circle cx="38.2" cy="304.31" r="0.78" fill="#6cc44a"/><circle cx="38.68" cy="300.89" r="0.78" fill="#6cc44a"/><circle cx="38.91" cy="294.97" r="0.78" fill="#6cc44a"/><circle cx="39.43" cy="291.19" r="0.78" fill="#6cc44a"/><circle cx="39.74" cy="285.14" r="0.78" fill="#6cc44a"/><circle cx="40.5" cy="282.17" r="0.78" fill="#6cc44a"/><circle cx="40.74" cy="280.96" r="0.78" fill="#6cc44a"/><circle cx="41.29" cy="279.29" r="0.78" fill="#6cc44a"/><circle cx="41.53" cy="276.35" r="0.78" fill="#6cc44a"/><circle cx="41.98" cy="275.01" r="0.78" fill="#6cc44a"/><circle cx="42.68" cy="269.9" r="0.78" fill="#6cc44a"/><circle cx="42.76" cy="267.46" r="0.78" fill="#6cc44a"/><circle cx="43.07" cy="266.32" r="0.78" fill="#6cc44a"/><circle cx="43.82" cy="262.96" r="0.78" fill="#6cc44a"/><circle cx="44.02" cy="260.86" r="0.78" fill="#6cc44a"/><circle cx="44.55" cy="257.72" r="0.78" fill="#6cc44a"/><circle cx="45.17" cy="258.45" r="0.78" fill="#6cc44a"/><circle cx="45.34" cy="254.13" r="0.78" fill="#6cc44a"/><circle cx="46.02" cy="254.4" r="0.78" fill="#6cc44a"/><circle cx="46.21" cy="250.41" r="0.78" fill="#6cc44a"/><circle cx="46.96" cy="251.91" r="0.78" fill="#6cc44a"/><circle cx="47.36" cy="247.82" r="0.78" fill="#6cc44a"/><circle cx="47.52" cy="248.6" r="0.78" fill="#6cc44a"/><circle cx="47.98" cy="244.28" r="0.78" fill="#6cc44a"/><circle cx="48.32" cy="244.27" r="0.78" fill="#6cc44a"/><circle cx="48.9" cy="244.85" r="0.78" fill="#6cc44a"/><circle cx="49.46" cy="241.22" r="0.78" fill="#6cc44a"/><circle cx="49.5" cy="240.98" r="0.78" fill="#6cc44a"/><circle cx="50.28" cy="239.12" r="0.78" fill="#6cc44a"/><circle cx="50.37" cy="235.82" r="0.78" fill="#6cc44a"/><circle cx="50.87" cy="237.68" r="0.78" fill="#6cc44a"/><circle cx="51.15" cy="236.69" r="0.78" fill="#6cc44a"/><circle cx="52.16" cy="233.82" r="0.78" fill="#6cc44a"/><circle cx="52.28" cy="234.66" r="0.78" fill="#6cc44a"/><circle cx="52.73" cy="232.05" r="0.78" fill="#6cc44a"/><circle cx="53.02" cy="230.8" r="0.78" fill="#6cc44a"/><circle cx="53.71" cy="230.93" r="0.78" fill="#6cc44a"/><circle cx="53.66" cy="229.18" r="0.78" fill="#6cc44a"/><circle cx="54.4" cy="231.53" r="0.78" fill="#6cc44a"/><circle cx="55.16" cy="226.31" r="0.78" fill="#6cc44a"/><circle cx="55.19" cy="227.93" r="0.78" fill="#6cc44a"/><circle cx="55.68" cy="227.3" r="0.78" fill="#6cc44a"/><circle cx="56.2" cy="223.15" r="0.78" fill="#6cc44a"/><circle cx="56.4" cy="222.55" r="0.78" fill="#6cc44a"/><circle cx="56.95" cy="224.22" r="0.78" fill="#6cc44a"/><circle cx="57.52" cy="222.24" r="0.78" fill="#6cc44a"/><circle cx="57.83" cy="222.36" r="0.78" fill="#6cc44a"/><circle cx="58.28" cy="222.37" r="0.78" fill="#6cc44a"/><circle cx="58.6" cy="219.94" r="0.78" fill="#6cc44a"/><circle cx="59.13" cy="218.42" r="0.78" fill="#6cc44a"/><circle cx="59.51" cy="215.87" r="0.78" fill="#6cc44a"/><circle cx="60.15" cy="218.27" r="0.78" fill="#6cc44a"/><circle cx="60.46" cy="216.32" r="0.78" fill="#6cc44a"/><circle cx="60.74" cy="216.92" r="0.78" fill="#6cc44a"/><circle cx="60.84" cy="216.12" r="0.78" fill="#6cc44a"/><circle cx="61.74" cy="213.69" r="0.78" fill="#6cc44a"/><circle cx="62.17" cy="216.3" r="0.78" fill="#6cc44a"/><circle cx="62.35" cy="214.94" r="0.78" fill="#6cc44a"/><circle cx="62.61" cy="214.01" r="0.78" fill="#6cc44a"/><circle cx="63.16" cy="211.21" r="0.78" fill="#6cc44a"/><circle cx="63.9" cy="211.37" r="0.78" fill="#6cc44a"/><circle cx="64.03" cy="210.58" r="0.78" fill="#6cc44a"/><circle cx="64.54" cy="210.09" r="0.78" fill="#6cc44a"/><circle cx="65.07" cy="208.72" r="0.78" fill="#6cc44a"/><circle cx="65.65" cy="209.73" r="0.78" fill="#6cc44a"/><circle cx="65.88" cy="208.91" r="0.78" fill="#6cc44a"/><circle cx="66.3" cy="208.45" r="0.78" fill="#6cc44a"/><circle cx="66.66" cy="206.95" r="0.78" fill="#6cc44a"/><circle cx="67.41" cy="208.23" r="0.78" fill="#6cc44a"/><circle cx="67.75" cy="206.51" r="0.78" fill="#6cc44a"/><circle cx="68" cy="202.92" r="0.78" fill="#6cc44a"/><circle cx="68.23" cy="204.53" r="0.78" fill="#6cc44a"/><circle cx="68.75" cy="204.57" r="0.78" fill="#6cc44a"/><circle cx="69.38" cy="205.07" r="0.78" fill="#6cc44a"/><circle cx="69.61" cy="203.23" r="0.78" fill="#6cc44a"/><circle cx="70.28" cy="202.75" r="0.78" fill="#6cc44a"/><circle cx="70.62" cy="201.8" r="0.78" fill="#6cc44a"/><circle cx="71.04" cy="202.63" r="0.78" fill="#6cc44a"/><circle cx="71.52" cy="200.98" r="0.78" fill="#6cc44a"/><circle cx="71.92" cy="200.31" r="0.78" fill="#6cc44a"/><circle cx="72.14" cy="199.66" r="0.78" fill="#6cc44a"/><circle cx="72.65" cy="200.48" r="0.78" fill="#6cc44a"/><circle cx="73.47" cy="198.88" r="0.78" fill="#6cc44a"/><circle cx="73.36" cy="197.24" r="0.78" fill="#6cc44a"/><circle cx="73.9" cy="199.08" r="0.78" fill="#6cc44a"/><circle cx="74.56" cy="197.26" r="0.78" fill="#6cc44a"/><circle cx="74.8" cy="197.86" r="0.78" fill="#6cc44a"/><circle cx="75.13" cy="197.4" r="0.78" fill="#6cc44a"/><circle cx="75.48" cy="197.77" r="0.78" fill="#6cc44a"/><circle cx="76.18" cy="197.15" r="0.78" fill="#6cc44a"/><circle cx="76.68" cy="195.08" r="0.78" fill="#6cc44a"/><circle cx="77.16" cy="195.04" r="0.78" fill="#6cc44a"/><circle cx="77.38" cy="193.47" r="0.78" fill="#6cc44a"/><circle cx="77.96" cy="195.99" r="0.78" fill="#6cc44a"/><circle cx="78.07" cy="194.32" r="0.78" fill="#6cc44a"/><circle cx="78.68" cy="194.84" r="0.78" fill="#6cc44a"/><circle cx="78.98" cy="192.7" r="0.78" fill="#6cc44a"/><circle cx="79.53" cy="190.56" r="0.78" fill="#6cc44a"/><circle cx="80.04" cy="193.69" r="0.78" fill="#6cc44a"/><circle cx="80.51" cy="191.85" r="0.78" fill="#6cc44a"/><circle cx="80.63" cy="191.48" r="0.78" fill="#6cc44a"/><circle cx="81.4" cy="190.99" r="0.78" fill="#6cc44a"/><circle cx="81.56" cy="191.17" r="0.78" fill="#6cc44a"/><circle cx="81.9" cy="190.66" r="0.78" fill="#6cc44a"/><circle cx="82.46" cy="188.17" r="0.78" fill="#6cc44a"/><circle cx="82.69" cy="190.41" r="0.78" fill="#6cc44a"/><circle cx="83.33" cy="188.43" r="0.78" fill="#6cc44a"/><circle cx="83.8" cy="188.1" r="0.78" fill="#6cc44a"/><circle cx="84.15" cy="189.87" r="0.78" fill="#6cc44a"/><circle cx="84.69" cy="188.7" r="0.78" fill="#6cc44a"/><circle cx="84.99" cy="187.09" r="0.78" fill="#6cc44a"/><circle cx="85.46" cy="185.23" r="0.78" fill="#6cc44a"/><circle cx="85.67" cy="186.83" r="0.78" fill="#6cc44a"/><circle cx="86.32" cy="186.83" r="0.78" fill="#6cc44a"/><circle cx="86.61" cy="185.86" r="0.78" fill="#6cc44a"/><circle cx="87.09" cy="184.37" r="0.78" fill="#6cc44a"/><circle cx="87.57" cy="184.45" r="0.78" fill="#6cc44a"/><circle cx="88.04" cy="183.64" r="0.78" fill="#6cc44a"/><circle cx="88.19" cy="184.72" r="0.78" fill="#6cc44a"/><circle cx="88.63" cy="184.96" r="0.78" fill="#6cc44a"/><circle cx="89.24" cy="184.81" r="0.78" fill="#6cc44a"/><circle cx="89.79" cy="182.76" r="0.78" fill="#6cc44a"/><circle cx="90.19" cy="183.35" r="0.78" fill="#6cc44a"/><circle cx="90.7" cy="183.32" r="0.78" fill="#6cc44a"/><circle cx="91.19" cy="181.95" r="0.78" fill="#6cc44a"/><circle cx="91.49" cy="181.97" r="0.78" fill="#6cc44a"/><circle cx="91.84" cy="183.83" r="0.78" fill="#6cc44a"/><circle cx="92.11" cy="181.65" r="0.78" fill="#6cc44a"/><circle cx="92.55" cy="181.97" r="0.78" fill="#6cc44a"/><circle cx="93.05" cy="180.38" r="0.78" fill="#6cc44a"/><circle cx="93.58" cy="180.51" r="0.78" fill="#6cc44a"/><circle cx="94" cy="178.5" r="0.78" fill="#6cc44a"/><circle cx="94.4" cy="179.81" r="0.78" fill="#6cc44a"/><circle cx="94.8" cy="180.66" r="0.78" fill="#6cc44a"/><circle cx="95.34" cy="181.22" r="0.78" fill="#6cc44a"/><circle cx="95.7" cy="180.04" r="0.78" fill="#6cc44a"/><circle cx="96.14" cy="179.24" r="0.78" fill="#6cc44a"/><circle cx="96.57" cy="178.32" r="0.78" fill="#6cc44a"/><circle cx="96.87" cy="177.4" r="0.78" fill="#6cc44a"/><circle cx="97.22" cy="177.51" r="0.78" fill="#6cc44a"/><circle cx="97.87" cy="177.95" r="0.78" fill="#6cc44a"/><circle cx="98.29" cy="176.32" r="0.78" fill="#6cc44a"/><circle cx="98.62" cy="177.66" r="0.78" fill="#6cc44a"/><circle cx="99.01" cy="175.53" r="0.78" fill="#6cc44a"/><circle cx="99.84" cy="174.49" r="0.78" fill="#6cc44a"/><circle cx="99.81" cy="174.92" r="0.78" fill="#6cc44a"/><circle cx="100.32" cy="174.01" r="0.78" fill="#6cc44a"/><circle cx="100.82" cy="174.01" r="0.78" fill="#6cc44a"/><circle cx="101.03" cy="176.1" r="0.78" fill="#6cc44a"/><circle cx="101.65" cy="174.55" r="0.78" fill="#6cc44a"/><circle cx="102.32" cy="174.67" r="0.78" fill="#6cc44a"/><circle cx="102.62" cy="175.28" r="0.78" fill="#6cc44a"/><circle cx="103" cy="175.09" r="0.78" fill="#6cc44a"/><circle cx="103.42" cy="173.14" r="0.78" fill="#6cc44a"/><circle cx="103.77" cy="174.6" r="0.78" fill="#6cc44a"/><circle cx="104.33" cy="173.44" r="0.78" fill="#6cc44a"/><circle cx="104.58" cy="172.8" r="0.78" fill="#6cc44a"/><circle cx="104.97" cy="172.95" r="0.78" fill="#6cc44a"/><circle cx="105.47" cy="170.92" r="0.78" fill="#6cc44a"/><circle cx="106.02" cy="171.25" r="0.78" fill="#6cc44a"/><circle cx="106.36" cy="171.63" r="0.78" fill="#6cc44a"/><circle cx="106.84" cy="172.04" r="0.78" fill="#6cc44a"/><circle cx="106.86" cy="170.85" r="0.78" fill="#6cc44a"/><circle cx="107.76" cy="170.82" r="0.78" fill="#6cc44a"/><circle cx="108.36" cy="171.59" r="0.78" fill="#6cc44a"/><circle cx="108.64" cy="171.75" r="0.78" fill="#6cc44a"/><circle cx="108.81" cy="170.89" r="0.78" fill="#6cc44a"/><circle cx="109.16" cy="171.1" r="0.78" fill="#6cc44a"/><circle cx="109.76" cy="169.28" r="0.78" fill="#6cc44a"/><circle cx="109.99" cy="169.12" r="0.78" fill="#6cc44a"/><circle cx="110.67" cy="169.46" r="0.78" fill="#6cc44a"/><circle cx="110.91" cy="168.63" r="0.78" fill="#6cc44a"/><circle cx="111.56" cy="168.19" r="0.78" fill="#6cc44a"/><circle cx="112.05" cy="169.96" r="0.78" fill="#6cc44a"/><circle cx="111.96" cy="167.98" r="0.78" fill="#6cc44a"/><circle cx="112.74" cy="167.02" r="0.78" fill="#6cc44a"/><circle cx="113.01" cy="168.14" r="0.78" fill="#6cc44a"/><circle cx="113.33" cy="169.16" r="0.78" fill="#6cc44a"/><circle cx="113.88" cy="167.28" r="0.78" fill="#6cc44a"/><circle cx="114.36" cy="168.11" r="0.78" fill="#6cc44a"/><circle cx="114.97" cy="166.32" r="0.78" fill="#6cc44a"/><circle cx="115.02" cy="166.03" r="0.78" fill="#6cc44a"/><circle cx="115.83" cy="165.61" r="0.78" fill="#6cc44a"/><circle cx="116.4" cy="165.89" r="0.78" fill="#6cc44a"/><circle cx="116.61" cy="167.5" r="0.78" fill="#6cc44a"/><circle cx="117.03" cy="164.48" r="0.78" fill="#6cc44a"/><circle cx="117.37" cy="166.85" r="0.78" fill="#6cc44a"/><circle cx="117.62" cy="164.16" r="0.78" fill="#6cc44a"/><circle cx="117.62" cy="165.1" r="1.1" fill="#6cc44a"/><circle cx="35.17" cy="384.38" r="0.78" fill="#f4a878"/><circle cx="35.76" cy="365.12" r="0.78" fill="#f4a878"/><circle cx="36.12" cy="354.53" r="0.78" fill="#f4a878"/><circle cx="36.5" cy="339.8" r="0.78" fill="#f4a878"/><circle cx="37.07" cy="330.25" r="0.78" fill="#f4a878"/><circle cx="37.4" cy="324.58" r="0.78" fill="#f4a878"/><circle cx="37.88" cy="313.18" r="0.78" fill="#f4a878"/><circle cx="38.34" cy="307.79" r="0.78" fill="#f4a878"/><circle cx="38.64" cy="303.85" r="0.78" fill="#f4a878"/><circle cx="39.03" cy="298.77" r="0.78" fill="#f4a878"/><circle cx="39.55" cy="296.5" r="0.78" fill="#f4a878"/><circle cx="39.86" cy="291.09" r="0.78" fill="#f4a878"/><circle cx="40.41" cy="290.38" r="0.78" fill="#f4a878"/><circle cx="40.94" cy="286.65" r="0.78" fill="#f4a878"/><circle cx="41.33" cy="282.42" r="0.78" fill="#f4a878"/><circle cx="41.57" cy="277.86" r="0.78" fill="#f4a878"/><circle cx="41.86" cy="276.41" r="0.78" fill="#f4a878"/><circle cx="42.47" cy="274" r="0.78" fill="#f4a878"/><circle cx="42.88" cy="269.02" r="0.78" fill="#f4a878"/><circle cx="43.49" cy="268.47" r="0.78" fill="#f4a878"/><circle cx="43.7" cy="266.64" r="0.78" fill="#f4a878"/><circle cx="44.15" cy="263.83" r="0.78" fill="#f4a878"/><circle cx="44.72" cy="263.44" r="0.78" fill="#f4a878"/><circle cx="44.96" cy="260.98" r="0.78" fill="#f4a878"/><circle cx="45.43" cy="256.51" r="0.78" fill="#f4a878"/><circle cx="46.14" cy="255.84" r="0.78" fill="#f4a878"/><circle cx="46.53" cy="252.88" r="0.78" fill="#f4a878"/><circle cx="46.83" cy="252.88" r="0.78" fill="#f4a878"/><circle cx="47.2" cy="249.47" r="0.78" fill="#f4a878"/><circle cx="47.44" cy="250.01" r="0.78" fill="#f4a878"/><circle cx="48.09" cy="247.81" r="0.78" fill="#f4a878"/><circle cx="48.44" cy="246.99" r="0.78" fill="#f4a878"/><circle cx="48.89" cy="244.2" r="0.78" fill="#f4a878"/><circle cx="49.21" cy="241.24" r="0.78" fill="#f4a878"/><circle cx="49.71" cy="243.63" r="0.78" fill="#f4a878"/><circle cx="50.11" cy="240.02" r="0.78" fill="#f4a878"/><circle cx="50.61" cy="240.5" r="0.78" fill="#f4a878"/><circle cx="51.2" cy="238.13" r="0.78" fill="#f4a878"/><circle cx="51.47" cy="237.17" r="0.78" fill="#f4a878"/><circle cx="51.59" cy="237.27" r="0.78" fill="#f4a878"/><circle cx="52.12" cy="234.39" r="0.78" fill="#f4a878"/><circle cx="52.45" cy="234.43" r="0.78" fill="#f4a878"/><circle cx="53" cy="230.05" r="0.78" fill="#f4a878"/><circle cx="53.62" cy="231.59" r="0.78" fill="#f4a878"/><circle cx="54.03" cy="229.27" r="0.78" fill="#f4a878"/><circle cx="54.3" cy="228.33" r="0.78" fill="#f4a878"/><circle cx="54.86" cy="227.46" r="0.78" fill="#f4a878"/><circle cx="55.13" cy="226.82" r="0.78" fill="#f4a878"/><circle cx="55.46" cy="227.27" r="0.78" fill="#f4a878"/><circle cx="55.88" cy="222.43" r="0.78" fill="#f4a878"/><circle cx="56.39" cy="223.57" r="0.78" fill="#f4a878"/><circle cx="57.16" cy="221.8" r="0.78" fill="#f4a878"/><circle cx="57.17" cy="222.94" r="0.78" fill="#f4a878"/><circle cx="57.98" cy="220.31" r="0.78" fill="#f4a878"/><circle cx="58.42" cy="220.38" r="0.78" fill="#f4a878"/><circle cx="58.62" cy="218.58" r="0.78" fill="#f4a878"/><circle cx="59.06" cy="218.88" r="0.78" fill="#f4a878"/><circle cx="59.41" cy="218.41" r="0.78" fill="#f4a878"/><circle cx="59.92" cy="216.07" r="0.78" fill="#f4a878"/><circle cx="60.45" cy="215.74" r="0.78" fill="#f4a878"/><circle cx="60.77" cy="213.37" r="0.78" fill="#f4a878"/><circle cx="61.35" cy="214.43" r="0.78" fill="#f4a878"/><circle cx="61.8" cy="214.24" r="0.78" fill="#f4a878"/><circle cx="62.1" cy="211.98" r="0.78" fill="#f4a878"/><circle cx="62.52" cy="213" r="0.78" fill="#f4a878"/><circle cx="62.89" cy="208.89" r="0.78" fill="#f4a878"/><circle cx="63.38" cy="208.4" r="0.78" fill="#f4a878"/><circle cx="63.59" cy="208.18" r="0.78" fill="#f4a878"/><circle cx="64.24" cy="208.42" r="0.78" fill="#f4a878"/><circle cx="64.63" cy="208.26" r="0.78" fill="#f4a878"/><circle cx="64.9" cy="207.47" r="0.78" fill="#f4a878"/><circle cx="65.78" cy="206.8" r="0.78" fill="#f4a878"/><circle cx="65.73" cy="206.96" r="0.78" fill="#f4a878"/><circle cx="66.17" cy="205.06" r="0.78" fill="#f4a878"/><circle cx="66.77" cy="203.59" r="0.78" fill="#f4a878"/><circle cx="66.87" cy="202.97" r="0.78" fill="#f4a878"/><circle cx="67.46" cy="205.8" r="0.78" fill="#f4a878"/><circle cx="67.78" cy="200.57" r="0.78" fill="#f4a878"/><circle cx="68.29" cy="202.2" r="0.78" fill="#f4a878"/><circle cx="68.84" cy="203.27" r="0.78" fill="#f4a878"/><circle cx="69.33" cy="201.66" r="0.78" fill="#f4a878"/><circle cx="69.87" cy="199.72" r="0.78" fill="#f4a878"/><circle cx="70.25" cy="199.99" r="0.78" fill="#f4a878"/><circle cx="70.74" cy="200.29" r="0.78" fill="#f4a878"/><circle cx="71.07" cy="200.06" r="0.78" fill="#f4a878"/><circle cx="71.34" cy="197.35" r="0.78" fill="#f4a878"/><circle cx="72" cy="198.47" r="0.78" fill="#f4a878"/><circle cx="72.19" cy="197.4" r="0.78" fill="#f4a878"/><circle cx="72.59" cy="197.72" r="0.78" fill="#f4a878"/><circle cx="73.34" cy="197.46" r="0.78" fill="#f4a878"/><circle cx="73.66" cy="195.17" r="0.78" fill="#f4a878"/><circle cx="74" cy="193.53" r="0.78" fill="#f4a878"/><circle cx="74.5" cy="194.86" r="0.78" fill="#f4a878"/><circle cx="74.95" cy="195.73" r="0.78" fill="#f4a878"/><circle cx="75.04" cy="194.12" r="0.78" fill="#f4a878"/><circle cx="75.65" cy="193.15" r="0.78" fill="#f4a878"/><circle cx="75.91" cy="194.83" r="0.78" fill="#f4a878"/><circle cx="76.53" cy="190.88" r="0.78" fill="#f4a878"/><circle cx="76.84" cy="192.33" r="0.78" fill="#f4a878"/><circle cx="77.57" cy="190.37" r="0.78" fill="#f4a878"/><circle cx="77.87" cy="190.51" r="0.78" fill="#f4a878"/><circle cx="78.1" cy="190.07" r="0.78" fill="#f4a878"/><circle cx="78.64" cy="191.01" r="0.78" fill="#f4a878"/><circle cx="78.89" cy="188.1" r="0.78" fill="#f4a878"/><circle cx="79.5" cy="188.04" r="0.78" fill="#f4a878"/><circle cx="80" cy="186.53" r="0.78" fill="#f4a878"/><circle cx="80.39" cy="188.13" r="0.78" fill="#f4a878"/><circle cx="80.48" cy="186.75" r="0.78" fill="#f4a878"/><circle cx="81.15" cy="187.17" r="0.78" fill="#f4a878"/><circle cx="81.7" cy="185.25" r="0.78" fill="#f4a878"/><circle cx="82.09" cy="185.51" r="0.78" fill="#f4a878"/><circle cx="82.65" cy="186.45" r="0.78" fill="#f4a878"/><circle cx="82.71" cy="184.83" r="0.78" fill="#f4a878"/><circle cx="83.4" cy="185.18" r="0.78" fill="#f4a878"/><circle cx="83.65" cy="184.66" r="0.78" fill="#f4a878"/><circle cx="84.2" cy="183.38" r="0.78" fill="#f4a878"/><circle cx="84.66" cy="181.78" r="0.78" fill="#f4a878"/><circle cx="85.13" cy="183.86" r="0.78" fill="#f4a878"/><circle cx="85.36" cy="182.65" r="0.78" fill="#f4a878"/><circle cx="85.9" cy="183.03" r="0.78" fill="#f4a878"/><circle cx="86.13" cy="179.7" r="0.78" fill="#f4a878"/><circle cx="86.52" cy="179.65" r="0.78" fill="#f4a878"/><circle cx="87.24" cy="178.78" r="0.78" fill="#f4a878"/><circle cx="87.57" cy="179.62" r="0.78" fill="#f4a878"/><circle cx="87.76" cy="181.1" r="0.78" fill="#f4a878"/><circle cx="88.3" cy="180.25" r="0.78" fill="#f4a878"/><circle cx="88.86" cy="179.28" r="0.78" fill="#f4a878"/><circle cx="89.51" cy="179.06" r="0.78" fill="#f4a878"/><circle cx="89.86" cy="179.29" r="0.78" fill="#f4a878"/><circle cx="90.25" cy="177.88" r="0.78" fill="#f4a878"/><circle cx="90.29" cy="178.19" r="0.78" fill="#f4a878"/><circle cx="90.97" cy="177.57" r="0.78" fill="#f4a878"/><circle cx="91.48" cy="174.95" r="0.78" fill="#f4a878"/><circle cx="91.89" cy="176.33" r="0.78" fill="#f4a878"/><circle cx="92.32" cy="177.65" r="0.78" fill="#f4a878"/><circle cx="92.65" cy="175.6" r="0.78" fill="#f4a878"/><circle cx="93.37" cy="175.48" r="0.78" fill="#f4a878"/><circle cx="93.76" cy="174.68" r="0.78" fill="#f4a878"/><circle cx="93.95" cy="174.45" r="0.78" fill="#f4a878"/><circle cx="94.24" cy="175.65" r="0.78" fill="#f4a878"/><circle cx="95.12" cy="173.96" r="0.78" fill="#f4a878"/><circle cx="95.15" cy="172.9" r="0.78" fill="#f4a878"/><circle cx="95.84" cy="170.55" r="0.78" fill="#f4a878"/><circle cx="96.38" cy="172.65" r="0.78" fill="#f4a878"/><circle cx="96.37" cy="170.97" r="0.78" fill="#f4a878"/><circle cx="96.98" cy="170.78" r="0.78" fill="#f4a878"/><circle cx="97.31" cy="172.95" r="0.78" fill="#f4a878"/><circle cx="97.87" cy="172.53" r="0.78" fill="#f4a878"/><circle cx="98.26" cy="169.7" r="0.78" fill="#f4a878"/><circle cx="98.93" cy="172.02" r="0.78" fill="#f4a878"/><circle cx="99.16" cy="171.32" r="0.78" fill="#f4a878"/><circle cx="99.49" cy="169.81" r="0.78" fill="#f4a878"/><circle cx="100.09" cy="170.94" r="0.78" fill="#f4a878"/><circle cx="100.3" cy="168.37" r="0.78" fill="#f4a878"/><circle cx="100.71" cy="168.46" r="0.78" fill="#f4a878"/><circle cx="101.53" cy="167.92" r="0.78" fill="#f4a878"/><circle cx="101.5" cy="167.93" r="0.78" fill="#f4a878"/><circle cx="101.97" cy="169.5" r="0.78" fill="#f4a878"/><circle cx="102.48" cy="167.1" r="0.78" fill="#f4a878"/><circle cx="102.74" cy="166.97" r="0.78" fill="#f4a878"/><circle cx="103.01" cy="166.85" r="0.78" fill="#f4a878"/><circle cx="103.91" cy="167.64" r="0.78" fill="#f4a878"/><circle cx="104.06" cy="166.83" r="0.78" fill="#f4a878"/><circle cx="104.52" cy="167.67" r="0.78" fill="#f4a878"/><circle cx="104.97" cy="165.88" r="0.78" fill="#f4a878"/><circle cx="105.3" cy="165.04" r="0.78" fill="#f4a878"/><circle cx="105.71" cy="165.49" r="0.78" fill="#f4a878"/><circle cx="106.32" cy="165.71" r="0.78" fill="#f4a878"/><circle cx="107.09" cy="164.51" r="0.78" fill="#f4a878"/><circle cx="107.26" cy="165.36" r="0.78" fill="#f4a878"/><circle cx="107.69" cy="166.52" r="0.78" fill="#f4a878"/><circle cx="107.78" cy="163.98" r="0.78" fill="#f4a878"/><circle cx="108.42" cy="164.28" r="0.78" fill="#f4a878"/><circle cx="108.68" cy="165.23" r="0.78" fill="#f4a878"/><circle cx="109.39" cy="163.07" r="0.78" fill="#f4a878"/><circle cx="109.67" cy="162.6" r="0.78" fill="#f4a878"/><circle cx="110.14" cy="162.09" r="0.78" fill="#f4a878"/><circle cx="110.54" cy="163.22" r="0.78" fill="#f4a878"/><circle cx="110.89" cy="163.05" r="0.78" fill="#f4a878"/><circle cx="111.18" cy="162.16" r="0.78" fill="#f4a878"/><circle cx="111.92" cy="162.06" r="0.78" fill="#f4a878"/><circle cx="112.05" cy="162.95" r="0.78" fill="#f4a878"/><circle cx="112.51" cy="162.3" r="0.78" fill="#f4a878"/><circle cx="113.06" cy="159.91" r="0.78" fill="#f4a878"/><circle cx="113.43" cy="160.95" r="0.78" fill="#f4a878"/><circle cx="114" cy="160.79" r="0.78" fill="#f4a878"/><circle cx="114.54" cy="161.1" r="0.78" fill="#f4a878"/><circle cx="114.85" cy="159.96" r="0.78" fill="#f4a878"/><circle cx="115.27" cy="159.31" r="0.78" fill="#f4a878"/><circle cx="115.67" cy="159.22" r="0.78" fill="#f4a878"/><circle cx="116.22" cy="157.74" r="0.78" fill="#f4a878"/><circle cx="116.24" cy="159.11" r="0.78" fill="#f4a878"/><circle cx="116.99" cy="158.33" r="0.78" fill="#f4a878"/><circle cx="117.22" cy="159.06" r="0.78" fill="#f4a878"/><circle cx="117.6" cy="157.42" r="0.78" fill="#f4a878"/><circle cx="118.22" cy="157.72" r="0.78" fill="#f4a878"/><circle cx="118.58" cy="156.97" r="0.78" fill="#f4a878"/><circle cx="119.15" cy="156.64" r="0.78" fill="#f4a878"/><circle cx="119.66" cy="158.03" r="0.78" fill="#f4a878"/><circle cx="119.57" cy="156.71" r="0.78" fill="#f4a878"/><circle cx="120.33" cy="157.3" r="0.78" fill="#f4a878"/><circle cx="121.06" cy="155.61" r="0.78" fill="#f4a878"/><circle cx="121.32" cy="156.5" r="0.78" fill="#f4a878"/><circle cx="121.84" cy="154.6" r="0.78" fill="#f4a878"/><circle cx="121.84" cy="156.2" r="1.1" fill="#f4a878"/><circle cx="35.1" cy="380.05" r="0.78" fill="#4c66b0"/><circle cx="35.75" cy="361.32" r="0.78" fill="#4c66b0"/><circle cx="36.22" cy="351.1" r="0.78" fill="#4c66b0"/><circle cx="36.48" cy="340.53" r="0.78" fill="#4c66b0"/><circle cx="36.78" cy="328.5" r="0.78" fill="#4c66b0"/><circle cx="37.49" cy="321.78" r="0.78" fill="#4c66b0"/><circle cx="37.49" cy="316.11" r="0.78" fill="#4c66b0"/><circle cx="37.93" cy="307.13" r="0.78" fill="#4c66b0"/><circle cx="38.76" cy="304.2" r="0.78" fill="#4c66b0"/><circle cx="39.17" cy="302.5" r="0.78" fill="#4c66b0"/><circle cx="39.65" cy="299.01" r="0.78" fill="#4c66b0"/><circle cx="39.89" cy="291.71" r="0.78" fill="#4c66b0"/><circle cx="40.16" cy="290.83" r="0.78" fill="#4c66b0"/><circle cx="40.7" cy="284.12" r="0.78" fill="#4c66b0"/><circle cx="41.29" cy="280.57" r="0.78" fill="#4c66b0"/><circle cx="41.51" cy="275.67" r="0.78" fill="#4c66b0"/><circle cx="41.95" cy="277.19" r="0.78" fill="#4c66b0"/><circle cx="42.27" cy="272.76" r="0.78" fill="#4c66b0"/><circle cx="42.73" cy="273.8" r="0.78" fill="#4c66b0"/><circle cx="43.46" cy="268.77" r="0.78" fill="#4c66b0"/><circle cx="43.82" cy="266.3" r="0.78" fill="#4c66b0"/><circle cx="44" cy="261.58" r="0.78" fill="#4c66b0"/><circle cx="44.44" cy="263.68" r="0.78" fill="#4c66b0"/><circle cx="44.95" cy="259.33" r="0.78" fill="#4c66b0"/><circle cx="45.54" cy="257.66" r="0.78" fill="#4c66b0"/><circle cx="45.71" cy="253.3" r="0.78" fill="#4c66b0"/><circle cx="46.28" cy="255.36" r="0.78" fill="#4c66b0"/><circle cx="46.41" cy="253.71" r="0.78" fill="#4c66b0"/><circle cx="46.97" cy="250.11" r="0.78" fill="#4c66b0"/><circle cx="47.65" cy="249.35" r="0.78" fill="#4c66b0"/><circle cx="48.14" cy="248.15" r="0.78" fill="#4c66b0"/><circle cx="48.26" cy="247.31" r="0.78" fill="#4c66b0"/><circle cx="48.74" cy="244.83" r="0.78" fill="#4c66b0"/><circle cx="49.41" cy="245.3" r="0.78" fill="#4c66b0"/><circle cx="49.65" cy="241.62" r="0.78" fill="#4c66b0"/><circle cx="50.06" cy="239.85" r="0.78" fill="#4c66b0"/><circle cx="50.64" cy="238.71" r="0.78" fill="#4c66b0"/><circle cx="51.02" cy="235.05" r="0.78" fill="#4c66b0"/><circle cx="51.58" cy="235.81" r="0.78" fill="#4c66b0"/><circle cx="51.96" cy="236.67" r="0.78" fill="#4c66b0"/><circle cx="52.18" cy="234.64" r="0.78" fill="#4c66b0"/><circle cx="52.67" cy="232.26" r="0.78" fill="#4c66b0"/><circle cx="53.11" cy="232.45" r="0.78" fill="#4c66b0"/><circle cx="53.34" cy="228.69" r="0.78" fill="#4c66b0"/><circle cx="53.82" cy="229.56" r="0.78" fill="#4c66b0"/><circle cx="54.54" cy="229.4" r="0.78" fill="#4c66b0"/><circle cx="54.58" cy="228.56" r="0.78" fill="#4c66b0"/><circle cx="55.39" cy="225.92" r="0.78" fill="#4c66b0"/><circle cx="55.71" cy="226.79" r="0.78" fill="#4c66b0"/><circle cx="56.07" cy="226.87" r="0.78" fill="#4c66b0"/><circle cx="56.6" cy="223.39" r="0.78" fill="#4c66b0"/><circle cx="57.02" cy="223.74" r="0.78" fill="#4c66b0"/><circle cx="57.55" cy="220.31" r="0.78" fill="#4c66b0"/><circle cx="57.74" cy="218.98" r="0.78" fill="#4c66b0"/><circle cx="58.19" cy="220.89" r="0.78" fill="#4c66b0"/><circle cx="58.61" cy="219.4" r="0.78" fill="#4c66b0"/><circle cx="59.36" cy="218.72" r="0.78" fill="#4c66b0"/><circle cx="59.64" cy="217.04" r="0.78" fill="#4c66b0"/><circle cx="59.78" cy="216.53" r="0.78" fill="#4c66b0"/><circle cx="60.3" cy="216.9" r="0.78" fill="#4c66b0"/><circle cx="60.67" cy="217.07" r="0.78" fill="#4c66b0"/><circle cx="61.2" cy="214.22" r="0.78" fill="#4c66b0"/><circle cx="61.66" cy="211.92" r="0.78" fill="#4c66b0"/><circle cx="62.4" cy="214.26" r="0.78" fill="#4c66b0"/><circle cx="62.2" cy="212.8" r="0.78" fill="#4c66b0"/><circle cx="63.06" cy="212.15" r="0.78" fill="#4c66b0"/><circle cx="63.39" cy="210.89" r="0.78" fill="#4c66b0"/><circle cx="63.65" cy="212.43" r="0.78" fill="#4c66b0"/><circle cx="64.16" cy="209.36" r="0.78" fill="#4c66b0"/><circle cx="64.53" cy="209.12" r="0.78" fill="#4c66b0"/><circle cx="65.04" cy="205.96" r="0.78" fill="#4c66b0"/><circle cx="65.61" cy="206.62" r="0.78" fill="#4c66b0"/><circle cx="65.65" cy="205.84" r="0.78" fill="#4c66b0"/><circle cx="66.5" cy="205.86" r="0.78" fill="#4c66b0"/><circle cx="66.68" cy="205.6" r="0.78" fill="#4c66b0"/><circle cx="67.38" cy="203.83" r="0.78" fill="#4c66b0"/><circle cx="67.65" cy="205.76" r="0.78" fill="#4c66b0"/><circle cx="68.19" cy="202.24" r="0.78" fill="#4c66b0"/><circle cx="68.52" cy="202.26" r="0.78" fill="#4c66b0"/><circle cx="69.02" cy="202.36" r="0.78" fill="#4c66b0"/><circle cx="69.29" cy="200.23" r="0.78" fill="#4c66b0"/><circle cx="69.59" cy="201.5" r="0.78" fill="#4c66b0"/><circle cx="70.24" cy="200.98" r="0.78" fill="#4c66b0"/><circle cx="70.67" cy="199.45" r="0.78" fill="#4c66b0"/><circle cx="71.3" cy="201.13" r="0.78" fill="#4c66b0"/><circle cx="71.11" cy="198.69" r="0.78" fill="#4c66b0"/><circle cx="71.81" cy="198.34" r="0.78" fill="#4c66b0"/><circle cx="72.42" cy="196.52" r="0.78" fill="#4c66b0"/><circle cx="72.5" cy="195.25" r="0.78" fill="#4c66b0"/><circle cx="73.08" cy="195.77" r="0.78" fill="#4c66b0"/><circle cx="73.86" cy="195.54" r="0.78" fill="#4c66b0"/><circle cx="74.18" cy="194.88" r="0.78" fill="#4c66b0"/><circle cx="74.26" cy="195.59" r="0.78" fill="#4c66b0"/><circle cx="75.03" cy="191.89" r="0.78" fill="#4c66b0"/><circle cx="75.42" cy="192.64" r="0.78" fill="#4c66b0"/><circle cx="75.79" cy="191.44" r="0.78" fill="#4c66b0"/><circle cx="76.15" cy="194.11" r="0.78" fill="#4c66b0"/><circle cx="76.56" cy="191.7" r="0.78" fill="#4c66b0"/><circle cx="76.81" cy="191.26" r="0.78" fill="#4c66b0"/><circle cx="77.29" cy="190.19" r="0.78" fill="#4c66b0"/><circle cx="77.91" cy="191.7" r="0.78" fill="#4c66b0"/><circle cx="78.24" cy="189.92" r="0.78" fill="#4c66b0"/><circle cx="78.93" cy="190.07" r="0.78" fill="#4c66b0"/><circle cx="79.02" cy="187.36" r="0.78" fill="#4c66b0"/><circle cx="79.14" cy="190.08" r="0.78" fill="#4c66b0"/><circle cx="79.87" cy="188.85" r="0.78" fill="#4c66b0"/><circle cx="80.39" cy="188.55" r="0.78" fill="#4c66b0"/><circle cx="80.83" cy="188.77" r="0.78" fill="#4c66b0"/><circle cx="81.21" cy="186.91" r="0.78" fill="#4c66b0"/><circle cx="81.5" cy="186.49" r="0.78" fill="#4c66b0"/><circle cx="82.28" cy="186.93" r="0.78" fill="#4c66b0"/><circle cx="82.38" cy="186.2" r="0.78" fill="#4c66b0"/><circle cx="83.01" cy="185.11" r="0.78" fill="#4c66b0"/><circle cx="83.29" cy="184.96" r="0.78" fill="#4c66b0"/><circle cx="83.57" cy="184" r="0.78" fill="#4c66b0"/><circle cx="84.39" cy="184.78" r="0.78" fill="#4c66b0"/><circle cx="84.23" cy="184.57" r="0.78" fill="#4c66b0"/><circle cx="84.9" cy="183.25" r="0.78" fill="#4c66b0"/><circle cx="85.52" cy="184.67" r="0.78" fill="#4c66b0"/><circle cx="85.83" cy="180.92" r="0.78" fill="#4c66b0"/><circle cx="86.42" cy="181.79" r="0.78" fill="#4c66b0"/><circle cx="86.72" cy="183.29" r="0.78" fill="#4c66b0"/><circle cx="87.09" cy="180.81" r="0.78" fill="#4c66b0"/><circle cx="87.91" cy="179.27" r="0.78" fill="#4c66b0"/><circle cx="87.98" cy="181.8" r="0.78" fill="#4c66b0"/><circle cx="88.41" cy="180.58" r="0.78" fill="#4c66b0"/><circle cx="88.7" cy="178.5" r="0.78" fill="#4c66b0"/><circle cx="89.17" cy="180.04" r="0.78" fill="#4c66b0"/><circle cx="89.81" cy="177.91" r="0.78" fill="#4c66b0"/><circle cx="90.22" cy="177.23" r="0.78" fill="#4c66b0"/><circle cx="90.56" cy="178.01" r="0.78" fill="#4c66b0"/><circle cx="90.88" cy="177.32" r="0.78" fill="#4c66b0"/><circle cx="91.52" cy="176.36" r="0.78" fill="#4c66b0"/><circle cx="91.58" cy="176.7" r="0.78" fill="#4c66b0"/><circle cx="92.21" cy="175.72" r="0.78" fill="#4c66b0"/><circle cx="92.65" cy="176.39" r="0.78" fill="#4c66b0"/><circle cx="92.99" cy="175.95" r="0.78" fill="#4c66b0"/><circle cx="93.56" cy="176.34" r="0.78" fill="#4c66b0"/><circle cx="93.87" cy="174.83" r="0.78" fill="#4c66b0"/><circle cx="94.27" cy="173.64" r="0.78" fill="#4c66b0"/><circle cx="95.09" cy="173.3" r="0.78" fill="#4c66b0"/><circle cx="95.36" cy="173.99" r="0.78" fill="#4c66b0"/><circle cx="95.85" cy="175.36" r="0.78" fill="#4c66b0"/><circle cx="96.1" cy="174.36" r="0.78" fill="#4c66b0"/><circle cx="96.67" cy="172.6" r="0.78" fill="#4c66b0"/><circle cx="97.06" cy="173.78" r="0.78" fill="#4c66b0"/><circle cx="97.55" cy="171.43" r="0.78" fill="#4c66b0"/><circle cx="98.15" cy="173.18" r="0.78" fill="#4c66b0"/><circle cx="98.19" cy="171.52" r="0.78" fill="#4c66b0"/><circle cx="98.69" cy="172.29" r="0.78" fill="#4c66b0"/><circle cx="99.07" cy="171.83" r="0.78" fill="#4c66b0"/><circle cx="98.97" cy="170.65" r="0.78" fill="#4c66b0"/><circle cx="99.72" cy="170.91" r="0.78" fill="#4c66b0"/><circle cx="100.35" cy="169.26" r="0.78" fill="#4c66b0"/><circle cx="100.87" cy="169.89" r="0.78" fill="#4c66b0"/><circle cx="101.12" cy="170.68" r="0.78" fill="#4c66b0"/><circle cx="101.8" cy="173.23" r="0.78" fill="#4c66b0"/><circle cx="102.25" cy="169.69" r="0.78" fill="#4c66b0"/><circle cx="102.42" cy="168.8" r="0.78" fill="#4c66b0"/><circle cx="103.12" cy="167.45" r="0.78" fill="#4c66b0"/><circle cx="103.59" cy="169.11" r="0.78" fill="#4c66b0"/><circle cx="103.83" cy="166.24" r="0.78" fill="#4c66b0"/><circle cx="104.03" cy="166.75" r="0.78" fill="#4c66b0"/><circle cx="104.83" cy="167.55" r="0.78" fill="#4c66b0"/><circle cx="105.01" cy="165.77" r="0.78" fill="#4c66b0"/><circle cx="105.4" cy="168.07" r="0.78" fill="#4c66b0"/><circle cx="105.9" cy="167.36" r="0.78" fill="#4c66b0"/><circle cx="106.23" cy="165.5" r="0.78" fill="#4c66b0"/><circle cx="106.9" cy="165.22" r="0.78" fill="#4c66b0"/><circle cx="107.28" cy="164.21" r="0.78" fill="#4c66b0"/><circle cx="107.77" cy="163.85" r="0.78" fill="#4c66b0"/><circle cx="108.1" cy="165.3" r="0.78" fill="#4c66b0"/><circle cx="108.32" cy="165.19" r="0.78" fill="#4c66b0"/><circle cx="108.84" cy="164.65" r="0.78" fill="#4c66b0"/><circle cx="109.42" cy="164.29" r="0.78" fill="#4c66b0"/><circle cx="109.65" cy="163.24" r="0.78" fill="#4c66b0"/><circle cx="110.58" cy="163.83" r="0.78" fill="#4c66b0"/><circle cx="110.53" cy="161.83" r="0.78" fill="#4c66b0"/><circle cx="110.9" cy="162.95" r="0.78" fill="#4c66b0"/><circle cx="111.59" cy="164.05" r="0.78" fill="#4c66b0"/><circle cx="111.95" cy="163.64" r="0.78" fill="#4c66b0"/><circle cx="112.26" cy="161.69" r="0.78" fill="#4c66b0"/><circle cx="112.66" cy="161.55" r="0.78" fill="#4c66b0"/><circle cx="113.18" cy="162.89" r="0.78" fill="#4c66b0"/><circle cx="113.67" cy="163" r="0.78" fill="#4c66b0"/><circle cx="114.08" cy="159.67" r="0.78" fill="#4c66b0"/><circle cx="114.35" cy="160.41" r="0.78" fill="#4c66b0"/><circle cx="114.88" cy="160.76" r="0.78" fill="#4c66b0"/><circle cx="115.37" cy="161.43" r="0.78" fill="#4c66b0"/><circle cx="115.79" cy="159.25" r="0.78" fill="#4c66b0"/><circle cx="115.63" cy="160.37" r="0.78" fill="#4c66b0"/><circle cx="116.39" cy="159.24" r="0.78" fill="#4c66b0"/><circle cx="116.83" cy="161.48" r="0.78" fill="#4c66b0"/><circle cx="117.34" cy="159.41" r="0.78" fill="#4c66b0"/><circle cx="117.82" cy="158.64" r="0.78" fill="#4c66b0"/><circle cx="118.36" cy="158.2" r="0.78" fill="#4c66b0"/><circle cx="118.74" cy="159.25" r="0.78" fill="#4c66b0"/><circle cx="119.06" cy="158.65" r="0.78" fill="#4c66b0"/><circle cx="119.5" cy="156.76" r="0.78" fill="#4c66b0"/><circle cx="120.19" cy="157.73" r="0.78" fill="#4c66b0"/><circle cx="120.26" cy="156.04" r="0.78" fill="#4c66b0"/><circle cx="120.82" cy="156.34" r="0.78" fill="#4c66b0"/><circle cx="121.44" cy="155.6" r="0.78" fill="#4c66b0"/><circle cx="121.68" cy="155.33" r="0.78" fill="#4c66b0"/><circle cx="121.68" cy="156.6" r="1.1" fill="#4c66b0"/><circle cx="34.88" cy="403.71" r="0.78" fill="#c44cb4"/><circle cx="35.12" cy="376.68" r="0.78" fill="#c44cb4"/><circle cx="35.69" cy="354.63" r="0.78" fill="#c44cb4"/><circle cx="36.15" cy="340.89" r="0.78" fill="#c44cb4"/><circle cx="36.48" cy="331.93" r="0.78" fill="#c44cb4"/><circle cx="36.97" cy="321.7" r="0.78" fill="#c44cb4"/><circle cx="37.06" cy="312.72" r="0.78" fill="#c44cb4"/><circle cx="38.01" cy="307.95" r="0.78" fill="#c44cb4"/><circle cx="38.07" cy="301.3" r="0.78" fill="#c44cb4"/><circle cx="38.33" cy="295.51" r="0.78" fill="#c44cb4"/><circle cx="38.94" cy="291.04" r="0.78" fill="#c44cb4"/><circle cx="39.38" cy="286.62" r="0.78" fill="#c44cb4"/><circle cx="40.02" cy="281.76" r="0.78" fill="#c44cb4"/><circle cx="40.22" cy="277.9" r="0.78" fill="#c44cb4"/><circle cx="40.83" cy="275.14" r="0.78" fill="#c44cb4"/><circle cx="41.07" cy="270.57" r="0.78" fill="#c44cb4"/><circle cx="41.97" cy="267.14" r="0.78" fill="#c44cb4"/><circle cx="42.14" cy="267.74" r="0.78" fill="#c44cb4"/><circle cx="42.78" cy="262.98" r="0.78" fill="#c44cb4"/><circle cx="42.76" cy="260.7" r="0.78" fill="#c44cb4"/><circle cx="43.44" cy="258.12" r="0.78" fill="#c44cb4"/><circle cx="43.62" cy="256" r="0.78" fill="#c44cb4"/><circle cx="44.28" cy="253.78" r="0.78" fill="#c44cb4"/><circle cx="44.72" cy="251.71" r="0.78" fill="#c44cb4"/><circle cx="44.8" cy="248.58" r="0.78" fill="#c44cb4"/><circle cx="45.3" cy="248.79" r="0.78" fill="#c44cb4"/><circle cx="45.72" cy="244.89" r="0.78" fill="#c44cb4"/><circle cx="46.09" cy="245.19" r="0.78" fill="#c44cb4"/><circle cx="46.63" cy="239.85" r="0.78" fill="#c44cb4"/><circle cx="47.02" cy="239.2" r="0.78" fill="#c44cb4"/><circle cx="47.38" cy="240.03" r="0.78" fill="#c44cb4"/><circle cx="48.03" cy="237.08" r="0.78" fill="#c44cb4"/><circle cx="48.53" cy="234.93" r="0.78" fill="#c44cb4"/><circle cx="48.67" cy="234.67" r="0.78" fill="#c44cb4"/><circle cx="49.21" cy="231.56" r="0.78" fill="#c44cb4"/><circle cx="49.72" cy="231.47" r="0.78" fill="#c44cb4"/><circle cx="50.11" cy="227.44" r="0.78" fill="#c44cb4"/><circle cx="50.47" cy="228.15" r="0.78" fill="#c44cb4"/><circle cx="51.12" cy="226.63" r="0.78" fill="#c44cb4"/><circle cx="51.55" cy="226.73" r="0.78" fill="#c44cb4"/><circle cx="51.95" cy="225.88" r="0.78" fill="#c44cb4"/><circle cx="52.24" cy="222.71" r="0.78" fill="#c44cb4"/><circle cx="53" cy="224.32" r="0.78" fill="#c44cb4"/><circle cx="53.38" cy="220.69" r="0.78" fill="#c44cb4"/><circle cx="53.49" cy="217.92" r="0.78" fill="#c44cb4"/><circle cx="53.96" cy="216.47" r="0.78" fill="#c44cb4"/><circle cx="54.58" cy="219.78" r="0.78" fill="#c44cb4"/><circle cx="54.71" cy="216.91" r="0.78" fill="#c44cb4"/><circle cx="55.31" cy="215.26" r="0.78" fill="#c44cb4"/><circle cx="55.68" cy="214.14" r="0.78" fill="#c44cb4"/><circle cx="56" cy="212.78" r="0.78" fill="#c44cb4"/><circle cx="56.49" cy="214.49" r="0.78" fill="#c44cb4"/><circle cx="56.72" cy="211.97" r="0.78" fill="#c44cb4"/><circle cx="57.3" cy="213.08" r="0.78" fill="#c44cb4"/><circle cx="57.5" cy="209.99" r="0.78" fill="#c44cb4"/><circle cx="58.57" cy="206.76" r="0.78" fill="#c44cb4"/><circle cx="58.88" cy="209.34" r="0.78" fill="#c44cb4"/><circle cx="59.26" cy="207.16" r="0.78" fill="#c44cb4"/><circle cx="59.55" cy="206.45" r="0.78" fill="#c44cb4"/><circle cx="60.08" cy="207.55" r="0.78" fill="#c44cb4"/><circle cx="60.55" cy="204.76" r="0.78" fill="#c44cb4"/><circle cx="60.93" cy="205.47" r="0.78" fill="#c44cb4"/><circle cx="61.35" cy="203.42" r="0.78" fill="#c44cb4"/><circle cx="61.5" cy="201.84" r="0.78" fill="#c44cb4"/><circle cx="62.12" cy="202.4" r="0.78" fill="#c44cb4"/><circle cx="62.4" cy="200.47" r="0.78" fill="#c44cb4"/><circle cx="62.73" cy="201.65" r="0.78" fill="#c44cb4"/><circle cx="63.16" cy="200.62" r="0.78" fill="#c44cb4"/><circle cx="63.82" cy="198.95" r="0.78" fill="#c44cb4"/><circle cx="64.34" cy="198.81" r="0.78" fill="#c44cb4"/><circle cx="64.41" cy="198.05" r="0.78" fill="#c44cb4"/><circle cx="65.3" cy="196.47" r="0.78" fill="#c44cb4"/><circle cx="65.68" cy="197" r="0.78" fill="#c44cb4"/><circle cx="65.83" cy="195.15" r="0.78" fill="#c44cb4"/><circle cx="66.24" cy="195.36" r="0.78" fill="#c44cb4"/><circle cx="66.73" cy="193.07" r="0.78" fill="#c44cb4"/><circle cx="67.31" cy="193.51" r="0.78" fill="#c44cb4"/><circle cx="67.53" cy="193.19" r="0.78" fill="#c44cb4"/><circle cx="67.85" cy="191.31" r="0.78" fill="#c44cb4"/><circle cx="68.49" cy="191.07" r="0.78" fill="#c44cb4"/><circle cx="68.56" cy="190.33" r="0.78" fill="#c44cb4"/><circle cx="69.31" cy="191.01" r="0.78" fill="#c44cb4"/><circle cx="69.89" cy="188.92" r="0.78" fill="#c44cb4"/><circle cx="70.19" cy="189.51" r="0.78" fill="#c44cb4"/><circle cx="70.68" cy="190.03" r="0.78" fill="#c44cb4"/><circle cx="71.07" cy="188.25" r="0.78" fill="#c44cb4"/><circle cx="71.53" cy="185.67" r="0.78" fill="#c44cb4"/><circle cx="71.87" cy="186.87" r="0.78" fill="#c44cb4"/><circle cx="72.15" cy="187.23" r="0.78" fill="#c44cb4"/><circle cx="72.66" cy="185.33" r="0.78" fill="#c44cb4"/><circle cx="73.11" cy="186.19" r="0.78" fill="#c44cb4"/><circle cx="73.73" cy="185.15" r="0.78" fill="#c44cb4"/><circle cx="74.22" cy="184.41" r="0.78" fill="#c44cb4"/><circle cx="74.46" cy="183.19" r="0.78" fill="#c44cb4"/><circle cx="74.71" cy="182.41" r="0.78" fill="#c44cb4"/><circle cx="75.14" cy="182.14" r="0.78" fill="#c44cb4"/><circle cx="75.65" cy="181.94" r="0.78" fill="#c44cb4"/><circle cx="76.31" cy="181.89" r="0.78" fill="#c44cb4"/><circle cx="76.57" cy="181.28" r="0.78" fill="#c44cb4"/><circle cx="76.94" cy="180.06" r="0.78" fill="#c44cb4"/><circle cx="77.26" cy="179.93" r="0.78" fill="#c44cb4"/><circle cx="77.93" cy="179.76" r="0.78" fill="#c44cb4"/><circle cx="78.27" cy="177.27" r="0.78" fill="#c44cb4"/><circle cx="78.64" cy="177.64" r="0.78" fill="#c44cb4"/><circle cx="79.09" cy="177.13" r="0.78" fill="#c44cb4"/><circle cx="79.76" cy="177.25" r="0.78" fill="#c44cb4"/><circle cx="79.9" cy="176.71" r="0.78" fill="#c44cb4"/><circle cx="80.61" cy="176.26" r="0.78" fill="#c44cb4"/><circle cx="80.97" cy="175.2" r="0.78" fill="#c44cb4"/><circle cx="81.21" cy="176.27" r="0.78" fill="#c44cb4"/><circle cx="81.76" cy="175.43" r="0.78" fill="#c44cb4"/><circle cx="82.04" cy="173.09" r="0.78" fill="#c44cb4"/><circle cx="82.36" cy="174.27" r="0.78" fill="#c44cb4"/><circle cx="82.87" cy="172.71" r="0.78" fill="#c44cb4"/><circle cx="83.2" cy="175.06" r="0.78" fill="#c44cb4"/><circle cx="83.83" cy="172.51" r="0.78" fill="#c44cb4"/><circle cx="84.19" cy="172.14" r="0.78" fill="#c44cb4"/><circle cx="84.69" cy="172.18" r="0.78" fill="#c44cb4"/><circle cx="85.16" cy="171.48" r="0.78" fill="#c44cb4"/><circle cx="84.99" cy="171.2" r="0.78" fill="#c44cb4"/><circle cx="85.93" cy="172.36" r="0.78" fill="#c44cb4"/><circle cx="86.04" cy="170.66" r="0.78" fill="#c44cb4"/><circle cx="86.76" cy="170.84" r="0.78" fill="#c44cb4"/><circle cx="87.03" cy="170.72" r="0.78" fill="#c44cb4"/><circle cx="87.6" cy="168.27" r="0.78" fill="#c44cb4"/><circle cx="88.22" cy="170.47" r="0.78" fill="#c44cb4"/><circle cx="88.18" cy="169.1" r="0.78" fill="#c44cb4"/><circle cx="88.89" cy="168.97" r="0.78" fill="#c44cb4"/><circle cx="89.28" cy="166.81" r="0.78" fill="#c44cb4"/><circle cx="89.43" cy="168.06" r="0.78" fill="#c44cb4"/><circle cx="90.24" cy="167.28" r="0.78" fill="#c44cb4"/><circle cx="90.57" cy="165.98" r="0.78" fill="#c44cb4"/><circle cx="90.92" cy="168.33" r="0.78" fill="#c44cb4"/><circle cx="91.31" cy="166.3" r="0.78" fill="#c44cb4"/><circle cx="92.32" cy="165.15" r="0.78" fill="#c44cb4"/><circle cx="92.21" cy="165.2" r="0.78" fill="#c44cb4"/><circle cx="92.42" cy="165.52" r="0.78" fill="#c44cb4"/><circle cx="92.98" cy="165.37" r="0.78" fill="#c44cb4"/><circle cx="93.49" cy="164.48" r="0.78" fill="#c44cb4"/><circle cx="93.91" cy="164.74" r="0.78" fill="#c44cb4"/><circle cx="94.38" cy="164.62" r="0.78" fill="#c44cb4"/><circle cx="94.66" cy="161.67" r="0.78" fill="#c44cb4"/><circle cx="95.33" cy="162.04" r="0.78" fill="#c44cb4"/><circle cx="95.6" cy="161.26" r="0.78" fill="#c44cb4"/><circle cx="95.89" cy="161.91" r="0.78" fill="#c44cb4"/><circle cx="96.4" cy="162.85" r="0.78" fill="#c44cb4"/><circle cx="96.89" cy="161.75" r="0.78" fill="#c44cb4"/><circle cx="97.5" cy="159.79" r="0.78" fill="#c44cb4"/><circle cx="97.87" cy="160.17" r="0.78" fill="#c44cb4"/><circle cx="98.17" cy="161.1" r="0.78" fill="#c44cb4"/><circle cx="98.65" cy="159.28" r="0.78" fill="#c44cb4"/><circle cx="99.11" cy="159.37" r="0.78" fill="#c44cb4"/><circle cx="99.81" cy="159.42" r="0.78" fill="#c44cb4"/><circle cx="99.83" cy="157.07" r="0.78" fill="#c44cb4"/><circle cx="100.42" cy="159.22" r="0.78" fill="#c44cb4"/><circle cx="100.89" cy="158.49" r="0.78" fill="#c44cb4"/><circle cx="101.06" cy="158.38" r="0.78" fill="#c44cb4"/><circle cx="101.66" cy="156.6" r="0.78" fill="#c44cb4"/><circle cx="102.08" cy="156.48" r="0.78" fill="#c44cb4"/><circle cx="102.41" cy="156.33" r="0.78" fill="#c44cb4"/><circle cx="102.99" cy="156.82" r="0.78" fill="#c44cb4"/><circle cx="103.49" cy="156.34" r="0.78" fill="#c44cb4"/><circle cx="103.93" cy="156.09" r="0.78" fill="#c44cb4"/><circle cx="104.15" cy="157.36" r="0.78" fill="#c44cb4"/><circle cx="104.64" cy="156.59" r="0.78" fill="#c44cb4"/><circle cx="105.39" cy="154.38" r="0.78" fill="#c44cb4"/><circle cx="105.29" cy="154.14" r="0.78" fill="#c44cb4"/><circle cx="105.92" cy="156.08" r="0.78" fill="#c44cb4"/><circle cx="106.44" cy="153.86" r="0.78" fill="#c44cb4"/><circle cx="106.76" cy="155.17" r="0.78" fill="#c44cb4"/><circle cx="107.26" cy="155.08" r="0.78" fill="#c44cb4"/><circle cx="107.61" cy="152.77" r="0.78" fill="#c44cb4"/><circle cx="108.12" cy="152.74" r="0.78" fill="#c44cb4"/><circle cx="108.63" cy="152.79" r="0.78" fill="#c44cb4"/><circle cx="108.83" cy="151.61" r="0.78" fill="#c44cb4"/><circle cx="109.32" cy="151.22" r="0.78" fill="#c44cb4"/><circle cx="109.71" cy="151.48" r="0.78" fill="#c44cb4"/><circle cx="110.08" cy="152.37" r="0.78" fill="#c44cb4"/><circle cx="110.56" cy="150.87" r="0.78" fill="#c44cb4"/><circle cx="110.82" cy="150.82" r="0.78" fill="#c44cb4"/><circle cx="111.53" cy="150.3" r="0.78" fill="#c44cb4"/><circle cx="112.1" cy="149.19" r="0.78" fill="#c44cb4"/><circle cx="112.52" cy="151.58" r="0.78" fill="#c44cb4"/><circle cx="112.88" cy="147.73" r="0.78" fill="#c44cb4"/><circle cx="112.97" cy="149.03" r="0.78" fill="#c44cb4"/><circle cx="113.77" cy="149.9" r="0.78" fill="#c44cb4"/><circle cx="113.86" cy="147.81" r="0.78" fill="#c44cb4"/><circle cx="114.39" cy="149.41" r="0.78" fill="#c44cb4"/><circle cx="115.1" cy="149.74" r="0.78" fill="#c44cb4"/><circle cx="115.08" cy="147.51" r="0.78" fill="#c44cb4"/><circle cx="115.8" cy="148.25" r="0.78" fill="#c44cb4"/><circle cx="116.14" cy="146.76" r="0.78" fill="#c44cb4"/><circle cx="116.5" cy="148" r="0.78" fill="#c44cb4"/><circle cx="116.82" cy="147.35" r="0.78" fill="#c44cb4"/><circle cx="117.44" cy="147.22" r="0.78" fill="#c44cb4"/><circle cx="117.73" cy="148.03" r="0.78" fill="#c44cb4"/><circle cx="118.38" cy="146.94" r="0.78" fill="#c44cb4"/><circle cx="118.83" cy="147.5" r="0.78" fill="#c44cb4"/><circle cx="118.87" cy="146.59" r="0.78" fill="#c44cb4"/><circle cx="119.42" cy="144.64" r="0.78" fill="#c44cb4"/><circle cx="119.88" cy="145.74" r="0.78" fill="#c44cb4"/><circle cx="120.17" cy="145.71" r="0.78" fill="#c44cb4"/><circle cx="120.61" cy="143.67" r="0.78" fill="#c44cb4"/><circle cx="121.22" cy="146" r="0.78" fill="#c44cb4"/><circle cx="121.6" cy="144.58" r="0.78" fill="#c44cb4"/><circle cx="121.6" cy="144.5" r="1.1" fill="#c44cb4"/><circle cx="34.55" cy="355.38" r="0.78" fill="#4aa2dc"/><circle cx="35.53" cy="330.79" r="0.78" fill="#4aa2dc"/><circle cx="35.84" cy="316.56" r="0.78" fill="#4aa2dc"/><circle cx="36.17" cy="301.14" r="0.78" fill="#4aa2dc"/><circle cx="36.56" cy="292.62" r="0.78" fill="#4aa2dc"/><circle cx="36.89" cy="289.63" r="0.78" fill="#4aa2dc"/><circle cx="37.32" cy="282.7" r="0.78" fill="#4aa2dc"/><circle cx="37.9" cy="272.31" r="0.78" fill="#4aa2dc"/><circle cx="38.12" cy="267.96" r="0.78" fill="#4aa2dc"/><circle cx="38.84" cy="266.33" r="0.78" fill="#4aa2dc"/><circle cx="39.01" cy="260.02" r="0.78" fill="#4aa2dc"/><circle cx="39.37" cy="257.85" r="0.78" fill="#4aa2dc"/><circle cx="40.13" cy="254.27" r="0.78" fill="#4aa2dc"/><circle cx="40.34" cy="252.66" r="0.78" fill="#4aa2dc"/><circle cx="40.87" cy="245.49" r="0.78" fill="#4aa2dc"/><circle cx="41.15" cy="243.33" r="0.78" fill="#4aa2dc"/><circle cx="41.3" cy="242.19" r="0.78" fill="#4aa2dc"/><circle cx="42.14" cy="242.85" r="0.78" fill="#4aa2dc"/><circle cx="42.28" cy="239.06" r="0.78" fill="#4aa2dc"/><circle cx="43.07" cy="234.91" r="0.78" fill="#4aa2dc"/><circle cx="43.1" cy="235.78" r="0.78" fill="#4aa2dc"/><circle cx="43.48" cy="234.12" r="0.78" fill="#4aa2dc"/><circle cx="44.23" cy="231.07" r="0.78" fill="#4aa2dc"/><circle cx="44.68" cy="229.21" r="0.78" fill="#4aa2dc"/><circle cx="45.05" cy="228.49" r="0.78" fill="#4aa2dc"/><circle cx="45.28" cy="227.82" r="0.78" fill="#4aa2dc"/><circle cx="46.02" cy="224.96" r="0.78" fill="#4aa2dc"/><circle cx="46.09" cy="223.92" r="0.78" fill="#4aa2dc"/><circle cx="46.67" cy="221.76" r="0.78" fill="#4aa2dc"/><circle cx="47.05" cy="219.96" r="0.78" fill="#4aa2dc"/><circle cx="47.53" cy="217.97" r="0.78" fill="#4aa2dc"/><circle cx="48.14" cy="218.06" r="0.78" fill="#4aa2dc"/><circle cx="48.35" cy="216.13" r="0.78" fill="#4aa2dc"/><circle cx="48.95" cy="214.97" r="0.78" fill="#4aa2dc"/><circle cx="49.4" cy="215.15" r="0.78" fill="#4aa2dc"/><circle cx="49.46" cy="213.47" r="0.78" fill="#4aa2dc"/><circle cx="49.97" cy="212.78" r="0.78" fill="#4aa2dc"/><circle cx="50.51" cy="208.85" r="0.78" fill="#4aa2dc"/><circle cx="50.91" cy="210.24" r="0.78" fill="#4aa2dc"/><circle cx="51.47" cy="207.88" r="0.78" fill="#4aa2dc"/><circle cx="51.56" cy="206.61" r="0.78" fill="#4aa2dc"/><circle cx="52.38" cy="205.57" r="0.78" fill="#4aa2dc"/><circle cx="52.81" cy="206.94" r="0.78" fill="#4aa2dc"/><circle cx="53.1" cy="205.55" r="0.78" fill="#4aa2dc"/><circle cx="53.34" cy="202.89" r="0.78" fill="#4aa2dc"/><circle cx="53.97" cy="201.51" r="0.78" fill="#4aa2dc"/><circle cx="54.32" cy="201.91" r="0.78" fill="#4aa2dc"/><circle cx="54.91" cy="200.52" r="0.78" fill="#4aa2dc"/><circle cx="55.24" cy="202.02" r="0.78" fill="#4aa2dc"/><circle cx="55.78" cy="197.73" r="0.78" fill="#4aa2dc"/><circle cx="56.04" cy="196.52" r="0.78" fill="#4aa2dc"/><circle cx="56.74" cy="197.45" r="0.78" fill="#4aa2dc"/><circle cx="56.61" cy="196.95" r="0.78" fill="#4aa2dc"/><circle cx="57.22" cy="196.31" r="0.78" fill="#4aa2dc"/><circle cx="57.88" cy="196.23" r="0.78" fill="#4aa2dc"/><circle cx="58" cy="196.92" r="0.78" fill="#4aa2dc"/><circle cx="58.76" cy="193.57" r="0.78" fill="#4aa2dc"/><circle cx="58.9" cy="192.63" r="0.78" fill="#4aa2dc"/><circle cx="59.52" cy="190.62" r="0.78" fill="#4aa2dc"/><circle cx="59.79" cy="192.08" r="0.78" fill="#4aa2dc"/><circle cx="60.29" cy="192.05" r="0.78" fill="#4aa2dc"/><circle cx="60.81" cy="190.19" r="0.78" fill="#4aa2dc"/><circle cx="61.19" cy="191.07" r="0.78" fill="#4aa2dc"/><circle cx="61.57" cy="189.19" r="0.78" fill="#4aa2dc"/><circle cx="62.38" cy="190.13" r="0.78" fill="#4aa2dc"/><circle cx="62.48" cy="188.24" r="0.78" fill="#4aa2dc"/><circle cx="62.76" cy="186.15" r="0.78" fill="#4aa2dc"/><circle cx="63.47" cy="185.99" r="0.78" fill="#4aa2dc"/><circle cx="63.88" cy="184.44" r="0.78" fill="#4aa2dc"/><circle cx="64.37" cy="183.64" r="0.78" fill="#4aa2dc"/><circle cx="64.88" cy="185.16" r="0.78" fill="#4aa2dc"/><circle cx="64.9" cy="185.21" r="0.78" fill="#4aa2dc"/><circle cx="65.62" cy="185.77" r="0.78" fill="#4aa2dc"/><circle cx="66.06" cy="183.11" r="0.78" fill="#4aa2dc"/><circle cx="66.31" cy="182.37" r="0.78" fill="#4aa2dc"/><circle cx="66.77" cy="180.92" r="0.78" fill="#4aa2dc"/><circle cx="66.71" cy="182.55" r="0.78" fill="#4aa2dc"/><circle cx="67.5" cy="181.4" r="0.78" fill="#4aa2dc"/><circle cx="68.28" cy="179.86" r="0.78" fill="#4aa2dc"/><circle cx="68.17" cy="180.66" r="0.78" fill="#4aa2dc"/><circle cx="68.79" cy="180.02" r="0.78" fill="#4aa2dc"/><circle cx="69.33" cy="177.02" r="0.78" fill="#4aa2dc"/><circle cx="69.8" cy="179.2" r="0.78" fill="#4aa2dc"/><circle cx="70.39" cy="178.08" r="0.78" fill="#4aa2dc"/><circle cx="70.3" cy="177.05" r="0.78" fill="#4aa2dc"/><circle cx="71" cy="176.54" r="0.78" fill="#4aa2dc"/><circle cx="71.55" cy="178.27" r="0.78" fill="#4aa2dc"/><circle cx="71.65" cy="177.58" r="0.78" fill="#4aa2dc"/><circle cx="72.26" cy="177.41" r="0.78" fill="#4aa2dc"/><circle cx="72.98" cy="173.93" r="0.78" fill="#4aa2dc"/><circle cx="73.32" cy="173.98" r="0.78" fill="#4aa2dc"/><circle cx="73.63" cy="175.1" r="0.78" fill="#4aa2dc"/><circle cx="73.58" cy="172.52" r="0.78" fill="#4aa2dc"/><circle cx="74.38" cy="172.57" r="0.78" fill="#4aa2dc"/><circle cx="74.38" cy="173.3" r="1.1" fill="#4aa2dc"/><circle cx="34.97" cy="355.51" r="0.78" fill="#a8cc54"/><circle cx="35.29" cy="324.88" r="0.78" fill="#a8cc54"/><circle cx="35.73" cy="308.78" r="0.78" fill="#a8cc54"/><circle cx="36.02" cy="303.23" r="0.78" fill="#a8cc54"/><circle cx="36.38" cy="287.45" r="0.78" fill="#a8cc54"/><circle cx="36.9" cy="278.61" r="0.78" fill="#a8cc54"/><circle cx="37.35" cy="274.38" r="0.78" fill="#a8cc54"/><circle cx="37.71" cy="267.95" r="0.78" fill="#a8cc54"/><circle cx="38.01" cy="263.11" r="0.78" fill="#a8cc54"/><circle cx="38.61" cy="259.12" r="0.78" fill="#a8cc54"/><circle cx="39.17" cy="256.49" r="0.78" fill="#a8cc54"/><circle cx="39.43" cy="252.08" r="0.78" fill="#a8cc54"/><circle cx="39.93" cy="246.7" r="0.78" fill="#a8cc54"/><circle cx="40.05" cy="245.18" r="0.78" fill="#a8cc54"/><circle cx="40.75" cy="243.19" r="0.78" fill="#a8cc54"/><circle cx="41.19" cy="239.22" r="0.78" fill="#a8cc54"/><circle cx="41.45" cy="238.92" r="0.78" fill="#a8cc54"/><circle cx="41.8" cy="236.04" r="0.78" fill="#a8cc54"/><circle cx="42.55" cy="231.46" r="0.78" fill="#a8cc54"/><circle cx="42.79" cy="231.08" r="0.78" fill="#a8cc54"/><circle cx="43.41" cy="231.21" r="0.78" fill="#a8cc54"/><circle cx="43.7" cy="228.73" r="0.78" fill="#a8cc54"/><circle cx="44.28" cy="224.82" r="0.78" fill="#a8cc54"/><circle cx="44.56" cy="224.27" r="0.78" fill="#a8cc54"/><circle cx="44.81" cy="220.61" r="0.78" fill="#a8cc54"/><circle cx="45.45" cy="218.04" r="0.78" fill="#a8cc54"/><circle cx="45.84" cy="218.96" r="0.78" fill="#a8cc54"/><circle cx="46.41" cy="217.08" r="0.78" fill="#a8cc54"/><circle cx="46.67" cy="215.95" r="0.78" fill="#a8cc54"/><circle cx="47.11" cy="213.9" r="0.78" fill="#a8cc54"/><circle cx="47.72" cy="212.97" r="0.78" fill="#a8cc54"/><circle cx="48.19" cy="210.65" r="0.78" fill="#a8cc54"/><circle cx="48.56" cy="210.56" r="0.78" fill="#a8cc54"/><circle cx="49.02" cy="209.75" r="0.78" fill="#a8cc54"/><circle cx="49.36" cy="207.5" r="0.78" fill="#a8cc54"/><circle cx="49.83" cy="207.36" r="0.78" fill="#a8cc54"/><circle cx="50.28" cy="203.22" r="0.78" fill="#a8cc54"/><circle cx="50.63" cy="203.27" r="0.78" fill="#a8cc54"/><circle cx="51" cy="204.76" r="0.78" fill="#a8cc54"/><circle cx="51.44" cy="204.08" r="0.78" fill="#a8cc54"/><circle cx="52.21" cy="201.33" r="0.78" fill="#a8cc54"/><circle cx="52.27" cy="199.93" r="0.78" fill="#a8cc54"/><circle cx="52.66" cy="197.64" r="0.78" fill="#a8cc54"/><circle cx="53.07" cy="198.54" r="0.78" fill="#a8cc54"/><circle cx="53.54" cy="198.07" r="0.78" fill="#a8cc54"/><circle cx="54.01" cy="194.63" r="0.78" fill="#a8cc54"/><circle cx="54.23" cy="196.03" r="0.78" fill="#a8cc54"/><circle cx="54.53" cy="195.08" r="0.78" fill="#a8cc54"/><circle cx="55.29" cy="194.17" r="0.78" fill="#a8cc54"/><circle cx="55.43" cy="191.61" r="0.78" fill="#a8cc54"/><circle cx="56.14" cy="192.63" r="0.78" fill="#a8cc54"/><circle cx="56.55" cy="189.59" r="0.78" fill="#a8cc54"/><circle cx="57.12" cy="192.08" r="0.78" fill="#a8cc54"/><circle cx="57.63" cy="189.82" r="0.78" fill="#a8cc54"/><circle cx="57.86" cy="187.65" r="0.78" fill="#a8cc54"/><circle cx="58.14" cy="189.63" r="0.78" fill="#a8cc54"/><circle cx="58.48" cy="188.69" r="0.78" fill="#a8cc54"/><circle cx="58.96" cy="186.03" r="0.78" fill="#a8cc54"/><circle cx="59.51" cy="188.39" r="0.78" fill="#a8cc54"/><circle cx="59.62" cy="184.25" r="0.78" fill="#a8cc54"/><circle cx="60.37" cy="184.98" r="0.78" fill="#a8cc54"/><circle cx="60.78" cy="185.24" r="0.78" fill="#a8cc54"/><circle cx="61.3" cy="180.9" r="0.78" fill="#a8cc54"/><circle cx="61.58" cy="183.73" r="0.78" fill="#a8cc54"/><circle cx="62.07" cy="181.96" r="0.78" fill="#a8cc54"/><circle cx="62.37" cy="181.38" r="0.78" fill="#a8cc54"/><circle cx="62.84" cy="179.64" r="0.78" fill="#a8cc54"/><circle cx="63.07" cy="180.52" r="0.78" fill="#a8cc54"/><circle cx="63.78" cy="178.4" r="0.78" fill="#a8cc54"/><circle cx="64.42" cy="177.95" r="0.78" fill="#a8cc54"/><circle cx="64.63" cy="177.92" r="0.78" fill="#a8cc54"/><circle cx="65.09" cy="176.53" r="0.78" fill="#a8cc54"/><circle cx="65.31" cy="178.88" r="0.78" fill="#a8cc54"/><circle cx="66.1" cy="175.29" r="0.78" fill="#a8cc54"/><circle cx="66.2" cy="175.34" r="0.78" fill="#a8cc54"/><circle cx="66.86" cy="175.25" r="0.78" fill="#a8cc54"/><circle cx="67.18" cy="175.04" r="0.78" fill="#a8cc54"/><circle cx="67.45" cy="175.32" r="0.78" fill="#a8cc54"/><circle cx="68.17" cy="174.82" r="0.78" fill="#a8cc54"/><circle cx="68.44" cy="173.15" r="0.78" fill="#a8cc54"/><circle cx="68.89" cy="172.55" r="0.78" fill="#a8cc54"/><circle cx="69.36" cy="172.48" r="0.78" fill="#a8cc54"/><circle cx="69.71" cy="172.78" r="0.78" fill="#a8cc54"/><circle cx="70.09" cy="172.16" r="0.78" fill="#a8cc54"/><circle cx="70.64" cy="170.43" r="0.78" fill="#a8cc54"/><circle cx="70.93" cy="168.38" r="0.78" fill="#a8cc54"/><circle cx="71.43" cy="172.18" r="0.78" fill="#a8cc54"/><circle cx="71.43" cy="170" r="1.1" fill="#a8cc54"/><circle cx="34.74" cy="367.61" r="0.78" fill="#e0302c"/><circle cx="35.41" cy="322.98" r="0.78" fill="#e0302c"/><circle cx="35.86" cy="300.08" r="0.78" fill="#e0302c"/><circle cx="36.22" cy="282.7" r="0.78" fill="#e0302c"/><circle cx="36.38" cy="269.86" r="0.78" fill="#e0302c"/><circle cx="37.34" cy="260.61" r="0.78" fill="#e0302c"/><circle cx="37.21" cy="246.07" r="0.78" fill="#e0302c"/><circle cx="37.8" cy="240.85" r="0.78" fill="#e0302c"/><circle cx="38.02" cy="229.82" r="0.78" fill="#e0302c"/><circle cx="38.86" cy="225.17" r="0.78" fill="#e0302c"/><circle cx="39.15" cy="220.1" r="0.78" fill="#e0302c"/><circle cx="39.64" cy="212.15" r="0.78" fill="#e0302c"/><circle cx="39.95" cy="207.81" r="0.78" fill="#e0302c"/><circle cx="40.35" cy="206.11" r="0.78" fill="#e0302c"/><circle cx="40.81" cy="201.71" r="0.78" fill="#e0302c"/><circle cx="40.93" cy="197.44" r="0.78" fill="#e0302c"/><circle cx="41.79" cy="192.74" r="0.78" fill="#e0302c"/><circle cx="42.2" cy="193.17" r="0.78" fill="#e0302c"/><circle cx="42.43" cy="186.71" r="0.78" fill="#e0302c"/><circle cx="42.91" cy="182.61" r="0.78" fill="#e0302c"/><circle cx="43.39" cy="182.88" r="0.78" fill="#e0302c"/><circle cx="44" cy="178.61" r="0.78" fill="#e0302c"/><circle cx="44.26" cy="174.59" r="0.78" fill="#e0302c"/><circle cx="44.62" cy="173.92" r="0.78" fill="#e0302c"/><circle cx="44.97" cy="170.07" r="0.78" fill="#e0302c"/><circle cx="45.24" cy="168.24" r="0.78" fill="#e0302c"/><circle cx="45.81" cy="165.39" r="0.78" fill="#e0302c"/><circle cx="46.33" cy="161.58" r="0.78" fill="#e0302c"/><circle cx="46.71" cy="161.84" r="0.78" fill="#e0302c"/><circle cx="47.18" cy="158.75" r="0.78" fill="#e0302c"/><circle cx="47.71" cy="155.31" r="0.78" fill="#e0302c"/><circle cx="48.09" cy="153.64" r="0.78" fill="#e0302c"/><circle cx="48.49" cy="153.77" r="0.78" fill="#e0302c"/><circle cx="48.97" cy="150.35" r="0.78" fill="#e0302c"/><circle cx="49.33" cy="149.04" r="0.78" fill="#e0302c"/><circle cx="49.72" cy="148" r="0.78" fill="#e0302c"/><circle cx="50.22" cy="145.68" r="0.78" fill="#e0302c"/><circle cx="50.32" cy="142.11" r="0.78" fill="#e0302c"/><circle cx="51.19" cy="142.99" r="0.78" fill="#e0302c"/><circle cx="51.23" cy="141.76" r="0.78" fill="#e0302c"/><circle cx="51.98" cy="140.14" r="0.78" fill="#e0302c"/><circle cx="52.28" cy="139.5" r="0.78" fill="#e0302c"/><circle cx="52.87" cy="136.61" r="0.78" fill="#e0302c"/><circle cx="53.13" cy="135.65" r="0.78" fill="#e0302c"/><circle cx="53.41" cy="135.16" r="0.78" fill="#e0302c"/><circle cx="54.14" cy="131.68" r="0.78" fill="#e0302c"/><circle cx="54.43" cy="132.61" r="0.78" fill="#e0302c"/><circle cx="54.85" cy="131.29" r="0.78" fill="#e0302c"/><circle cx="55.27" cy="128.95" r="0.78" fill="#e0302c"/><circle cx="55.83" cy="128.86" r="0.78" fill="#e0302c"/><circle cx="56.23" cy="126.54" r="0.78" fill="#e0302c"/><circle cx="56.57" cy="123.43" r="0.78" fill="#e0302c"/><circle cx="56.73" cy="124.46" r="0.78" fill="#e0302c"/><circle cx="57.32" cy="122.41" r="0.78" fill="#e0302c"/><circle cx="57.83" cy="121.36" r="0.78" fill="#e0302c"/><circle cx="58.5" cy="119.96" r="0.78" fill="#e0302c"/><circle cx="58.72" cy="120.16" r="0.78" fill="#e0302c"/><circle cx="59.07" cy="118.21" r="0.78" fill="#e0302c"/><circle cx="59.69" cy="115.8" r="0.78" fill="#e0302c"/><circle cx="59.92" cy="116.03" r="0.78" fill="#e0302c"/><circle cx="60.36" cy="115.26" r="0.78" fill="#e0302c"/><circle cx="60.81" cy="112.7" r="0.78" fill="#e0302c"/><circle cx="60.99" cy="112.02" r="0.78" fill="#e0302c"/><circle cx="61.78" cy="111.09" r="0.78" fill="#e0302c"/><circle cx="62.13" cy="109.89" r="0.78" fill="#e0302c"/><circle cx="62.45" cy="109.96" r="0.78" fill="#e0302c"/><circle cx="62.75" cy="109.73" r="0.78" fill="#e0302c"/><circle cx="63.37" cy="109.73" r="0.78" fill="#e0302c"/><circle cx="63.98" cy="108.08" r="0.78" fill="#e0302c"/><circle cx="64.1" cy="107.01" r="0.78" fill="#e0302c"/><circle cx="64.46" cy="106.25" r="0.78" fill="#e0302c"/><circle cx="65.11" cy="105.58" r="0.78" fill="#e0302c"/><circle cx="65.23" cy="102.94" r="0.78" fill="#e0302c"/><circle cx="65.56" cy="103.21" r="0.78" fill="#e0302c"/><circle cx="66.25" cy="101.98" r="0.78" fill="#e0302c"/><circle cx="66.64" cy="100.69" r="0.78" fill="#e0302c"/><circle cx="67.13" cy="99.54" r="0.78" fill="#e0302c"/><circle cx="67.51" cy="98.69" r="0.78" fill="#e0302c"/><circle cx="68.07" cy="98.15" r="0.78" fill="#e0302c"/><circle cx="68.42" cy="96.37" r="0.78" fill="#e0302c"/><circle cx="68.78" cy="97.41" r="0.78" fill="#e0302c"/><circle cx="69.23" cy="96.09" r="0.78" fill="#e0302c"/><circle cx="69.82" cy="95.46" r="0.78" fill="#e0302c"/><circle cx="70.29" cy="94.96" r="0.78" fill="#e0302c"/><circle cx="70.71" cy="94.62" r="0.78" fill="#e0302c"/><circle cx="71.11" cy="92.55" r="0.78" fill="#e0302c"/><circle cx="70.93" cy="92.32" r="0.78" fill="#e0302c"/><circle cx="71.7" cy="90.09" r="0.78" fill="#e0302c"/><circle cx="72.23" cy="88.77" r="0.78" fill="#e0302c"/><circle cx="72.73" cy="88.36" r="0.78" fill="#e0302c"/><circle cx="72.89" cy="91.2" r="0.78" fill="#e0302c"/><circle cx="73.77" cy="87.12" r="0.78" fill="#e0302c"/><circle cx="74.03" cy="88.77" r="0.78" fill="#e0302c"/><circle cx="74.31" cy="89.12" r="0.78" fill="#e0302c"/><circle cx="74.86" cy="86.51" r="0.78" fill="#e0302c"/><circle cx="75.2" cy="87.96" r="0.78" fill="#e0302c"/><circle cx="75.57" cy="87.53" r="0.78" fill="#e0302c"/><circle cx="76.18" cy="85.99" r="0.78" fill="#e0302c"/><circle cx="76.47" cy="86.78" r="0.78" fill="#e0302c"/><circle cx="76.75" cy="84.41" r="0.78" fill="#e0302c"/><circle cx="77.29" cy="82.44" r="0.78" fill="#e0302c"/><circle cx="77.79" cy="83.08" r="0.78" fill="#e0302c"/><circle cx="78.07" cy="81.51" r="0.78" fill="#e0302c"/><circle cx="78.85" cy="80.05" r="0.78" fill="#e0302c"/><circle cx="78.92" cy="79.49" r="0.78" fill="#e0302c"/><circle cx="79.78" cy="82.46" r="0.78" fill="#e0302c"/><circle cx="80.07" cy="79.05" r="0.78" fill="#e0302c"/><circle cx="80.22" cy="78.99" r="0.78" fill="#e0302c"/><circle cx="80.81" cy="77.78" r="0.78" fill="#e0302c"/><circle cx="81.39" cy="78.01" r="0.78" fill="#e0302c"/><circle cx="81.61" cy="77.08" r="0.78" fill="#e0302c"/><circle cx="81.89" cy="76.35" r="0.78" fill="#e0302c"/><circle cx="82.51" cy="75.01" r="0.78" fill="#e0302c"/><circle cx="83.22" cy="74.27" r="0.78" fill="#e0302c"/><circle cx="83.12" cy="74.38" r="0.78" fill="#e0302c"/><circle cx="83.85" cy="74.87" r="0.78" fill="#e0302c"/><circle cx="84.19" cy="76.08" r="0.78" fill="#e0302c"/><circle cx="84.6" cy="74.55" r="0.78" fill="#e0302c"/><circle cx="84.99" cy="74.78" r="0.78" fill="#e0302c"/><circle cx="85.42" cy="72.95" r="0.78" fill="#e0302c"/><circle cx="86.05" cy="71.87" r="0.78" fill="#e0302c"/><circle cx="86.41" cy="70.16" r="0.78" fill="#e0302c"/><circle cx="86.6" cy="70.95" r="0.78" fill="#e0302c"/><circle cx="87.41" cy="68.35" r="0.78" fill="#e0302c"/><circle cx="87.4" cy="69.65" r="0.78" fill="#e0302c"/><circle cx="88.12" cy="71.03" r="0.78" fill="#e0302c"/><circle cx="88.48" cy="69.28" r="0.78" fill="#e0302c"/><circle cx="89.05" cy="69.57" r="0.78" fill="#e0302c"/><circle cx="89.35" cy="67.62" r="0.78" fill="#e0302c"/><circle cx="89.88" cy="66.17" r="0.78" fill="#e0302c"/><circle cx="90.15" cy="66.57" r="0.78" fill="#e0302c"/><circle cx="90.72" cy="66.18" r="0.78" fill="#e0302c"/><circle cx="91.05" cy="67.26" r="0.78" fill="#e0302c"/><circle cx="91.75" cy="67.54" r="0.78" fill="#e0302c"/><circle cx="91.75" cy="64.45" r="0.78" fill="#e0302c"/><circle cx="92.46" cy="64.36" r="0.78" fill="#e0302c"/><circle cx="92.77" cy="64.11" r="0.78" fill="#e0302c"/><circle cx="93.16" cy="63.47" r="0.78" fill="#e0302c"/><circle cx="93.47" cy="62.16" r="0.78" fill="#e0302c"/><circle cx="94.05" cy="63" r="0.78" fill="#e0302c"/><circle cx="94.19" cy="62.82" r="0.78" fill="#e0302c"/><circle cx="94.63" cy="62.4" r="0.78" fill="#e0302c"/><circle cx="95.36" cy="60.44" r="0.78" fill="#e0302c"/><circle cx="95.45" cy="61.05" r="0.78" fill="#e0302c"/><circle cx="96.32" cy="59.07" r="0.78" fill="#e0302c"/><circle cx="96.49" cy="61.18" r="0.78" fill="#e0302c"/><circle cx="97" cy="58.91" r="0.78" fill="#e0302c"/><circle cx="97.4" cy="59.2" r="0.78" fill="#e0302c"/><circle cx="97.87" cy="58.61" r="0.78" fill="#e0302c"/><circle cx="98.19" cy="58.07" r="0.78" fill="#e0302c"/><circle cx="98.61" cy="57.21" r="0.78" fill="#e0302c"/><circle cx="99.07" cy="56.12" r="0.78" fill="#e0302c"/><circle cx="99.67" cy="59.05" r="0.78" fill="#e0302c"/><circle cx="100.11" cy="57.24" r="0.78" fill="#e0302c"/><circle cx="100.55" cy="56.85" r="0.78" fill="#e0302c"/><circle cx="100.84" cy="58.19" r="0.78" fill="#e0302c"/><circle cx="101.18" cy="55.7" r="0.78" fill="#e0302c"/><circle cx="101.39" cy="55.93" r="0.78" fill="#e0302c"/><circle cx="102.16" cy="55.03" r="0.78" fill="#e0302c"/><circle cx="102.62" cy="55.75" r="0.78" fill="#e0302c"/><circle cx="102.86" cy="54.71" r="0.78" fill="#e0302c"/><circle cx="103.46" cy="54.15" r="0.78" fill="#e0302c"/><circle cx="103.96" cy="53.23" r="0.78" fill="#e0302c"/><circle cx="104.21" cy="53.35" r="0.78" fill="#e0302c"/><circle cx="104.78" cy="53.81" r="0.78" fill="#e0302c"/><circle cx="105.09" cy="50.38" r="0.78" fill="#e0302c"/><circle cx="105.21" cy="51.84" r="0.78" fill="#e0302c"/><circle cx="105.82" cy="51.2" r="0.78" fill="#e0302c"/><circle cx="106.26" cy="50.94" r="0.78" fill="#e0302c"/><circle cx="106.83" cy="49" r="0.78" fill="#e0302c"/><circle cx="107.04" cy="51.18" r="0.78" fill="#e0302c"/><circle cx="107.53" cy="49.34" r="0.78" fill="#e0302c"/><circle cx="107.88" cy="49.56" r="0.78" fill="#e0302c"/><circle cx="108.44" cy="48.94" r="0.78" fill="#e0302c"/><circle cx="108.88" cy="47.49" r="0.78" fill="#e0302c"/><circle cx="109.45" cy="48.29" r="0.78" fill="#e0302c"/><circle cx="109.84" cy="46.63" r="0.78" fill="#e0302c"/><circle cx="110.18" cy="47.12" r="0.78" fill="#e0302c"/><circle cx="110.61" cy="47.36" r="0.78" fill="#e0302c"/><circle cx="111.02" cy="47.31" r="0.78" fill="#e0302c"/><circle cx="111.44" cy="47.02" r="0.78" fill="#e0302c"/><circle cx="112.08" cy="46.5" r="0.78" fill="#e0302c"/><circle cx="111.91" cy="48.28" r="0.78" fill="#e0302c"/><circle cx="112.68" cy="46.35" r="0.78" fill="#e0302c"/><circle cx="113.18" cy="44.47" r="0.78" fill="#e0302c"/><circle cx="113.72" cy="44.7" r="0.78" fill="#e0302c"/><circle cx="113.82" cy="44.33" r="0.78" fill="#e0302c"/><circle cx="114.46" cy="44.44" r="0.78" fill="#e0302c"/><circle cx="114.96" cy="43.72" r="0.78" fill="#e0302c"/><circle cx="115.19" cy="43.16" r="0.78" fill="#e0302c"/><circle cx="115.4" cy="45.16" r="0.78" fill="#e0302c"/><circle cx="116.05" cy="43.34" r="0.78" fill="#e0302c"/><circle cx="116.35" cy="42.67" r="0.78" fill="#e0302c"/><circle cx="117.06" cy="42.42" r="0.78" fill="#e0302c"/><circle cx="117.26" cy="42.14" r="0.78" fill="#e0302c"/><circle cx="118.08" cy="43.32" r="0.78" fill="#e0302c"/><circle cx="118.26" cy="42.15" r="0.78" fill="#e0302c"/><circle cx="118.54" cy="42.43" r="0.78" fill="#e0302c"/><circle cx="119.01" cy="38.19" r="0.78" fill="#e0302c"/><circle cx="119.35" cy="41.07" r="0.78" fill="#e0302c"/><circle cx="120" cy="41.44" r="0.78" fill="#e0302c"/><circle cx="120.59" cy="41.98" r="0.78" fill="#e0302c"/><circle cx="120.76" cy="39.87" r="0.78" fill="#e0302c"/><circle cx="121.35" cy="37.95" r="0.78" fill="#e0302c"/><circle cx="121.5" cy="39.78" r="0.78" fill="#e0302c"/><circle cx="122.11" cy="38.38" r="0.78" fill="#e0302c"/><circle cx="122.84" cy="36.98" r="0.78" fill="#e0302c"/><circle cx="122.84" cy="38.6" r="1.1" fill="#e0302c"/><polyline points="224.22,132.95 224.86,130.82 225.5,128.8 226.14,126.88 226.78,125.05 227.42,123.3 228.06,121.62 228.7,120.01 229.34,118.46 229.98,116.97 230.62,115.54 231.26,114.15 231.9,112.81 232.54,111.52 233.18,110.26 233.82,109.05 234.46,107.87 235.1,106.72 235.74,105.61 236.38,104.53 237.02,103.47 237.66,102.45 238.3,101.44 238.94,100.47 239.58,99.51 240.22,98.58 240.86,97.67 241.5,96.78 242.14,95.91 242.78,95.06 243.42,94.23 244.06,93.41 244.7,92.61 245.34,91.83 245.98,91.06 246.62,90.3 247.26,89.56 247.9,88.83 248.54,88.12 249.18,87.42 249.82,86.73 250.46,86.05 251.1,85.38 251.74,84.73 252.38,84.08 253.02,83.45 253.66,82.82 254.3,82.21 254.94,81.6 255.58,81.01 256.22,80.42 256.86,79.84 257.5,79.27 258.14,78.7 258.78,78.15 259.42,77.6 260.06,77.06 260.7,76.53 261.34,76 261.98,75.48 262.62,74.97 263.26,74.46 263.9,73.96 264.54,73.47 265.18,72.98 265.82,72.5 266.46,72.03 267.1,71.56 267.74,71.09 268.38,70.63 269.02,70.18 269.66,69.73 270.3,69.28 270.94,68.84 271.58,68.41 272.22,67.98 272.86,67.55 273.5,67.13 274.14,66.72 274.78,66.3 275.42,65.9 276.06,65.49 276.7,65.09 277.34,64.7 277.98,64.3 278.62,63.92 279.26,63.53 279.9,63.15 280.54,62.77 281.18,62.4 281.82,62.03 282.46,61.66 283.1,61.3 283.74,60.94 284.38,60.58 285.02,60.23 285.66,59.88 286.3,59.53 286.94,59.19 287.58,58.84 288.22,58.5 288.86,58.17 289.5,57.83 290.14,57.5 290.78,57.18 291.42,56.85 292.06,56.53 292.7,56.21 293.34,55.89 293.98,55.58 294.62,55.26 295.26,54.95 295.9,54.65 296.54,54.34 297.18,54.04 297.82,53.74 298.46,53.44 299.1,53.14 299.74,52.85 300.38,52.56 301.02,52.27" fill="none" stroke="#3c4c9c" stroke-width="1.3" stroke-linejoin="round"/><circle cx="213.98" cy="218.82" r="0.75" fill="#3c4c9c"/><circle cx="214.62" cy="203.07" r="0.75" fill="#3c4c9c"/><circle cx="215.26" cy="191.86" r="0.75" fill="#3c4c9c"/><circle cx="215.9" cy="183.16" r="0.75" fill="#3c4c9c"/><circle cx="216.54" cy="176.04" r="0.75" fill="#3c4c9c"/><circle cx="217.18" cy="170.01" r="0.75" fill="#3c4c9c"/><circle cx="217.82" cy="164.78" r="0.75" fill="#3c4c9c"/><circle cx="218.46" cy="160.17" r="0.75" fill="#3c4c9c"/><circle cx="219.1" cy="156.04" r="0.75" fill="#3c4c9c"/><circle cx="219.74" cy="152.3" r="0.75" fill="#3c4c9c"/><circle cx="220.38" cy="148.89" r="0.75" fill="#3c4c9c"/><circle cx="221.02" cy="145.75" r="0.75" fill="#3c4c9c"/><circle cx="221.66" cy="142.83" r="0.75" fill="#3c4c9c"/><circle cx="222.3" cy="140.12" r="0.75" fill="#3c4c9c"/><circle cx="222.94" cy="137.58" r="0.75" fill="#3c4c9c"/><circle cx="223.58" cy="135.2" r="0.75" fill="#3c4c9c"/><circle cx="224.22" cy="132.95" r="0.75" fill="#3c4c9c"/><circle cx="301.02" cy="52.27" r="1.1" fill="#3c4c9c"/><circle cx="213.5" cy="252.8" r="0.7" fill="#555"/><polyline points="221.66,250.43 222.3,248.38 222.94,246.47 223.58,244.67 224.22,242.98 224.86,241.38 225.5,239.87 226.14,238.42 226.78,237.05 227.42,235.74 228.06,234.49 228.7,233.29 229.34,232.13 229.98,231.02 230.62,229.95 231.26,228.92 231.9,227.93 232.54,226.97 233.18,226.04 233.82,225.13 234.46,224.26 235.1,223.41 235.74,222.59 236.38,221.78 237.02,221.01 237.66,220.25 238.3,219.51 238.94,218.79 239.58,218.08 240.22,217.4 240.86,216.73 241.5,216.07 242.14,215.43 242.78,214.8 243.42,214.19 244.06,213.59 244.7,213 245.34,212.43 245.98,211.86 246.62,211.31 247.26,210.77 247.9,210.23 248.54,209.71 249.18,209.19 249.82,208.69 250.46,208.19 251.1,207.71 251.74,207.23 252.38,206.76 253.02,206.29" fill="none" stroke="#e03232" stroke-width="1.1" stroke-linejoin="round"/><circle cx="215.26" cy="288.04" r="0.75" fill="#e03232"/><circle cx="215.9" cy="281.29" r="0.75" fill="#e03232"/><circle cx="216.54" cy="275.79" r="0.75" fill="#e03232"/><circle cx="217.18" cy="271.15" r="0.75" fill="#e03232"/><circle cx="217.82" cy="267.14" r="0.75" fill="#e03232"/><circle cx="218.46" cy="263.61" r="0.75" fill="#e03232"/><circle cx="219.1" cy="260.46" r="0.75" fill="#e03232"/><circle cx="219.74" cy="257.61" r="0.75" fill="#e03232"/><circle cx="220.38" cy="255.02" r="0.75" fill="#e03232"/><circle cx="221.02" cy="252.64" r="0.75" fill="#e03232"/><circle cx="221.66" cy="250.43" r="0.75" fill="#e03232"/><circle cx="253.02" cy="206.29" r="1.1" fill="#e03232"/><circle cx="213.34" cy="327.9" r="0.6" fill="#e03232"/><circle cx="213.98" cy="311.8" r="0.6" fill="#e03232"/><circle cx="214.62" cy="299.29" r="0.6" fill="#e03232"/><circle cx="215.26" cy="284.44" r="0.6" fill="#e03232"/><circle cx="215.9" cy="278.57" r="0.6" fill="#e03232"/><polyline points="222.3,309.28 222.94,307.17 223.58,305.17 224.22,303.28 224.86,301.48 225.5,299.77 226.14,298.12 226.78,296.55 227.42,295.04 228.06,293.59 228.7,292.19 229.34,290.84 229.98,289.54 230.62,288.28 231.26,287.06 231.9,285.88 232.54,284.73 233.18,283.62 233.82,282.53 234.46,281.48 235.1,280.45 235.74,279.45 236.38,278.48 237.02,277.52 237.66,276.59 238.3,275.68 238.94,274.8 239.58,273.93 240.22,273.08 240.86,272.24 241.5,271.43 242.14,270.63 242.78,269.85 243.42,269.08 244.06,268.32 244.7,267.58 245.34,266.86 245.98,266.14 246.62,265.44 247.26,264.75 247.9,264.07 248.54,263.4 249.18,262.75 249.82,262.1 250.46,261.46 251.1,260.84" fill="none" stroke="#1f1f1f" stroke-width="1.1" stroke-linejoin="round"/><circle cx="215.9" cy="342.99" r="0.75" fill="#1f1f1f"/><circle cx="216.54" cy="337.68" r="0.75" fill="#1f1f1f"/><circle cx="217.18" cy="333.1" r="0.75" fill="#1f1f1f"/><circle cx="217.82" cy="329.07" r="0.75" fill="#1f1f1f"/><circle cx="218.46" cy="325.47" r="0.75" fill="#1f1f1f"/><circle cx="219.1" cy="322.2" r="0.75" fill="#1f1f1f"/><circle cx="219.74" cy="319.21" r="0.75" fill="#1f1f1f"/><circle cx="220.38" cy="316.46" r="0.75" fill="#1f1f1f"/><circle cx="221.02" cy="313.9" r="0.75" fill="#1f1f1f"/><circle cx="221.66" cy="311.52" r="0.75" fill="#1f1f1f"/><circle cx="222.3" cy="309.28" r="0.75" fill="#1f1f1f"/><circle cx="251.1" cy="260.84" r="1.1" fill="#1f1f1f"/><circle cx="213.34" cy="383.11" r="0.65" fill="#1f1f1f"/><circle cx="213.98" cy="370.04" r="0.65" fill="#1f1f1f"/><circle cx="214.62" cy="356.55" r="0.65" fill="#1f1f1f"/><circle cx="215.26" cy="349.15" r="0.65" fill="#1f1f1f"/><circle cx="215.9" cy="344.56" r="0.65" fill="#1f1f1f"/><polyline points="219.74,323.88 220.38,321.74 221.02,319.81 221.66,318.07 222.3,316.49 222.94,315.04 223.58,313.71 224.22,312.48 224.86,311.34 225.5,310.28 226.14,309.29 226.78,308.36 227.42,307.49 228.06,306.66 228.7,305.89 229.34,305.16 229.98,304.46 230.62,303.8 231.26,303.17 231.9,302.58 232.54,302.01 233.18,301.47 233.82,300.95 234.46,300.45 235.1,299.97 235.74,299.52 236.38,299.08 237.02,298.66 237.66,298.25 238.3,297.86 238.94,297.48 239.58,297.12 240.22,296.77 240.86,296.43 241.5,296.11 242.14,295.79 242.78,295.49 243.42,295.19 244.06,294.9 244.7,294.63 245.34,294.36 245.98,294.1 246.62,293.84 247.26,293.6 247.9,293.36 248.54,293.13 249.18,292.9 249.82,292.68 250.46,292.47 251.1,292.26 251.74,292.06 252.38,291.86 253.02,291.67 253.66,291.49 254.3,291.3 254.94,291.13 255.58,290.95 256.22,290.78" fill="none" stroke="#5ec3d3" stroke-width="1.2" stroke-linejoin="round"/><circle cx="215.26" cy="352.99" r="0.75" fill="#5ec3d3"/><circle cx="215.9" cy="345.91" r="0.75" fill="#5ec3d3"/><circle cx="216.54" cy="340.4" r="0.75" fill="#5ec3d3"/><circle cx="217.18" cy="335.94" r="0.75" fill="#5ec3d3"/><circle cx="217.82" cy="332.22" r="0.75" fill="#5ec3d3"/><circle cx="218.46" cy="329.05" r="0.75" fill="#5ec3d3"/><circle cx="219.1" cy="326.3" r="0.75" fill="#5ec3d3"/><circle cx="219.74" cy="323.88" r="0.75" fill="#5ec3d3"/><circle cx="256.22" cy="290.78" r="1.1" fill="#5ec3d3"/><circle cx="213.34" cy="405.34" r="0.6" fill="#5ec3d3"/><circle cx="213.98" cy="377.37" r="0.6" fill="#5ec3d3"/><circle cx="214.62" cy="362.67" r="0.6" fill="#5ec3d3"/><circle cx="215.26" cy="352.99" r="0.6" fill="#5ec3d3"/><polyline points="220.38,348.32 221.02,346.9 221.66,345.59 222.3,344.37 222.94,343.22 223.58,342.15 224.22,341.14 224.86,340.18 225.5,339.27 226.14,338.4 226.78,337.58 227.42,336.79 228.06,336.04 228.7,335.32 229.34,334.62" fill="none" stroke="#46aa4e" stroke-width="1.0" stroke-linejoin="round"/><circle cx="220.38" cy="348.32" r="0.75" fill="#46aa4e"/><circle cx="229.34" cy="334.62" r="1.1" fill="#46aa4e"/><circle cx="216.2" cy="397" r="0.6" fill="#46aa4e"/><circle cx="217.5" cy="392" r="0.6" fill="#46aa4e"/><circle cx="219.8" cy="400" r="0.6" fill="#46aa4e"/><circle cx="216.8" cy="370" r="0.6" fill="#46aa4e"/><circle cx="218.2" cy="362" r="0.6" fill="#46aa4e"/><circle cx="213.9" cy="356" r="0.6" fill="#1f1f1f"/><circle cx="213.9" cy="362" r="0.6" fill="#1f1f1f"/><circle cx="213.9" cy="377.5" r="0.6" fill="#1f1f1f"/><circle cx="213.9" cy="403" r="0.6" fill="#1f1f1f"/><circle cx="216.2" cy="342" r="0.6" fill="#1f1f1f"/><circle cx="216.2" cy="345.8" r="0.6" fill="#1f1f1f"/><circle cx="385.1" cy="26.4" r="1.1" fill="#3a52a8"/><circle cx="386.9" cy="28.9" r="1.1" fill="#3a52a8"/><circle cx="388" cy="33.7" r="1.1" fill="#3a52a8"/><circle cx="390.2" cy="39.1" r="1.1" fill="#3a52a8"/><circle cx="391.6" cy="37.5" r="1.1" fill="#3a52a8"/><circle cx="393.4" cy="38.4" r="1.1" fill="#3a52a8"/><circle cx="394.8" cy="44" r="1.1" fill="#3a52a8"/><circle cx="396.2" cy="41" r="1.1" fill="#3a52a8"/><circle cx="397.6" cy="47" r="1.1" fill="#3a52a8"/><circle cx="398.58" cy="46.53" r="1.1" fill="#3a52a8"/><circle cx="399.98" cy="43.64" r="1.1" fill="#3a52a8"/><circle cx="401.39" cy="45.89" r="1.1" fill="#3a52a8"/><circle cx="402.8" cy="44.03" r="1.1" fill="#3a52a8"/><circle cx="404.21" cy="44.5" r="1.1" fill="#3a52a8"/><circle cx="405.61" cy="46.2" r="1.1" fill="#3a52a8"/><circle cx="407.02" cy="44.33" r="1.1" fill="#3a52a8"/><circle cx="408.43" cy="45.63" r="1.1" fill="#3a52a8"/><circle cx="409.84" cy="44.79" r="1.1" fill="#3a52a8"/><circle cx="411.24" cy="47.31" r="1.1" fill="#3a52a8"/><circle cx="412.65" cy="45.06" r="1.1" fill="#3a52a8"/><circle cx="414.06" cy="43.86" r="1.1" fill="#3a52a8"/><circle cx="415.47" cy="43.94" r="1.1" fill="#3a52a8"/><circle cx="416.87" cy="44.15" r="1.1" fill="#3a52a8"/><circle cx="418.28" cy="45.29" r="1.1" fill="#3a52a8"/><circle cx="419.69" cy="45.15" r="1.1" fill="#3a52a8"/><circle cx="421.1" cy="46.22" r="1.1" fill="#3a52a8"/><circle cx="422.51" cy="45.35" r="1.1" fill="#3a52a8"/><circle cx="423.91" cy="45.31" r="1.1" fill="#3a52a8"/><circle cx="425.32" cy="45.53" r="1.1" fill="#3a52a8"/><circle cx="426.73" cy="45.04" r="1.1" fill="#3a52a8"/><circle cx="428.14" cy="45.51" r="1.1" fill="#3a52a8"/><circle cx="429.54" cy="46.06" r="1.1" fill="#3a52a8"/><circle cx="430.95" cy="46.07" r="1.1" fill="#3a52a8"/><circle cx="432.36" cy="44.62" r="1.1" fill="#3a52a8"/><circle cx="433.77" cy="43.28" r="1.1" fill="#3a52a8"/><circle cx="435.17" cy="44.34" r="1.1" fill="#3a52a8"/><circle cx="436.58" cy="45.55" r="1.1" fill="#3a52a8"/><circle cx="437.99" cy="42.51" r="1.1" fill="#3a52a8"/><circle cx="439.4" cy="44.74" r="1.1" fill="#3a52a8"/><circle cx="440.8" cy="45.76" r="1.1" fill="#3a52a8"/><circle cx="442.21" cy="44.66" r="1.1" fill="#3a52a8"/><circle cx="443.62" cy="44.06" r="1.1" fill="#3a52a8"/><circle cx="445.03" cy="47.23" r="1.1" fill="#3a52a8"/><circle cx="446.43" cy="46.83" r="1.1" fill="#3a52a8"/><circle cx="447.84" cy="45.03" r="1.1" fill="#3a52a8"/><circle cx="449.25" cy="46.78" r="1.1" fill="#3a52a8"/><circle cx="450.66" cy="46.77" r="1.1" fill="#3a52a8"/><circle cx="452.06" cy="44.1" r="1.1" fill="#3a52a8"/><circle cx="453.47" cy="48.3" r="1.1" fill="#3a52a8"/><circle cx="454.88" cy="44.33" r="1.1" fill="#3a52a8"/><circle cx="456.29" cy="45.09" r="1.1" fill="#3a52a8"/><circle cx="457.7" cy="44.18" r="1.1" fill="#3a52a8"/><circle cx="459.1" cy="45.48" r="1.1" fill="#3a52a8"/><circle cx="460.51" cy="43.96" r="1.1" fill="#3a52a8"/><circle cx="461.92" cy="45.41" r="1.1" fill="#3a52a8"/><circle cx="463.33" cy="46.61" r="1.1" fill="#3a52a8"/><circle cx="464.73" cy="45.67" r="1.1" fill="#3a52a8"/><circle cx="466.14" cy="45.15" r="1.1" fill="#3a52a8"/><circle cx="467.55" cy="47.15" r="1.1" fill="#3a52a8"/><circle cx="468.96" cy="44.47" r="1.1" fill="#3a52a8"/><circle cx="470.36" cy="46.53" r="1.1" fill="#3a52a8"/><circle cx="471.77" cy="45.15" r="1.1" fill="#3a52a8"/><circle cx="473.18" cy="45.73" r="1.1" fill="#3a52a8"/><circle cx="474.59" cy="45.53" r="1.1" fill="#3a52a8"/><circle cx="475.99" cy="45.65" r="1.1" fill="#3a52a8"/><circle cx="477.4" cy="45.46" r="1.1" fill="#3a52a8"/><circle cx="478.81" cy="44.67" r="1.1" fill="#3a52a8"/><circle cx="480.22" cy="44.91" r="1.1" fill="#3a52a8"/><circle cx="481.62" cy="46.03" r="1.1" fill="#3a52a8"/><circle cx="483.03" cy="45.44" r="1.1" fill="#3a52a8"/><circle cx="484.44" cy="44.28" r="1.1" fill="#3a52a8"/><circle cx="485.85" cy="44.8" r="1.1" fill="#3a52a8"/><circle cx="487.25" cy="44.82" r="1.1" fill="#3a52a8"/><circle cx="488.66" cy="45.53" r="1.1" fill="#3a52a8"/><circle cx="490.07" cy="45.8" r="1.1" fill="#3a52a8"/><circle cx="491.48" cy="45.71" r="1.1" fill="#3a52a8"/><circle cx="492.89" cy="44.9" r="1.1" fill="#3a52a8"/><circle cx="494.29" cy="45.65" r="1.1" fill="#3a52a8"/><circle cx="495.7" cy="44.13" r="1.1" fill="#3a52a8"/><circle cx="497.11" cy="42.47" r="1.1" fill="#3a52a8"/><circle cx="498.52" cy="45.6" r="1.1" fill="#3a52a8"/><circle cx="499.92" cy="43.85" r="1.1" fill="#3a52a8"/><circle cx="501.33" cy="44.63" r="1.1" fill="#3a52a8"/><circle cx="502.74" cy="44.36" r="1.1" fill="#3a52a8"/><circle cx="504.15" cy="46.38" r="1.1" fill="#3a52a8"/><circle cx="505.55" cy="44.37" r="1.1" fill="#3a52a8"/><circle cx="506.96" cy="46.01" r="1.1" fill="#3a52a8"/><circle cx="508.37" cy="45.18" r="1.1" fill="#3a52a8"/><circle cx="509.78" cy="44.37" r="1.1" fill="#3a52a8"/><circle cx="511.18" cy="44" r="1.1" fill="#3a52a8"/><circle cx="512.59" cy="46.25" r="1.1" fill="#3a52a8"/><circle cx="514" cy="46.18" r="1.1" fill="#3a52a8"/><circle cx="515.41" cy="46.61" r="1.1" fill="#3a52a8"/><circle cx="516.81" cy="47.78" r="1.1" fill="#3a52a8"/><circle cx="518.22" cy="46.08" r="1.1" fill="#3a52a8"/><circle cx="519.63" cy="46.1" r="1.1" fill="#3a52a8"/><circle cx="521.04" cy="45.66" r="1.1" fill="#3a52a8"/><circle cx="522.44" cy="45.92" r="1.1" fill="#3a52a8"/><circle cx="523.85" cy="45.43" r="1.1" fill="#3a52a8"/><circle cx="525.26" cy="44.84" r="1.1" fill="#3a52a8"/><circle cx="526.67" cy="48.03" r="1.1" fill="#3a52a8"/><circle cx="528.08" cy="43.79" r="1.1" fill="#3a52a8"/><circle cx="529.48" cy="46.13" r="1.1" fill="#3a52a8"/><circle cx="530.89" cy="46.35" r="1.1" fill="#3a52a8"/><circle cx="532.3" cy="46.03" r="1.1" fill="#3a52a8"/><circle cx="533.71" cy="44.82" r="1.1" fill="#3a52a8"/><circle cx="535.11" cy="45.68" r="1.1" fill="#3a52a8"/><circle cx="536.52" cy="45.39" r="1.1" fill="#3a52a8"/><circle cx="537.93" cy="44.72" r="1.1" fill="#3a52a8"/><circle cx="539.34" cy="45.86" r="1.1" fill="#3a52a8"/><circle cx="540.74" cy="45.47" r="1.1" fill="#3a52a8"/><circle cx="542.15" cy="45.32" r="1.1" fill="#3a52a8"/><circle cx="543.56" cy="46.69" r="1.1" fill="#3a52a8"/><circle cx="544.97" cy="44.78" r="1.1" fill="#3a52a8"/><circle cx="546.37" cy="46.44" r="1.1" fill="#3a52a8"/><circle cx="547.78" cy="45.29" r="1.1" fill="#3a52a8"/><circle cx="549.19" cy="46.44" r="1.1" fill="#3a52a8"/><circle cx="550.6" cy="46.06" r="1.1" fill="#3a52a8"/><circle cx="552" cy="46.26" r="1.1" fill="#3a52a8"/><circle cx="553.41" cy="44.92" r="1.1" fill="#3a52a8"/><circle cx="554.82" cy="45.16" r="1.1" fill="#3a52a8"/><circle cx="556.23" cy="45.08" r="1.1" fill="#3a52a8"/><circle cx="557.63" cy="46.22" r="1.1" fill="#3a52a8"/><circle cx="559.04" cy="46.86" r="1.1" fill="#3a52a8"/><circle cx="560.45" cy="47.23" r="1.1" fill="#3a52a8"/><circle cx="561.86" cy="45.51" r="1.1" fill="#3a52a8"/><circle cx="563.27" cy="46.16" r="1.1" fill="#3a52a8"/><circle cx="564.67" cy="44.3" r="1.1" fill="#3a52a8"/><circle cx="566.08" cy="43.65" r="1.1" fill="#3a52a8"/><circle cx="567.49" cy="45.14" r="1.1" fill="#3a52a8"/><circle cx="568.9" cy="45.37" r="1.1" fill="#3a52a8"/><circle cx="570.3" cy="44.41" r="1.1" fill="#3a52a8"/><circle cx="571.71" cy="44.17" r="1.1" fill="#3a52a8"/><circle cx="573.12" cy="46.72" r="1.1" fill="#3a52a8"/><circle cx="574.53" cy="45.26" r="1.1" fill="#3a52a8"/><circle cx="575.93" cy="44.3" r="1.1" fill="#3a52a8"/><circle cx="577.34" cy="48.71" r="1.1" fill="#3a52a8"/><circle cx="578.75" cy="46.35" r="1.1" fill="#3a52a8"/><circle cx="385.1" cy="83.4" r="1.1" fill="#e02a2a"/><circle cx="386.5" cy="81.2" r="1.1" fill="#e02a2a"/><circle cx="388.3" cy="87" r="1.1" fill="#e02a2a"/><circle cx="389.4" cy="89.2" r="1.1" fill="#e02a2a"/><circle cx="391.2" cy="81.9" r="1.1" fill="#e02a2a"/><circle cx="392.6" cy="84.1" r="1.1" fill="#e02a2a"/><circle cx="394.35" cy="80.75" r="1.1" fill="#e02a2a"/><circle cx="395.76" cy="79.77" r="1.1" fill="#e02a2a"/><circle cx="397.17" cy="81.88" r="1.1" fill="#e02a2a"/><circle cx="398.58" cy="78.31" r="1.1" fill="#e02a2a"/><circle cx="399.98" cy="79.01" r="1.1" fill="#e02a2a"/><circle cx="401.39" cy="79.84" r="1.1" fill="#e02a2a"/><circle cx="402.8" cy="79.97" r="1.1" fill="#e02a2a"/><circle cx="404.21" cy="80.25" r="1.1" fill="#e02a2a"/><circle cx="405.61" cy="79.32" r="1.1" fill="#e02a2a"/><circle cx="407.02" cy="81.18" r="1.1" fill="#e02a2a"/><circle cx="408.43" cy="78.06" r="1.1" fill="#e02a2a"/><circle cx="409.84" cy="78.6" r="1.1" fill="#e02a2a"/><circle cx="411.24" cy="79.19" r="1.1" fill="#e02a2a"/><circle cx="412.65" cy="77.75" r="1.1" fill="#e02a2a"/><circle cx="414.06" cy="77.63" r="1.1" fill="#e02a2a"/><circle cx="415.47" cy="77.31" r="1.1" fill="#e02a2a"/><circle cx="416.87" cy="76.99" r="1.1" fill="#e02a2a"/><circle cx="418.28" cy="76.33" r="1.1" fill="#e02a2a"/><circle cx="419.69" cy="76.85" r="1.1" fill="#e02a2a"/><circle cx="421.1" cy="75.65" r="1.1" fill="#e02a2a"/><circle cx="422.51" cy="77.66" r="1.1" fill="#e02a2a"/><circle cx="423.91" cy="75.4" r="1.1" fill="#e02a2a"/><circle cx="425.32" cy="79.32" r="1.1" fill="#e02a2a"/><circle cx="426.73" cy="78.83" r="1.1" fill="#e02a2a"/><circle cx="428.14" cy="78.1" r="1.1" fill="#e02a2a"/><circle cx="429.54" cy="76.58" r="1.1" fill="#e02a2a"/><circle cx="430.95" cy="76.09" r="1.1" fill="#e02a2a"/><circle cx="432.36" cy="78.01" r="1.1" fill="#e02a2a"/><circle cx="433.77" cy="76.8" r="1.1" fill="#e02a2a"/><circle cx="435.17" cy="77.15" r="1.1" fill="#e02a2a"/><circle cx="436.58" cy="75.69" r="1.1" fill="#e02a2a"/><circle cx="437.99" cy="77.59" r="1.1" fill="#e02a2a"/><circle cx="439.4" cy="75.49" r="1.1" fill="#e02a2a"/><circle cx="440.8" cy="76.43" r="1.1" fill="#e02a2a"/><circle cx="442.21" cy="74.37" r="1.1" fill="#e02a2a"/><circle cx="443.62" cy="75.51" r="1.1" fill="#e02a2a"/><circle cx="445.03" cy="76.73" r="1.1" fill="#e02a2a"/><circle cx="446.43" cy="75.65" r="1.1" fill="#e02a2a"/><circle cx="447.84" cy="75.61" r="1.1" fill="#e02a2a"/><circle cx="449.25" cy="76.93" r="1.1" fill="#e02a2a"/><circle cx="450.66" cy="75.95" r="1.1" fill="#e02a2a"/><circle cx="452.06" cy="77.36" r="1.1" fill="#e02a2a"/><circle cx="453.47" cy="73.32" r="1.1" fill="#e02a2a"/><circle cx="454.88" cy="76.57" r="1.1" fill="#e02a2a"/><circle cx="456.29" cy="76.47" r="1.1" fill="#e02a2a"/><circle cx="457.7" cy="74.2" r="1.1" fill="#e02a2a"/><circle cx="459.1" cy="74.44" r="1.1" fill="#e02a2a"/><circle cx="460.51" cy="76.8" r="1.1" fill="#e02a2a"/><circle cx="461.92" cy="74.65" r="1.1" fill="#e02a2a"/><circle cx="463.33" cy="75.1" r="1.1" fill="#e02a2a"/><circle cx="464.73" cy="76.44" r="1.1" fill="#e02a2a"/><circle cx="466.14" cy="75.4" r="1.1" fill="#e02a2a"/><circle cx="467.55" cy="76.27" r="1.1" fill="#e02a2a"/><circle cx="468.96" cy="74.78" r="1.1" fill="#e02a2a"/><circle cx="470.36" cy="76.04" r="1.1" fill="#e02a2a"/><circle cx="471.77" cy="76.88" r="1.1" fill="#e02a2a"/><circle cx="473.18" cy="76.04" r="1.1" fill="#e02a2a"/><circle cx="386.1" cy="140.1" r="1.1" fill="#62c6d8"/><circle cx="386.3" cy="143" r="1.1" fill="#62c6d8"/><circle cx="387.8" cy="146.7" r="1.1" fill="#62c6d8"/><circle cx="389.8" cy="146.7" r="1.1" fill="#62c6d8"/><circle cx="391.54" cy="149.86" r="1.1" fill="#62c6d8"/><circle cx="392.95" cy="148.52" r="1.1" fill="#62c6d8"/><circle cx="394.35" cy="153.11" r="1.1" fill="#62c6d8"/><circle cx="395.76" cy="152.12" r="1.1" fill="#62c6d8"/><circle cx="397.17" cy="155.27" r="1.1" fill="#62c6d8"/><circle cx="398.58" cy="154.94" r="1.1" fill="#62c6d8"/><circle cx="399.98" cy="154.84" r="1.1" fill="#62c6d8"/><circle cx="401.39" cy="157.14" r="1.1" fill="#62c6d8"/><circle cx="402.8" cy="158.32" r="1.1" fill="#62c6d8"/><circle cx="404.21" cy="159.44" r="1.1" fill="#62c6d8"/><circle cx="405.61" cy="160.81" r="1.1" fill="#62c6d8"/><circle cx="407.02" cy="159.93" r="1.1" fill="#62c6d8"/><circle cx="408.43" cy="162.02" r="1.1" fill="#62c6d8"/><circle cx="409.84" cy="163.06" r="1.1" fill="#62c6d8"/><circle cx="411.24" cy="162.95" r="1.1" fill="#62c6d8"/><circle cx="412.65" cy="163.14" r="1.1" fill="#62c6d8"/><circle cx="414.06" cy="163.88" r="1.1" fill="#62c6d8"/><circle cx="415.47" cy="166.15" r="1.1" fill="#62c6d8"/><circle cx="416.87" cy="166.91" r="1.1" fill="#62c6d8"/><circle cx="418.28" cy="166.16" r="1.1" fill="#62c6d8"/><circle cx="419.69" cy="166.4" r="1.1" fill="#62c6d8"/><circle cx="421.1" cy="169.39" r="1.1" fill="#62c6d8"/><circle cx="422.51" cy="167.56" r="1.1" fill="#62c6d8"/><circle cx="423.91" cy="169.75" r="1.1" fill="#62c6d8"/><circle cx="425.32" cy="169.52" r="1.1" fill="#62c6d8"/><circle cx="426.73" cy="169.31" r="1.1" fill="#62c6d8"/><circle cx="428.14" cy="171.61" r="1.1" fill="#62c6d8"/><circle cx="429.54" cy="171.94" r="1.1" fill="#62c6d8"/><circle cx="430.95" cy="174" r="1.1" fill="#62c6d8"/><circle cx="432.36" cy="175.34" r="1.1" fill="#62c6d8"/><circle cx="433.77" cy="173.72" r="1.1" fill="#62c6d8"/><circle cx="435.17" cy="175.39" r="1.1" fill="#62c6d8"/><circle cx="436.58" cy="175.97" r="1.1" fill="#62c6d8"/><circle cx="437.99" cy="175.13" r="1.1" fill="#62c6d8"/><circle cx="439.4" cy="175.38" r="1.1" fill="#62c6d8"/><circle cx="440.8" cy="178.14" r="1.1" fill="#62c6d8"/><circle cx="442.21" cy="176.91" r="1.1" fill="#62c6d8"/><circle cx="443.62" cy="177.75" r="1.1" fill="#62c6d8"/><circle cx="445.03" cy="178.04" r="1.1" fill="#62c6d8"/><circle cx="446.43" cy="178.7" r="1.1" fill="#62c6d8"/><circle cx="447.84" cy="178.79" r="1.1" fill="#62c6d8"/><circle cx="449.25" cy="180.51" r="1.1" fill="#62c6d8"/><circle cx="450.66" cy="181.47" r="1.1" fill="#62c6d8"/><circle cx="452.06" cy="180.51" r="1.1" fill="#62c6d8"/><circle cx="453.47" cy="180.1" r="1.1" fill="#62c6d8"/><circle cx="454.88" cy="181.87" r="1.1" fill="#62c6d8"/><circle cx="456.29" cy="180.98" r="1.1" fill="#62c6d8"/><circle cx="457.7" cy="182.22" r="1.1" fill="#62c6d8"/><circle cx="459.1" cy="184.37" r="1.1" fill="#62c6d8"/><circle cx="460.51" cy="185.81" r="1.1" fill="#62c6d8"/><circle cx="461.92" cy="184.54" r="1.1" fill="#62c6d8"/><circle cx="463.33" cy="183.71" r="1.1" fill="#62c6d8"/><circle cx="464.73" cy="185.82" r="1.1" fill="#62c6d8"/><circle cx="466.14" cy="183.56" r="1.1" fill="#62c6d8"/><circle cx="467.55" cy="185.4" r="1.1" fill="#62c6d8"/><circle cx="468.96" cy="187.83" r="1.1" fill="#62c6d8"/><circle cx="470.36" cy="187.57" r="1.1" fill="#62c6d8"/><circle cx="471.77" cy="186.11" r="1.1" fill="#62c6d8"/><circle cx="473.18" cy="186.29" r="1.1" fill="#62c6d8"/><circle cx="474.59" cy="188.98" r="1.1" fill="#62c6d8"/><circle cx="475.99" cy="188.59" r="1.1" fill="#62c6d8"/><circle cx="477.4" cy="188.53" r="1.1" fill="#62c6d8"/><circle cx="478.81" cy="189.85" r="1.1" fill="#62c6d8"/><circle cx="480.22" cy="189.39" r="1.1" fill="#62c6d8"/><circle cx="384.9" cy="217.2" r="1.1" fill="#1e1e1e"/><circle cx="386.9" cy="151.8" r="1.1" fill="#1e1e1e"/><circle cx="387.6" cy="147.4" r="1.1" fill="#1e1e1e"/><circle cx="389.2" cy="149" r="1.1" fill="#1e1e1e"/><circle cx="390.6" cy="145" r="1.1" fill="#1e1e1e"/><circle cx="392" cy="141.6" r="1.1" fill="#1e1e1e"/><circle cx="394.35" cy="141.67" r="1.1" fill="#1e1e1e"/><circle cx="395.76" cy="143.09" r="1.1" fill="#1e1e1e"/><circle cx="397.17" cy="142.19" r="1.1" fill="#1e1e1e"/><circle cx="398.58" cy="143.52" r="1.1" fill="#1e1e1e"/><circle cx="399.98" cy="142.05" r="1.1" fill="#1e1e1e"/><circle cx="401.39" cy="141.77" r="1.1" fill="#1e1e1e"/><circle cx="402.8" cy="140.45" r="1.1" fill="#1e1e1e"/><circle cx="404.21" cy="141.31" r="1.1" fill="#1e1e1e"/><circle cx="405.61" cy="143.11" r="1.1" fill="#1e1e1e"/><circle cx="407.02" cy="145.42" r="1.1" fill="#1e1e1e"/><circle cx="408.43" cy="141.13" r="1.1" fill="#1e1e1e"/><circle cx="409.84" cy="141.33" r="1.1" fill="#1e1e1e"/><circle cx="411.24" cy="142.69" r="1.1" fill="#1e1e1e"/><circle cx="412.65" cy="142.82" r="1.1" fill="#1e1e1e"/><circle cx="414.06" cy="141.66" r="1.1" fill="#1e1e1e"/><circle cx="415.47" cy="142.4" r="1.1" fill="#1e1e1e"/><circle cx="416.87" cy="140.71" r="1.1" fill="#1e1e1e"/><circle cx="418.28" cy="142.01" r="1.1" fill="#1e1e1e"/><circle cx="419.69" cy="143.19" r="1.1" fill="#1e1e1e"/><circle cx="421.1" cy="143.91" r="1.1" fill="#1e1e1e"/><circle cx="422.51" cy="142.11" r="1.1" fill="#1e1e1e"/><circle cx="423.91" cy="142.01" r="1.1" fill="#1e1e1e"/><circle cx="425.32" cy="142.71" r="1.1" fill="#1e1e1e"/><circle cx="426.73" cy="143.35" r="1.1" fill="#1e1e1e"/><circle cx="428.14" cy="142.72" r="1.1" fill="#1e1e1e"/><circle cx="429.54" cy="141.48" r="1.1" fill="#1e1e1e"/><circle cx="430.95" cy="142.57" r="1.1" fill="#1e1e1e"/><circle cx="432.36" cy="143.17" r="1.1" fill="#1e1e1e"/><circle cx="433.77" cy="141.49" r="1.1" fill="#1e1e1e"/><circle cx="435.17" cy="140.86" r="1.1" fill="#1e1e1e"/><circle cx="436.58" cy="142.68" r="1.1" fill="#1e1e1e"/><circle cx="437.99" cy="142.53" r="1.1" fill="#1e1e1e"/><circle cx="439.4" cy="143.12" r="1.1" fill="#1e1e1e"/><circle cx="440.8" cy="142.23" r="1.1" fill="#1e1e1e"/><circle cx="442.21" cy="141.5" r="1.1" fill="#1e1e1e"/><circle cx="443.62" cy="141.69" r="1.1" fill="#1e1e1e"/><circle cx="445.03" cy="141.09" r="1.1" fill="#1e1e1e"/><circle cx="446.43" cy="141.16" r="1.1" fill="#1e1e1e"/><circle cx="447.84" cy="141.54" r="1.1" fill="#1e1e1e"/><circle cx="449.25" cy="141.61" r="1.1" fill="#1e1e1e"/><circle cx="450.66" cy="143.19" r="1.1" fill="#1e1e1e"/><circle cx="452.06" cy="140.85" r="1.1" fill="#1e1e1e"/><circle cx="453.47" cy="142.01" r="1.1" fill="#1e1e1e"/><circle cx="454.88" cy="141.46" r="1.1" fill="#1e1e1e"/><circle cx="456.29" cy="143.52" r="1.1" fill="#1e1e1e"/><circle cx="457.7" cy="142.29" r="1.1" fill="#1e1e1e"/><circle cx="459.1" cy="141.65" r="1.1" fill="#1e1e1e"/><circle cx="460.51" cy="142.82" r="1.1" fill="#1e1e1e"/><circle cx="461.92" cy="142.07" r="1.1" fill="#1e1e1e"/><circle cx="463.33" cy="141.52" r="1.1" fill="#1e1e1e"/><circle cx="464.73" cy="143.51" r="1.1" fill="#1e1e1e"/><circle cx="466.14" cy="142.68" r="1.1" fill="#1e1e1e"/><circle cx="467.55" cy="143.68" r="1.1" fill="#1e1e1e"/><circle cx="468.96" cy="143.1" r="1.1" fill="#1e1e1e"/><circle cx="385.4" cy="75" r="1.1" fill="#46aa4a"/><circle cx="386.9" cy="105.8" r="1.1" fill="#46aa4a"/><circle cx="389.8" cy="119" r="1.1" fill="#46aa4a"/><circle cx="388.3" cy="124.8" r="1.1" fill="#46aa4a"/><circle cx="391.2" cy="127.7" r="1.1" fill="#46aa4a"/><circle cx="394.2" cy="135" r="1.1" fill="#46aa4a"/><circle cx="397.1" cy="135.8" r="1.1" fill="#46aa4a"/><circle cx="400" cy="128.5" r="1.1" fill="#46aa4a"/><circle cx="402.2" cy="121.9" r="1.1" fill="#46aa4a"/><circle cx="403.7" cy="119" r="1.1" fill="#46aa4a"/><circle cx="405.1" cy="110.2" r="1.1" fill="#46aa4a"/><circle cx="406.5" cy="111" r="1.1" fill="#46aa4a"/><circle cx="408" cy="113.1" r="1.1" fill="#46aa4a"/><circle cx="409.5" cy="116" r="1.1" fill="#46aa4a"/><circle cx="410.2" cy="118.2" r="1.1" fill="#46aa4a"/><circle cx="411" cy="120" r="1.1" fill="#46aa4a"/><circle cx="412.4" cy="122.6" r="1.1" fill="#46aa4a"/><circle cx="415.3" cy="124.8" r="1.1" fill="#46aa4a"/><circle cx="416.5" cy="124" r="1.1" fill="#46aa4a"/><circle cx="418.3" cy="126.3" r="1.1" fill="#46aa4a"/><circle cx="419.5" cy="128" r="1.1" fill="#46aa4a"/><circle cx="421.2" cy="129.2" r="1.1" fill="#46aa4a"/><circle cx="421.9" cy="132.1" r="1.1" fill="#46aa4a"/><rect x="29.6" y="12.5" width="142" height="394" fill="none" stroke="#666666" stroke-width="1.1"/><rect x="208" y="12.5" width="129.3" height="393.3" fill="none" stroke="#666666" stroke-width="1.1"/><rect x="372.7" y="12.5" width="311.7" height="393.1" fill="none" stroke="#666666" stroke-width="1.1"/><line x1="25" y1="66.3" x2="29.6" y2="66.3" stroke="#666666" stroke-width="1.0"/><text x="22.8" y="69.3" font-size="8.2" fill="#333" text-anchor="end">3.5</text><line x1="25" y1="181" x2="29.6" y2="181" stroke="#666666" stroke-width="1.0"/><text x="22.8" y="184" font-size="8.2" fill="#333" text-anchor="end">3.0</text><line x1="25" y1="295.7" x2="29.6" y2="295.7" stroke="#666666" stroke-width="1.0"/><text x="22.8" y="298.7" font-size="8.2" fill="#333" text-anchor="end">2.5</text><line x1="203.4" y1="41.2" x2="208" y2="41.2" stroke="#666666" stroke-width="1.0"/><text x="201.2" y="44.2" font-size="8.2" fill="#333" text-anchor="end">6.0</text><line x1="203.4" y1="112.4" x2="208" y2="112.4" stroke="#666666" stroke-width="1.0"/><text x="201.2" y="115.4" font-size="8.2" fill="#333" text-anchor="end">5.5</text><line x1="203.4" y1="183.7" x2="208" y2="183.7" stroke="#666666" stroke-width="1.0"/><text x="201.2" y="186.7" font-size="8.2" fill="#333" text-anchor="end">5.0</text><line x1="203.4" y1="254.9" x2="208" y2="254.9" stroke="#666666" stroke-width="1.0"/><text x="201.2" y="257.9" font-size="8.2" fill="#333" text-anchor="end">4.5</text><line x1="203.4" y1="326.2" x2="208" y2="326.2" stroke="#666666" stroke-width="1.0"/><text x="201.2" y="329.2" font-size="8.2" fill="#333" text-anchor="end">4.0</text><line x1="203.4" y1="397.4" x2="208" y2="397.4" stroke="#666666" stroke-width="1.0"/><text x="201.2" y="400.4" font-size="8.2" fill="#333" text-anchor="end">3.5</text><line x1="368.1" y1="29.5" x2="372.7" y2="29.5" stroke="#666666" stroke-width="1.0"/><text x="366.4" y="32.5" font-size="8.2" fill="#333" text-anchor="end">2.5</text><line x1="368.1" y1="101.9" x2="372.7" y2="101.9" stroke="#666666" stroke-width="1.0"/><text x="366.4" y="104.9" font-size="8.2" fill="#333" text-anchor="end">2.0</text><line x1="368.1" y1="174.2" x2="372.7" y2="174.2" stroke="#666666" stroke-width="1.0"/><text x="366.4" y="177.2" font-size="8.2" fill="#333" text-anchor="end">1.5</text><line x1="368.1" y1="246.6" x2="372.7" y2="246.6" stroke="#666666" stroke-width="1.0"/><text x="366.4" y="249.6" font-size="8.2" fill="#333" text-anchor="end">1.0</text><line x1="368.1" y1="318.9" x2="372.7" y2="318.9" stroke="#666666" stroke-width="1.0"/><text x="366.4" y="321.9" font-size="8.2" fill="#333" text-anchor="end">0.5</text><line x1="368.1" y1="391.3" x2="372.7" y2="391.3" stroke="#666666" stroke-width="1.0"/><text x="366.4" y="394.3" font-size="8.2" fill="#333" text-anchor="end">0.0</text><line x1="34.4" y1="406.5" x2="34.4" y2="411" stroke="#666666" stroke-width="1.0"/><text x="34.4" y="420" font-size="8.4" fill="#333" text-anchor="middle">0</text><line x1="55.67" y1="406.5" x2="55.67" y2="411" stroke="#666666" stroke-width="1.0"/><text x="55.67" y="420" font-size="8.4" fill="#333" text-anchor="middle">50</text><line x1="76.95" y1="406.5" x2="76.95" y2="411" stroke="#666666" stroke-width="1.0"/><text x="76.95" y="420" font-size="8.4" fill="#333" text-anchor="middle">100</text><line x1="98.22" y1="406.5" x2="98.22" y2="411" stroke="#666666" stroke-width="1.0"/><text x="98.22" y="420" font-size="8.4" fill="#333" text-anchor="middle">150</text><line x1="119.5" y1="406.5" x2="119.5" y2="411" stroke="#666666" stroke-width="1.0"/><text x="119.5" y="420" font-size="8.4" fill="#333" text-anchor="middle">200</text><line x1="140.78" y1="406.5" x2="140.78" y2="411" stroke="#666666" stroke-width="1.0"/><text x="140.78" y="420" font-size="8.4" fill="#333" text-anchor="middle">250</text><line x1="212.7" y1="405.8" x2="212.7" y2="410.3" stroke="#666666" stroke-width="1.0"/><text x="212.7" y="420" font-size="8.4" fill="#333" text-anchor="middle">0</text><line x1="244.7" y1="405.8" x2="244.7" y2="410.3" stroke="#666666" stroke-width="1.0"/><text x="244.7" y="420" font-size="8.4" fill="#333" text-anchor="middle">50</text><line x1="276.7" y1="405.8" x2="276.7" y2="410.3" stroke="#666666" stroke-width="1.0"/><text x="276.7" y="420" font-size="8.4" fill="#333" text-anchor="middle">100</text><line x1="308.7" y1="405.8" x2="308.7" y2="410.3" stroke="#666666" stroke-width="1.0"/><text x="308.7" y="420" font-size="8.4" fill="#333" text-anchor="middle">150</text><line x1="384.5" y1="405.6" x2="384.5" y2="410.1" stroke="#666666" stroke-width="1.0"/><text x="384.5" y="420" font-size="8.4" fill="#333" text-anchor="middle">0</text><line x1="454.88" y1="405.6" x2="454.88" y2="410.1" stroke="#666666" stroke-width="1.0"/><text x="454.88" y="420" font-size="8.4" fill="#333" text-anchor="middle">50</text><line x1="525.26" y1="405.6" x2="525.26" y2="410.1" stroke="#666666" stroke-width="1.0"/><text x="525.26" y="420" font-size="8.4" fill="#333" text-anchor="middle">100</text><line x1="595.64" y1="405.6" x2="595.64" y2="410.1" stroke="#666666" stroke-width="1.0"/><text x="595.64" y="420" font-size="8.4" fill="#333" text-anchor="middle">150</text><line x1="666.02" y1="405.6" x2="666.02" y2="410.1" stroke="#666666" stroke-width="1.0"/><text x="666.02" y="420" font-size="8.4" fill="#333" text-anchor="middle">200</text><text x="60.5" y="434.6" font-size="9" fill="#333" textLength="80.8" lengthAdjust="spacingAndGlyphs">Number of samples</text><text x="232.2" y="434.4" font-size="9" fill="#333" textLength="80.9" lengthAdjust="spacingAndGlyphs">Number of samples</text><text x="489" y="434.6" font-size="9" fill="#333" textLength="80.5" lengthAdjust="spacingAndGlyphs">Number of samples</text><text x="7.9" y="242.3" font-size="9.1" fill="#333" textLength="65.6" lengthAdjust="spacingAndGlyphs" transform="rotate(-90 7.9 242.3)">Log(discovered)</text><text x="186.7" y="242.7" font-size="9.1" fill="#333" textLength="65.6" lengthAdjust="spacingAndGlyphs" transform="rotate(-90 186.7 242.7)">Log(discovered)</text><text x="352.4" y="246" font-size="9.1" fill="#333" textLength="72.3" lengthAdjust="spacingAndGlyphs" transform="rotate(-90 352.4 246)">Log(genes/OTUs)</text><text x="29.6" y="9" font-size="11.2" fill="#111" font-weight="bold">a</text><text x="208.8" y="9" font-size="11.2" fill="#111" font-weight="bold">b</text><text x="374.6" y="9" font-size="11.2" fill="#111" font-weight="bold">c</text><text x="120.9" y="34.8" font-size="6.5" fill="#e23a5a" textLength="15.1" lengthAdjust="spacingAndGlyphs">Stool</text><text x="94.4" y="127.6" font-size="6.5" fill="#c45cc0" textLength="33" lengthAdjust="spacingAndGlyphs">Subgingival</text><text x="100.2" y="132.9" font-size="6.5" fill="#c45cc0" textLength="19" lengthAdjust="spacingAndGlyphs">plaque</text><text x="124" y="140.9" font-size="6.5" fill="#5a70b4" textLength="40.1" lengthAdjust="spacingAndGlyphs">Supragingival</text><text x="130" y="146.2" font-size="6.5" fill="#5a70b4" textLength="19.5" lengthAdjust="spacingAndGlyphs">plaque</text><text x="124" y="154.2" font-size="6.5" fill="#f6ae84" textLength="44.1" lengthAdjust="spacingAndGlyphs">Palatine tonsils</text><text x="124" y="161.3" font-size="6.5" fill="#72c85a" textLength="17.5" lengthAdjust="spacingAndGlyphs">Saliva</text><text x="124" y="168.3" font-size="6.5" fill="#e2449a" textLength="46" lengthAdjust="spacingAndGlyphs">Tongue dorsum</text><text x="120.4" y="176.9" font-size="6.5" fill="#7c6636" textLength="18.1" lengthAdjust="spacingAndGlyphs">Throat</text><text x="121.3" y="184.5" font-size="6.5" fill="#4656a6" textLength="44.8" lengthAdjust="spacingAndGlyphs">R retroauricular</text><text x="136.2" y="190.2" font-size="6.5" fill="#4656a6" textLength="19" lengthAdjust="spacingAndGlyphs">crease</text><text x="118.1" y="195.6" font-size="6.5" fill="#8cd08c" textLength="41.5" lengthAdjust="spacingAndGlyphs">Anterior nares</text><text x="118.1" y="202.2" font-size="6.5" fill="#e24c8c" textLength="44.4" lengthAdjust="spacingAndGlyphs">L retroauricular</text><text x="143.3" y="208" font-size="6.5" fill="#e24c8c" textLength="19.3" lengthAdjust="spacingAndGlyphs">crease</text><text x="121.6" y="212.4" font-size="6.5" fill="#948640" textLength="19.4" lengthAdjust="spacingAndGlyphs">Buccal</text><text x="132.2" y="218.3" font-size="6.5" fill="#948640" textLength="22.7" lengthAdjust="spacingAndGlyphs">mucosa</text><text x="112.2" y="221.6" font-size="6.5" fill="#86d4b8" textLength="15.5" lengthAdjust="spacingAndGlyphs">Hard</text><text x="127.2" y="225.5" font-size="6.5" fill="#86d4b8" textLength="17.7" lengthAdjust="spacingAndGlyphs">palate</text><text x="107.8" y="240.8" font-size="6.5" fill="#6e7458" textLength="33.2" lengthAdjust="spacingAndGlyphs">Keratinized</text><text x="121.1" y="246" font-size="6.5" fill="#6e7458" textLength="21" lengthAdjust="spacingAndGlyphs">gingiva</text><text x="56.5" y="143.7" font-size="6.5" fill="#b0d070" textLength="36.5" lengthAdjust="spacingAndGlyphs">L antecubita</text><text x="63.9" y="149.8" font-size="6.5" fill="#b0d070" textLength="15.9" lengthAdjust="spacingAndGlyphs">fossa</text><text x="51.1" y="160.6" font-size="6.5" fill="#5aa8dc" textLength="38.8" lengthAdjust="spacingAndGlyphs">R antecubital</text><text x="69" y="166.4" font-size="6.5" fill="#5aa8dc" textLength="15.5" lengthAdjust="spacingAndGlyphs">fossa</text><text x="80" y="267.2" font-size="6.5" fill="#6e62b8" textLength="22" lengthAdjust="spacingAndGlyphs">Vaginal</text><text x="88" y="273.6" font-size="6.5" fill="#6e62b8" textLength="23.9" lengthAdjust="spacingAndGlyphs">introitus</text><text x="78" y="284" font-size="6.5" fill="#70d0e4" textLength="12.8" lengthAdjust="spacingAndGlyphs">Mid-</text><text x="81.2" y="289.5" font-size="6.5" fill="#70d0e4" textLength="18.8" lengthAdjust="spacingAndGlyphs">vagina</text><text x="79.7" y="314.6" font-size="6.5" fill="#7c4cac" textLength="26.7" lengthAdjust="spacingAndGlyphs">Posterior</text><text x="85.2" y="321.2" font-size="6.5" fill="#7c4cac" textLength="16" lengthAdjust="spacingAndGlyphs">fornix</text><text x="306.5" y="55.8" font-size="9.6" fill="#4656a4" textLength="21.2" lengthAdjust="spacingAndGlyphs">Stool</text><text x="258.4" y="204.9" font-size="9.6" fill="#d83848" textLength="27.8" lengthAdjust="spacingAndGlyphs">Buccal</text><text x="261.2" y="216.2" font-size="9.6" fill="#d83848" textLength="32.6" lengthAdjust="spacingAndGlyphs">mucosa</text><text x="256.1" y="258.6" font-size="9.6" fill="#222" textLength="32.2" lengthAdjust="spacingAndGlyphs">Anterior</text><text x="260" y="268.9" font-size="9.6" fill="#222" textLength="21.2" lengthAdjust="spacingAndGlyphs">nares</text><text x="261.2" y="289" font-size="9.6" fill="#5cc4d4" textLength="56" lengthAdjust="spacingAndGlyphs">Supragingival</text><text x="266" y="298" font-size="9.6" fill="#5cc4d4" textLength="27.4" lengthAdjust="spacingAndGlyphs">plaque</text><text x="235" y="333" font-size="9.6" fill="#52ae5a" textLength="37.3" lengthAdjust="spacingAndGlyphs">Posterior</text><text x="239" y="341.9" font-size="9.6" fill="#52ae5a" textLength="22.7" lengthAdjust="spacingAndGlyphs">fornix</text><text x="582.8" y="48.3" font-size="9.1" fill="#4a5aa4">238:1</text><text x="477.6" y="82.9" font-size="9.1" fill="#d8404e">152:1</text><text x="426.6" y="133.7" font-size="9.1" fill="#5cb860">61:1</text><text x="472.8" y="143" font-size="9.1" fill="#2a2a2a">53:1</text><text x="484.4" y="191.7" font-size="9.1" fill="#5cbccc">24:1</text><rect x="551.8" y="324.1" width="6.4" height="4.8" fill="#2f4fa8"/><text x="563" y="329.1" font-size="9.3" fill="#262626">Stool</text><rect x="551.8" y="334.4" width="6.4" height="4.8" fill="#e02a2a"/><text x="563" y="339.4" font-size="9.3" fill="#262626">Buccal mucosa</text><rect x="551.8" y="344.7" width="6.4" height="4.8" fill="#1e1e1e"/><text x="563" y="349.7" font-size="9.3" fill="#262626">Anterior nares</text><rect x="551.8" y="355" width="6.4" height="4.8" fill="#6ac6d8"/><text x="563" y="360" font-size="9.3" fill="#262626">Supragingival plaque</text><rect x="551.8" y="365.3" width="6.4" height="4.8" fill="#3ea84a"/><text x="563" y="370.3" font-size="9.3" fill="#262626">Posterior fornix</text></svg></body></html>
